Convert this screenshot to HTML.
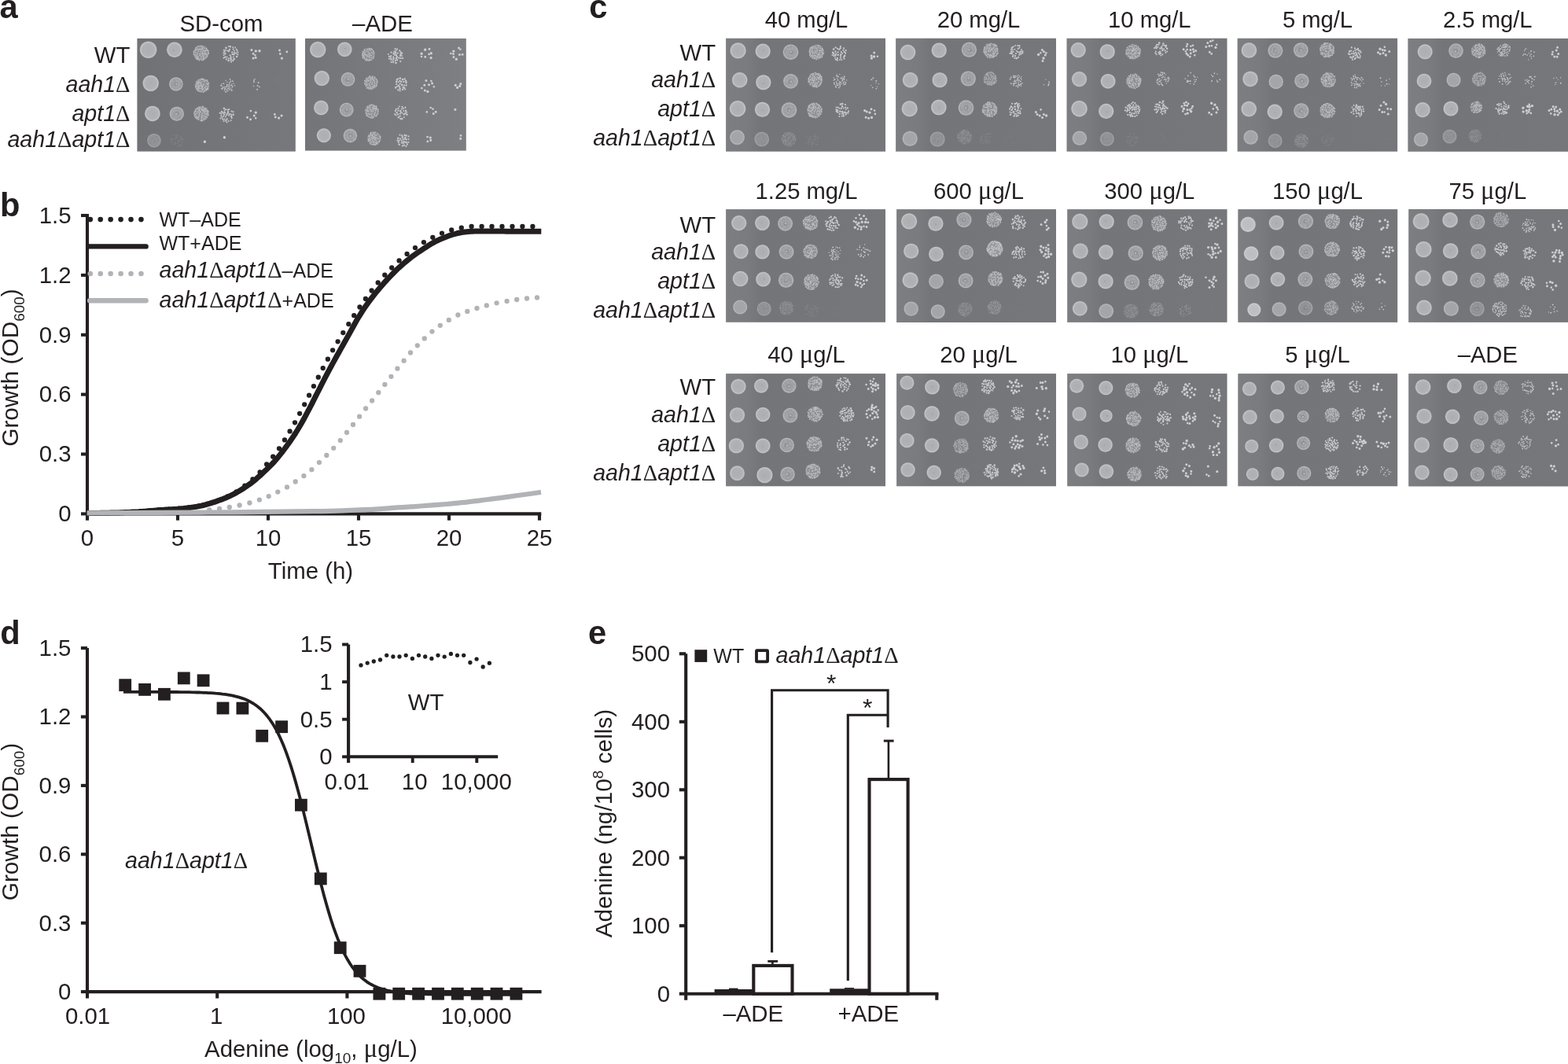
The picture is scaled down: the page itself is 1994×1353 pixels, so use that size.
<!DOCTYPE html>
<html><head><meta charset="utf-8"><title>Figure</title>
<style>
html,body{margin:0;padding:0;background:#fff}
svg{display:block}
text{font-family:"Liberation Sans",sans-serif;fill:#231f20}
.dl{font-family:"Liberation Serif",serif;font-style:normal}
.mu{font-family:"Liberation Serif",serif;font-style:normal;font-size:1.12em}
</style></head><body>
<svg width="1994" height="1353" viewBox="0 0 1994 1353">
<text x="-0.4" y="22.8" font-size="41.7" text-anchor="start" font-weight="bold">a</text>
<text x="281.5" y="39.5" font-size="29.4" text-anchor="middle" >SD-com</text>
<text x="486.5" y="39.5" font-size="29.4" text-anchor="middle" >–ADE</text>
<text x="165.5" y="79.5" font-size="29.4" text-anchor="end" >WT</text>
<text x="165.5" y="117.4" font-size="28.6" text-anchor="end" ><tspan font-style="italic">aah1</tspan><tspan class="dl">Δ</tspan></text>
<text x="165.5" y="153.5" font-size="28.6" text-anchor="end" ><tspan font-style="italic">apt1</tspan><tspan class="dl">Δ</tspan></text>
<text x="165.5" y="187.4" font-size="28.6" text-anchor="end" ><tspan font-style="italic">aah1</tspan><tspan class="dl">Δ</tspan><tspan font-style="italic">apt1</tspan><tspan class="dl">Δ</tspan></text>
<text x="749.2" y="22.8" font-size="41.7" text-anchor="start" font-weight="bold">c</text>
<text x="1025.5" y="34.5" font-size="29.2" text-anchor="middle" >40 mg/L</text>
<text x="1244.5" y="34.5" font-size="29.2" text-anchor="middle" >20 mg/L</text>
<text x="1461.8" y="34.5" font-size="29.2" text-anchor="middle" >10 mg/L</text>
<text x="1675.5" y="34.5" font-size="29.2" text-anchor="middle" >5 mg/L</text>
<text x="1891.8" y="34.5" font-size="29.2" text-anchor="middle" >2.5 mg/L</text>
<text x="910.2" y="76.9" font-size="29.4" text-anchor="end" >WT</text>
<text x="910.2" y="111.2" font-size="28.6" text-anchor="end" ><tspan font-style="italic">aah1</tspan><tspan class="dl">Δ</tspan></text>
<text x="910.2" y="148.3" font-size="28.6" text-anchor="end" ><tspan font-style="italic">apt1</tspan><tspan class="dl">Δ</tspan></text>
<text x="910.2" y="185.2" font-size="28.6" text-anchor="end" ><tspan font-style="italic">aah1</tspan><tspan class="dl">Δ</tspan><tspan font-style="italic">apt1</tspan><tspan class="dl">Δ</tspan></text>
<text x="1025.5" y="252.5" font-size="29.2" text-anchor="middle" >1.25 mg/L</text>
<text x="1244.5" y="252.5" font-size="29.2" text-anchor="middle" >600 <tspan class="mu">μ</tspan>g/L</text>
<text x="1461.8" y="252.5" font-size="29.2" text-anchor="middle" >300 <tspan class="mu">μ</tspan>g/L</text>
<text x="1675.5" y="252.5" font-size="29.2" text-anchor="middle" >150 <tspan class="mu">μ</tspan>g/L</text>
<text x="1891.8" y="252.5" font-size="29.2" text-anchor="middle" >75 <tspan class="mu">μ</tspan>g/L</text>
<text x="910.2" y="295.7" font-size="29.4" text-anchor="end" >WT</text>
<text x="910.2" y="330.1" font-size="28.6" text-anchor="end" ><tspan font-style="italic">aah1</tspan><tspan class="dl">Δ</tspan></text>
<text x="910.2" y="367.1" font-size="28.6" text-anchor="end" ><tspan font-style="italic">apt1</tspan><tspan class="dl">Δ</tspan></text>
<text x="910.2" y="404.0" font-size="28.6" text-anchor="end" ><tspan font-style="italic">aah1</tspan><tspan class="dl">Δ</tspan><tspan font-style="italic">apt1</tspan><tspan class="dl">Δ</tspan></text>
<text x="1025.5" y="460.7" font-size="29.2" text-anchor="middle" >40 <tspan class="mu">μ</tspan>g/L</text>
<text x="1244.5" y="460.7" font-size="29.2" text-anchor="middle" >20 <tspan class="mu">μ</tspan>g/L</text>
<text x="1461.8" y="460.7" font-size="29.2" text-anchor="middle" >10 <tspan class="mu">μ</tspan>g/L</text>
<text x="1675.5" y="460.7" font-size="29.2" text-anchor="middle" >5 <tspan class="mu">μ</tspan>g/L</text>
<text x="1891.8" y="460.7" font-size="29.2" text-anchor="middle" >–ADE</text>
<text x="910.2" y="502.4" font-size="29.4" text-anchor="end" >WT</text>
<text x="910.2" y="536.7" font-size="28.6" text-anchor="end" ><tspan font-style="italic">aah1</tspan><tspan class="dl">Δ</tspan></text>
<text x="910.2" y="573.7" font-size="28.6" text-anchor="end" ><tspan font-style="italic">apt1</tspan><tspan class="dl">Δ</tspan></text>
<text x="910.2" y="610.6" font-size="28.6" text-anchor="end" ><tspan font-style="italic">aah1</tspan><tspan class="dl">Δ</tspan><tspan font-style="italic">apt1</tspan><tspan class="dl">Δ</tspan></text>
<defs>
<radialGradient id="gL"><stop offset="0" stop-color="#adaeb1"/><stop offset=".72" stop-color="#b1b2b5"/><stop offset=".9" stop-color="#c3c4c6"/><stop offset="1" stop-color="#a2a3a6"/></radialGradient>
<radialGradient id="gLp"><stop offset="0" stop-color="#bcbdc0"/><stop offset=".72" stop-color="#bfc0c3"/><stop offset=".9" stop-color="#cccdcf"/><stop offset="1" stop-color="#a8a9ac"/></radialGradient>
<radialGradient id="gM"><stop offset="0" stop-color="#a2a3a6"/><stop offset=".75" stop-color="#a0a1a4"/><stop offset=".9" stop-color="#b7b8ba"/><stop offset="1" stop-color="#98999c"/></radialGradient>
<radialGradient id="gM2"><stop offset="0" stop-color="#939497"/><stop offset=".75" stop-color="#929396"/><stop offset=".9" stop-color="#a5a6a9"/><stop offset="1" stop-color="#8c8d90"/></radialGradient>
<radialGradient id="gD"><stop offset="0" stop-color="#a3a4a7"/><stop offset=".75" stop-color="#a5a6a9"/><stop offset=".9" stop-color="#b6b7ba"/><stop offset="1" stop-color="#999a9d"/></radialGradient>
<radialGradient id="gF"><stop offset="0" stop-color="#929396"/><stop offset=".75" stop-color="#919295"/><stop offset=".9" stop-color="#a0a1a4"/><stop offset="1" stop-color="#88898d"/></radialGradient>
<linearGradient id="pg" x1="0" y1="0" x2="1" y2="0"><stop offset="0" stop-color="#7d7e81"/><stop offset=".14" stop-color="#7a7b7e"/><stop offset=".22" stop-color="#747578"/><stop offset="1" stop-color="#76777a"/></linearGradient>
<linearGradient id="pa" x1="0" y1="0" x2="1" y2="0"><stop offset="0" stop-color="#717275"/><stop offset="1" stop-color="#77787b"/></linearGradient>
<linearGradient id="pb" x1="0" y1="0" x2="1" y2="0"><stop offset="0" stop-color="#747578"/><stop offset="1" stop-color="#7e7f82"/></linearGradient>
<filter id="bl" x="-5%" y="-5%" width="110%" height="110%"><feGaussianBlur stdDeviation="0.55"/></filter>
</defs>
<rect x="174.4" y="48.9" width="201.4" height="143.7" fill="url(#pa)"/>
<rect x="388.0" y="48.9" width="204.8" height="142.7" fill="url(#pb)"/>
<rect x="923.1" y="48.7" width="202.9" height="144.0" fill="url(#pg)"/>
<rect x="1139.1" y="48.7" width="203.9" height="144.0" fill="url(#pg)"/>
<rect x="1356.5" y="48.7" width="204.0" height="144.0" fill="url(#pg)"/>
<rect x="1573.6" y="48.7" width="203.5" height="144.0" fill="url(#pg)"/>
<rect x="1790.4" y="48.9" width="203.6" height="143.9" fill="url(#pg)"/>
<rect x="923.1" y="266.1" width="202.9" height="143.7" fill="url(#pg)"/>
<rect x="1140.1" y="266.1" width="202.9" height="143.9" fill="url(#pg)"/>
<rect x="1357.2" y="266.1" width="203.3" height="143.8" fill="url(#pg)"/>
<rect x="1574.3" y="266.1" width="202.9" height="143.8" fill="url(#pg)"/>
<rect x="1791.2" y="266.0" width="202.8" height="143.9" fill="url(#pg)"/>
<rect x="923.1" y="475.1" width="202.9" height="143.2" fill="url(#pg)"/>
<rect x="1140.1" y="475.1" width="202.9" height="143.2" fill="url(#pg)"/>
<rect x="1357.2" y="475.1" width="203.3" height="143.2" fill="url(#pg)"/>
<rect x="1574.3" y="475.1" width="202.9" height="143.2" fill="url(#pg)"/>
<rect x="1791.2" y="475.1" width="202.8" height="143.4" fill="url(#pg)"/>
<g filter="url(#bl)" fill="none" stroke-linecap="round">
<circle cx="188.6" cy="63.3" r="10.9" fill="url(#gL)" stroke="none"/>
<circle cx="221.9" cy="63.3" r="10.0" fill="url(#gL)" stroke="none"/>
<circle cx="255.8" cy="67.2" r="10.0" fill="#8f9093" stroke="none"/>
<circle cx="191.7" cy="105.8" r="10.4" fill="url(#gL)" stroke="none"/>
<circle cx="223.9" cy="106.9" r="9.0" fill="url(#gM)" stroke="none"/>
<circle cx="257.1" cy="108.5" r="9.3" fill="#8f9093" stroke="none"/>
<circle cx="193.9" cy="144.4" r="10.0" fill="url(#gL)" stroke="none"/>
<circle cx="224.8" cy="144.7" r="9.3" fill="url(#gM)" stroke="none"/>
<circle cx="256.0" cy="144.4" r="9.7" fill="#8f9093" stroke="none"/>
<circle cx="195.9" cy="178.7" r="9.0" fill="url(#gF)" stroke="none"/>
<circle cx="404.2" cy="63.1" r="10.4" fill="url(#gL)" stroke="none"/>
<circle cx="438.3" cy="62.8" r="9.5" fill="url(#gL)" stroke="none"/>
<circle cx="468.5" cy="69.3" r="8.5" fill="#8f9093" stroke="none"/>
<circle cx="409.3" cy="99.5" r="9.8" fill="url(#gL)" stroke="none"/>
<circle cx="442.5" cy="100.9" r="9.1" fill="url(#gM)" stroke="none"/>
<circle cx="472.0" cy="105.1" r="8.9" fill="#8f9093" stroke="none"/>
<circle cx="408.4" cy="137.0" r="9.5" fill="url(#gL)" stroke="none"/>
<circle cx="440.7" cy="139.6" r="9.1" fill="url(#gM)" stroke="none"/>
<circle cx="472.8" cy="141.5" r="8.9" fill="#8f9093" stroke="none"/>
<circle cx="411.9" cy="172.2" r="9.2" fill="url(#gL)" stroke="none"/>
<circle cx="445.4" cy="172.5" r="8.9" fill="url(#gM)" stroke="none"/>
<circle cx="475.8" cy="176.0" r="8.9" fill="#8f9093" stroke="none"/>
<circle cx="938.6" cy="64.4" r="10.3" fill="url(#gL)" stroke="none"/>
<circle cx="970.2" cy="65.1" r="9.8" fill="url(#gL)" stroke="none"/>
<circle cx="1005.5" cy="66.2" r="10.0" fill="url(#gM)" stroke="none"/>
<circle cx="1038.3" cy="66.2" r="9.8" fill="#8f9093" stroke="none"/>
<circle cx="940.7" cy="101.7" r="10.0" fill="url(#gL)" stroke="none"/>
<circle cx="970.8" cy="104.8" r="9.8" fill="url(#gL)" stroke="none"/>
<circle cx="1005.5" cy="103.3" r="9.6" fill="url(#gM)" stroke="none"/>
<circle cx="1036.7" cy="101.7" r="9.6" fill="#8f9093" stroke="none"/>
<circle cx="938.1" cy="138.2" r="10.5" fill="url(#gL)" stroke="none"/>
<circle cx="969.5" cy="139.3" r="9.8" fill="url(#gL)" stroke="none"/>
<circle cx="1003.4" cy="139.9" r="10.0" fill="url(#gM)" stroke="none"/>
<circle cx="1036.1" cy="140.4" r="9.8" fill="#8f9093" stroke="none"/>
<circle cx="937.5" cy="174.6" r="9.6" fill="url(#gD)" stroke="none"/>
<circle cx="968.7" cy="177.0" r="9.6" fill="url(#gF)" stroke="none"/>
<circle cx="1002.9" cy="177.0" r="9.4" fill="#7d7e82" stroke="none"/>
<circle cx="1154.5" cy="66.6" r="10.0" fill="url(#gL)" stroke="none"/>
<circle cx="1194.2" cy="64.0" r="9.8" fill="url(#gL)" stroke="none"/>
<circle cx="1232.4" cy="63.3" r="9.8" fill="url(#gM)" stroke="none"/>
<circle cx="1260.1" cy="64.4" r="9.8" fill="#8f9093" stroke="none"/>
<circle cx="1157.6" cy="101.7" r="10.0" fill="url(#gL)" stroke="none"/>
<circle cx="1195.1" cy="101.7" r="9.8" fill="url(#gL)" stroke="none"/>
<circle cx="1231.3" cy="100.0" r="9.8" fill="url(#gM)" stroke="none"/>
<circle cx="1259.2" cy="100.0" r="8.7" fill="#87888c" stroke="none"/>
<circle cx="1156.7" cy="138.2" r="10.3" fill="url(#gL)" stroke="none"/>
<circle cx="1193.8" cy="136.6" r="10.0" fill="url(#gL)" stroke="none"/>
<circle cx="1228.5" cy="137.1" r="10.0" fill="url(#gM)" stroke="none"/>
<circle cx="1258.6" cy="139.3" r="9.8" fill="#8f9093" stroke="none"/>
<circle cx="1157.2" cy="176.3" r="9.8" fill="url(#gD)" stroke="none"/>
<circle cx="1192.1" cy="177.0" r="9.8" fill="url(#gF)" stroke="none"/>
<circle cx="1226.5" cy="174.2" r="9.4" fill="#7d7e82" stroke="none"/>
<circle cx="1371.2" cy="63.6" r="9.8" fill="url(#gL)" stroke="none"/>
<circle cx="1408.2" cy="65.7" r="9.8" fill="url(#gL)" stroke="none"/>
<circle cx="1441.0" cy="65.7" r="9.8" fill="#8f9093" stroke="none"/>
<circle cx="1372.5" cy="100.6" r="9.8" fill="url(#gL)" stroke="none"/>
<circle cx="1409.1" cy="103.3" r="9.6" fill="url(#gL)" stroke="none"/>
<circle cx="1441.8" cy="103.3" r="9.6" fill="#8f9093" stroke="none"/>
<circle cx="1372.5" cy="138.2" r="10.5" fill="url(#gL)" stroke="none"/>
<circle cx="1406.7" cy="141.4" r="9.8" fill="url(#gL)" stroke="none"/>
<circle cx="1372.9" cy="175.7" r="9.4" fill="url(#gD)" stroke="none"/>
<circle cx="1407.8" cy="176.8" r="9.2" fill="url(#gF)" stroke="none"/>
<circle cx="1588.4" cy="64.0" r="10.0" fill="url(#gL)" stroke="none"/>
<circle cx="1621.8" cy="64.4" r="9.6" fill="url(#gM)" stroke="none"/>
<circle cx="1654.3" cy="63.6" r="9.6" fill="url(#gM)" stroke="none"/>
<circle cx="1687.7" cy="63.6" r="9.6" fill="#8f9093" stroke="none"/>
<circle cx="1590.0" cy="100.4" r="10.0" fill="url(#gL)" stroke="none"/>
<circle cx="1622.7" cy="103.9" r="9.4" fill="url(#gD)" stroke="none"/>
<circle cx="1655.4" cy="102.8" r="9.4" fill="url(#gM)" stroke="none"/>
<circle cx="1689.2" cy="101.7" r="9.6" fill="#8f9093" stroke="none"/>
<circle cx="1588.2" cy="138.6" r="10.0" fill="url(#gL)" stroke="none"/>
<circle cx="1621.2" cy="142.1" r="9.8" fill="url(#gL)" stroke="none"/>
<circle cx="1654.8" cy="140.8" r="9.8" fill="url(#gM)" stroke="none"/>
<circle cx="1688.1" cy="140.8" r="9.8" fill="#8f9093" stroke="none"/>
<circle cx="1590.6" cy="174.6" r="9.4" fill="url(#gD)" stroke="none"/>
<circle cx="1621.6" cy="179.0" r="9.2" fill="url(#gF)" stroke="none"/>
<circle cx="1655.0" cy="179.0" r="9.2" fill="#7d7e82" stroke="none"/>
<circle cx="1812.2" cy="65.8" r="9.7" fill="url(#gL)" stroke="none"/>
<circle cx="1851.5" cy="64.6" r="9.5" fill="url(#gM)" stroke="none"/>
<circle cx="1880.3" cy="64.5" r="9.2" fill="#8f9093" stroke="none"/>
<circle cx="1811.0" cy="102.9" r="9.5" fill="url(#gL)" stroke="none"/>
<circle cx="1848.6" cy="101.7" r="9.2" fill="url(#gD)" stroke="none"/>
<circle cx="1881.1" cy="100.5" r="9.1" fill="#87888c" stroke="none"/>
<circle cx="1809.1" cy="139.6" r="9.8" fill="url(#gL)" stroke="none"/>
<circle cx="1845.0" cy="138.1" r="9.7" fill="url(#gL)" stroke="none"/>
<circle cx="1877.3" cy="136.4" r="7.7" fill="#8f9093" stroke="none"/>
<circle cx="1807.0" cy="177.4" r="9.2" fill="url(#gD)" stroke="none"/>
<circle cx="1843.5" cy="173.6" r="9.2" fill="url(#gF)" stroke="none"/>
<circle cx="1876.0" cy="173.0" r="8.5" fill="#7d7e82" stroke="none"/>
<circle cx="939.7" cy="283.6" r="9.8" fill="url(#gL)" stroke="none"/>
<circle cx="969.5" cy="283.6" r="9.6" fill="url(#gL)" stroke="none"/>
<circle cx="998.6" cy="284.3" r="9.6" fill="url(#gM)" stroke="none"/>
<circle cx="1030.6" cy="283.2" r="9.8" fill="#8f9093" stroke="none"/>
<circle cx="942.3" cy="319.6" r="9.6" fill="url(#gL)" stroke="none"/>
<circle cx="969.5" cy="320.3" r="9.4" fill="url(#gL)" stroke="none"/>
<circle cx="1000.1" cy="320.3" r="9.6" fill="url(#gM)" stroke="none"/>
<circle cx="1030.6" cy="319.6" r="9.2" fill="#8f9093" stroke="none"/>
<circle cx="941.6" cy="354.5" r="10.0" fill="url(#gL)" stroke="none"/>
<circle cx="970.6" cy="355.2" r="9.6" fill="url(#gL)" stroke="none"/>
<circle cx="999.6" cy="356.3" r="9.8" fill="url(#gM)" stroke="none"/>
<circle cx="1031.7" cy="358.4" r="10.0" fill="#8f9093" stroke="none"/>
<circle cx="941.2" cy="390.5" r="9.2" fill="url(#gD)" stroke="none"/>
<circle cx="971.7" cy="392.7" r="9.2" fill="url(#gF)" stroke="none"/>
<circle cx="1000.1" cy="391.6" r="9.4" fill="#7d7e82" stroke="none"/>
<circle cx="1156.1" cy="281.4" r="10.3" fill="url(#gL)" stroke="none"/>
<circle cx="1189.9" cy="284.3" r="9.8" fill="url(#gL)" stroke="none"/>
<circle cx="1225.9" cy="279.5" r="9.8" fill="url(#gM)" stroke="none"/>
<circle cx="1264.0" cy="279.5" r="9.8" fill="#8f9093" stroke="none"/>
<circle cx="1158.7" cy="319.2" r="9.8" fill="url(#gL)" stroke="none"/>
<circle cx="1190.5" cy="323.1" r="9.6" fill="url(#gL)" stroke="none"/>
<circle cx="1228.5" cy="320.9" r="9.6" fill="url(#gM)" stroke="none"/>
<circle cx="1265.1" cy="316.3" r="10.3" fill="#999a9d" stroke="none"/>
<circle cx="1157.6" cy="356.3" r="10.3" fill="url(#gL)" stroke="none"/>
<circle cx="1190.5" cy="357.8" r="9.6" fill="url(#gD)" stroke="none"/>
<circle cx="1228.1" cy="356.9" r="9.6" fill="url(#gM)" stroke="none"/>
<circle cx="1265.8" cy="354.5" r="9.6" fill="#8f9093" stroke="none"/>
<circle cx="1158.7" cy="392.7" r="9.4" fill="url(#gD)" stroke="none"/>
<circle cx="1192.7" cy="396.2" r="9.2" fill="url(#gD)" stroke="none"/>
<circle cx="1227.4" cy="393.3" r="9.2" fill="#7d7e82" stroke="none"/>
<circle cx="1264.7" cy="391.2" r="9.2" fill="#7d7e82" stroke="none"/>
<circle cx="1373.3" cy="281.7" r="10.3" fill="url(#gL)" stroke="none"/>
<circle cx="1407.2" cy="281.7" r="9.8" fill="url(#gL)" stroke="none"/>
<circle cx="1443.4" cy="282.7" r="10.0" fill="url(#gM)" stroke="none"/>
<circle cx="1473.7" cy="284.3" r="10.0" fill="#8f9093" stroke="none"/>
<circle cx="1374.0" cy="319.2" r="10.0" fill="url(#gL)" stroke="none"/>
<circle cx="1406.3" cy="320.7" r="9.6" fill="url(#gL)" stroke="none"/>
<circle cx="1444.2" cy="321.8" r="9.8" fill="url(#gM)" stroke="none"/>
<circle cx="1475.0" cy="321.4" r="10.0" fill="#8f9093" stroke="none"/>
<circle cx="1372.3" cy="355.6" r="10.3" fill="url(#gL)" stroke="none"/>
<circle cx="1406.1" cy="357.8" r="9.8" fill="url(#gL)" stroke="none"/>
<circle cx="1439.4" cy="359.1" r="10.0" fill="url(#gM)" stroke="none"/>
<circle cx="1470.2" cy="358.4" r="10.0" fill="#8f9093" stroke="none"/>
<circle cx="1373.3" cy="392.3" r="9.6" fill="url(#gL)" stroke="none"/>
<circle cx="1406.7" cy="395.5" r="9.6" fill="url(#gD)" stroke="none"/>
<circle cx="1438.4" cy="395.5" r="9.6" fill="#7d7e82" stroke="none"/>
<circle cx="1470.6" cy="393.3" r="9.4" fill="#7d7e82" stroke="none"/>
<circle cx="1587.1" cy="285.4" r="9.8" fill="url(#gLp)" stroke="none"/>
<circle cx="1623.1" cy="283.2" r="9.6" fill="url(#gL)" stroke="none"/>
<circle cx="1660.4" cy="281.4" r="9.8" fill="url(#gM)" stroke="none"/>
<circle cx="1694.2" cy="281.4" r="9.8" fill="#8f9093" stroke="none"/>
<circle cx="1591.1" cy="322.4" r="9.4" fill="url(#gLp)" stroke="none"/>
<circle cx="1624.2" cy="321.4" r="9.4" fill="url(#gL)" stroke="none"/>
<circle cx="1660.9" cy="319.8" r="9.6" fill="url(#gM)" stroke="none"/>
<circle cx="1694.0" cy="317.4" r="9.8" fill="#8f9093" stroke="none"/>
<circle cx="1592.2" cy="357.8" r="9.8" fill="url(#gL)" stroke="none"/>
<circle cx="1624.9" cy="355.2" r="9.4" fill="url(#gL)" stroke="none"/>
<circle cx="1659.8" cy="355.2" r="9.6" fill="url(#gM)" stroke="none"/>
<circle cx="1694.7" cy="356.7" r="9.8" fill="#8f9093" stroke="none"/>
<circle cx="1594.8" cy="393.8" r="8.7" fill="url(#gLp)" stroke="none"/>
<circle cx="1626.6" cy="393.3" r="9.2" fill="url(#gD)" stroke="none"/>
<circle cx="1660.2" cy="391.6" r="9.4" fill="url(#gM2)" stroke="none"/>
<circle cx="1692.9" cy="391.6" r="9.2" fill="#87888c" stroke="none"/>
<circle cx="1807.2" cy="281.5" r="10.6" fill="url(#gL)" stroke="none"/>
<circle cx="1844.1" cy="279.8" r="10.0" fill="url(#gL)" stroke="none"/>
<circle cx="1878.7" cy="282.2" r="9.8" fill="url(#gM)" stroke="none"/>
<circle cx="1908.9" cy="279.5" r="9.8" fill="#87888c" stroke="none"/>
<circle cx="1810.4" cy="317.1" r="10.4" fill="url(#gL)" stroke="none"/>
<circle cx="1844.7" cy="319.1" r="10.0" fill="url(#gL)" stroke="none"/>
<circle cx="1879.9" cy="319.7" r="9.8" fill="url(#gM)" stroke="none"/>
<circle cx="1809.6" cy="353.7" r="10.4" fill="url(#gL)" stroke="none"/>
<circle cx="1843.8" cy="353.9" r="10.0" fill="url(#gL)" stroke="none"/>
<circle cx="1879.0" cy="356.3" r="9.8" fill="url(#gM)" stroke="none"/>
<circle cx="1909.1" cy="356.3" r="9.8" fill="#8f9093" stroke="none"/>
<circle cx="1811.0" cy="391.2" r="10.0" fill="url(#gL)" stroke="none"/>
<circle cx="1845.4" cy="392.4" r="9.7" fill="url(#gD)" stroke="none"/>
<circle cx="1878.4" cy="392.7" r="9.5" fill="url(#gM2)" stroke="none"/>
<circle cx="939.0" cy="491.5" r="9.8" fill="url(#gL)" stroke="none"/>
<circle cx="968.0" cy="490.7" r="9.2" fill="url(#gL)" stroke="none"/>
<circle cx="1003.4" cy="490.7" r="9.4" fill="url(#gM)" stroke="none"/>
<circle cx="1036.5" cy="487.8" r="9.6" fill="#8f9093" stroke="none"/>
<circle cx="937.5" cy="527.7" r="9.8" fill="url(#gL)" stroke="none"/>
<circle cx="970.2" cy="527.1" r="9.4" fill="url(#gL)" stroke="none"/>
<circle cx="1004.9" cy="528.2" r="9.6" fill="url(#gM)" stroke="none"/>
<circle cx="1036.7" cy="526.6" r="9.8" fill="#8f9093" stroke="none"/>
<circle cx="936.4" cy="566.8" r="9.8" fill="url(#gL)" stroke="none"/>
<circle cx="970.2" cy="566.8" r="9.6" fill="url(#gL)" stroke="none"/>
<circle cx="1000.7" cy="565.9" r="9.4" fill="url(#gM)" stroke="none"/>
<circle cx="1035.4" cy="564.8" r="9.8" fill="#8f9093" stroke="none"/>
<circle cx="937.5" cy="601.7" r="9.6" fill="url(#gL)" stroke="none"/>
<circle cx="972.4" cy="604.1" r="10.3" fill="url(#gL)" stroke="none"/>
<circle cx="1001.6" cy="603.0" r="9.4" fill="url(#gM)" stroke="none"/>
<circle cx="1033.9" cy="599.1" r="9.6" fill="#8f9093" stroke="none"/>
<circle cx="1153.4" cy="486.7" r="9.2" fill="url(#gL)" stroke="none"/>
<circle cx="1185.5" cy="492.2" r="9.6" fill="url(#gL)" stroke="none"/>
<circle cx="1221.5" cy="495.5" r="9.6" fill="#87888c" stroke="none"/>
<circle cx="1154.3" cy="524.5" r="9.6" fill="url(#gL)" stroke="none"/>
<circle cx="1185.1" cy="526.0" r="10.0" fill="url(#gL)" stroke="none"/>
<circle cx="1223.3" cy="531.9" r="9.6" fill="url(#gM)" stroke="none"/>
<circle cx="1260.8" cy="528.2" r="9.6" fill="#8f9093" stroke="none"/>
<circle cx="1153.4" cy="560.2" r="9.4" fill="url(#gL)" stroke="none"/>
<circle cx="1185.1" cy="566.4" r="9.4" fill="url(#gL)" stroke="none"/>
<circle cx="1222.2" cy="567.0" r="9.6" fill="#87888c" stroke="none"/>
<circle cx="1154.5" cy="597.3" r="9.4" fill="url(#gL)" stroke="none"/>
<circle cx="1187.7" cy="600.8" r="9.4" fill="url(#gL)" stroke="none"/>
<circle cx="1223.3" cy="604.1" r="9.6" fill="#87888c" stroke="none"/>
<circle cx="1369.2" cy="490.7" r="9.2" fill="url(#gL)" stroke="none"/>
<circle cx="1406.3" cy="493.3" r="9.2" fill="url(#gL)" stroke="none"/>
<circle cx="1440.1" cy="496.1" r="9.6" fill="#8f9093" stroke="none"/>
<circle cx="1372.5" cy="526.4" r="9.2" fill="url(#gL)" stroke="none"/>
<circle cx="1406.7" cy="528.8" r="8.1" fill="url(#gL)" stroke="none"/>
<circle cx="1441.6" cy="532.5" r="9.6" fill="#8f9093" stroke="none"/>
<circle cx="1374.7" cy="562.0" r="9.4" fill="url(#gL)" stroke="none"/>
<circle cx="1405.6" cy="565.7" r="9.4" fill="url(#gL)" stroke="none"/>
<circle cx="1441.2" cy="566.4" r="9.8" fill="#8f9093" stroke="none"/>
<circle cx="1375.7" cy="597.5" r="9.2" fill="url(#gL)" stroke="none"/>
<circle cx="1406.9" cy="599.5" r="9.4" fill="url(#gL)" stroke="none"/>
<circle cx="1442.7" cy="603.0" r="9.4" fill="#8f9093" stroke="none"/>
<circle cx="1588.9" cy="494.4" r="9.2" fill="url(#gL)" stroke="none"/>
<circle cx="1624.9" cy="492.8" r="9.2" fill="url(#gL)" stroke="none"/>
<circle cx="1655.4" cy="492.2" r="9.4" fill="url(#gM)" stroke="none"/>
<circle cx="1589.5" cy="530.4" r="9.4" fill="url(#gL)" stroke="none"/>
<circle cx="1623.8" cy="529.3" r="9.2" fill="url(#gL)" stroke="none"/>
<circle cx="1657.2" cy="529.7" r="7.6" fill="url(#gM)" stroke="none"/>
<circle cx="1694.0" cy="528.2" r="9.4" fill="#8f9093" stroke="none"/>
<circle cx="1591.7" cy="567.4" r="8.7" fill="url(#gL)" stroke="none"/>
<circle cx="1623.1" cy="566.4" r="9.4" fill="url(#gL)" stroke="none"/>
<circle cx="1657.6" cy="563.5" r="8.7" fill="url(#gM)" stroke="none"/>
<circle cx="1592.8" cy="603.0" r="8.1" fill="url(#gL)" stroke="none"/>
<circle cx="1624.9" cy="602.3" r="8.7" fill="url(#gL)" stroke="none"/>
<circle cx="1658.3" cy="601.7" r="9.2" fill="url(#gM)" stroke="none"/>
<circle cx="1809.6" cy="492.2" r="10.0" fill="url(#gL)" stroke="none"/>
<circle cx="1849.4" cy="490.8" r="9.5" fill="url(#gL)" stroke="none"/>
<circle cx="1882.6" cy="492.6" r="9.1" fill="url(#gM)" stroke="none"/>
<circle cx="1909.1" cy="493.0" r="9.2" fill="#87888c" stroke="none"/>
<circle cx="1811.0" cy="529.3" r="9.8" fill="url(#gL)" stroke="none"/>
<circle cx="1847.2" cy="529.8" r="9.5" fill="url(#gL)" stroke="none"/>
<circle cx="1883.5" cy="531.4" r="9.5" fill="url(#gM)" stroke="none"/>
<circle cx="1909.1" cy="530.4" r="9.5" fill="#87888c" stroke="none"/>
<circle cx="1808.1" cy="565.9" r="10.0" fill="url(#gL)" stroke="none"/>
<circle cx="1845.0" cy="565.7" r="9.8" fill="url(#gL)" stroke="none"/>
<circle cx="1878.7" cy="567.1" r="9.2" fill="url(#gM)" stroke="none"/>
<circle cx="1904.7" cy="567.4" r="9.1" fill="#87888c" stroke="none"/>
<circle cx="1808.4" cy="600.8" r="9.5" fill="url(#gL)" stroke="none"/>
<circle cx="1844.8" cy="603.5" r="9.2" fill="url(#gL)" stroke="none"/>
<circle cx="1878.7" cy="603.1" r="9.1" fill="url(#gM)" stroke="none"/>
<circle cx="1905.6" cy="600.8" r="9.2" fill="#87888c" stroke="none"/>
<path d="M221.1 64.0h0M438.9 61.9h0M970.4 64.8h0M970.9 105.6h0M970.2 140.0h0M1193.8 63.9h0M1194.6 102.0h0M1194.0 137.4h0M1408.1 65.0h0M1408.2 103.5h0M1407.6 142.3h0M1621.3 143.0h0M1845.7 138.2h0M968.8 283.3h0M970.4 320.0h0M971.5 354.9h0M1190.0 285.0h0M1190.3 322.2h0M1406.2 281.2h0M1406.4 321.1h0M1405.2 357.7h0M1622.8 283.8h0M1623.5 321.4h0M1625.0 355.7h0M1843.5 279.3h0M1844.3 318.4h0M1843.6 354.9h0M968.6 489.9h0M970.8 527.9h0M969.6 567.7h0M972.3 604.4h0M1185.6 492.1h0M1185.7 526.5h0M1185.4 566.0h0M1187.7 601.1h0M1406.8 492.8h0M1407.6 528.7h0M1404.7 566.3h0M1407.3 598.6h0M1625.3 493.7h0M1624.2 529.5h0M1622.6 565.9h0M1624.1 602.2h0M1849.7 490.0h0M1847.0 530.8h0M1844.4 564.7h0M1844.7 603.4h0" stroke="#9fa0a3" stroke-width="2.2"/>
<path d="M222.4 62.8h0M438.8 63.6h0M969.3 65.4h0M970.3 104.4h0M969.6 138.8h0M1193.9 63.5h0M1195.2 102.5h0M1192.8 136.9h0M1407.6 66.3h0M1408.5 103.2h0M1406.4 141.0h0M1620.8 142.7h0M1844.8 137.2h0M969.9 283.4h0M969.8 320.4h0M969.9 355.2h0M1190.4 283.7h0M1190.2 322.2h0M1407.3 281.8h0M1407.1 320.3h0M1405.7 357.0h0M1622.4 283.3h0M1624.9 321.8h0M1624.2 355.8h0M1844.8 279.0h0M1844.0 319.3h0M1843.5 354.8h0M967.8 489.7h0M970.8 527.7h0M969.2 567.4h0M972.9 603.6h0M1186.2 493.0h0M1184.5 526.0h0M1184.5 565.6h0M1187.7 600.2h0M1405.7 494.0h0M1406.0 529.1h0M1405.6 565.9h0M1406.2 598.7h0M1624.4 493.7h0M1624.1 529.3h0M1623.3 566.6h0M1624.7 601.8h0M1848.6 490.2h0M1847.4 530.7h0M1844.2 565.3h0M1845.4 603.5h0" stroke="#bdbec0" stroke-width="1.2"/>
<path d="M265.0 64.6h0M263.4 71.7h0M253.2 62.5h0M248.8 61.7h0M250.3 69.8h0M265.2 66.9h0M248.0 70.1h0M262.3 68.4h0M249.1 73.5h0M248.2 64.2h0M254.2 70.4h0M262.6 61.9h0M250.0 74.9h0M260.2 74.4h0M261.9 64.1h0M254.4 58.7h0M251.7 75.4h0M260.0 64.5h0M248.8 67.1h0M246.5 66.6h0M263.1 70.1h0M257.2 76.6h0M255.4 65.6h0M257.3 66.8h0M260.6 67.9h0M258.1 70.7h0M254.3 68.6h0M256.9 68.7h0M256.6 59.0h0M251.3 68.0h0M258.2 64.8h0M260.6 66.0h0M255.7 74.7h0M258.3 59.5h0M248.2 71.6h0M253.4 76.6h0M264.8 68.3h0M260.4 69.6h0M258.4 74.1h0M261.5 72.8h0M260.3 61.0h0M251.7 72.4h0M251.8 58.9h0M258.4 68.4h0M254.7 62.5h0M246.4 68.9h0M256.2 63.0h0M252.2 65.1h0M257.1 61.2h0M258.9 72.3h0M253.0 74.5h0M246.5 65.0h0M258.2 62.5h0M250.3 71.7h0M249.8 60.1h0M251.7 62.7h0M263.5 63.9h0M255.9 72.0h0M249.7 63.0h0M251.0 73.8h0M258.7 76.1h0M249.9 109.7h0M257.7 109.2h0M255.9 116.5h0M251.7 104.5h0M262.0 114.8h0M258.9 107.3h0M263.8 111.9h0M249.9 113.4h0M264.7 113.3h0M263.2 113.7h0M253.9 116.2h0M254.7 101.6h0M259.4 103.3h0M264.7 110.0h0M264.4 107.4h0M252.2 114.2h0M260.4 111.4h0M249.0 107.9h0M252.9 108.0h0M261.7 109.6h0M255.8 106.9h0M258.3 113.1h0M260.0 115.7h0M254.3 105.2h0M265.5 105.6h0M263.2 106.3h0M255.9 104.5h0M257.4 114.4h0M250.5 105.9h0M249.8 104.0h0M252.4 105.9h0M256.4 100.3h0M264.0 103.3h0M259.0 100.8h0M254.1 112.5h0M261.8 113.1h0M257.6 101.2h0M256.1 109.7h0M253.5 109.8h0M256.4 112.5h0M258.7 117.0h0M261.0 102.6h0M251.1 112.2h0M252.5 111.6h0M255.1 108.2h0M262.9 101.9h0M251.2 107.1h0M252.4 101.9h0M253.0 103.8h0M257.3 111.2h0M251.6 115.6h0M248.7 110.7h0M251.8 109.7h0M263.6 142.4h0M263.9 144.3h0M252.8 139.9h0M257.1 153.6h0M248.7 139.0h0M263.9 140.3h0M261.4 139.5h0M259.2 152.5h0M248.9 141.2h0M255.6 153.6h0M257.8 135.4h0M261.4 151.1h0M256.9 146.3h0M264.9 146.2h0M250.1 143.8h0M260.6 141.8h0M251.6 141.9h0M253.3 143.9h0M252.2 149.3h0M253.7 146.1h0M259.4 150.5h0M252.2 151.6h0M262.8 146.0h0M255.0 136.9h0M257.2 144.0h0M250.6 138.3h0M253.8 138.6h0M259.3 147.4h0M258.7 141.4h0M262.9 149.2h0M260.5 138.2h0M254.2 141.2h0M254.7 142.6h0M261.8 144.7h0M253.2 136.4h0M256.5 138.6h0M252.7 147.5h0M259.7 143.7h0M246.9 144.1h0M249.7 148.3h0M261.1 148.2h0M247.5 142.1h0M249.5 150.5h0M247.6 146.6h0M256.8 140.1h0M262.4 141.0h0M256.6 152.2h0M262.2 137.8h0M250.8 149.9h0M256.6 148.4h0M259.6 139.8h0M258.2 139.6h0M258.1 137.2h0M251.9 137.5h0M248.5 145.4h0M256.8 149.9h0M265.1 142.1h0M248.0 148.8h0M461.2 68.4h0M472.4 73.5h0M463.4 64.5h0M472.2 70.5h0M463.0 72.3h0M468.6 66.0h0M463.9 62.8h0M474.6 64.9h0M461.4 65.5h0M466.5 77.0h0M467.2 62.8h0M475.5 66.5h0M461.4 73.4h0M470.7 63.6h0M470.6 68.2h0M462.7 70.0h0M472.0 61.9h0M468.9 68.6h0M469.4 77.2h0M465.3 69.9h0M467.0 70.0h0M463.5 74.2h0M474.7 73.9h0M473.1 66.9h0M466.1 74.9h0M469.3 62.9h0M472.3 76.3h0M466.5 65.1h0M469.9 61.5h0M466.9 71.8h0M461.6 71.5h0M469.1 71.3h0M475.0 71.7h0M470.5 75.8h0M464.8 76.3h0M473.2 62.9h0M475.2 68.5h0M470.4 70.5h0M468.0 76.1h0M460.9 70.1h0M463.8 68.9h0M464.1 66.7h0M469.7 72.7h0M462.4 67.1h0M468.3 111.1h0M476.3 105.9h0M465.0 103.6h0M467.3 107.8h0M464.0 106.2h0M465.9 99.8h0M476.8 109.9h0M473.1 112.3h0M476.7 98.1h0M478.6 100.9h0M473.4 99.1h0M467.2 101.2h0M474.0 97.4h0M470.1 96.8h0M479.6 103.2h0M469.6 106.9h0M474.6 109.0h0M465.7 109.3h0M466.8 111.9h0M470.2 98.8h0M466.3 105.8h0M471.7 102.3h0M475.9 99.9h0M471.9 98.5h0M469.1 113.0h0M472.9 106.9h0M475.2 102.2h0M475.4 111.1h0M471.5 110.6h0M464.9 107.6h0M469.5 101.9h0M473.2 104.8h0M470.4 111.9h0M470.2 108.8h0M463.9 102.5h0M468.5 99.1h0M478.7 107.0h0M473.8 100.6h0M471.9 113.3h0M476.4 108.3h0M470.9 104.6h0M474.0 110.5h0M476.1 103.7h0M466.5 102.9h0M478.8 109.2h0M468.3 103.1h0M471.7 100.7h0M479.5 105.1h0M478.4 147.6h0M475.4 135.7h0M471.3 133.3h0M477.1 143.0h0M476.8 135.1h0M466.1 146.7h0M480.6 144.5h0M469.5 149.1h0M470.7 136.0h0M465.1 139.9h0M479.4 146.1h0M468.5 136.6h0M474.6 148.5h0M477.8 140.6h0M469.7 134.5h0M465.7 143.5h0M480.8 142.1h0M479.4 138.3h0M478.6 135.2h0M468.7 144.8h0M474.8 133.9h0M468.4 141.7h0M474.4 141.8h0M473.6 137.4h0M472.1 141.9h0M472.5 147.9h0M475.1 139.4h0M466.5 145.0h0M472.6 145.2h0M471.8 149.9h0M476.4 146.4h0M470.8 140.0h0M476.7 138.1h0M476.1 144.8h0M481.1 139.8h0M478.3 136.9h0M467.2 137.7h0M470.5 145.3h0M475.3 137.4h0M473.0 133.4h0M470.4 138.3h0M467.3 135.4h0M478.1 138.9h0M466.5 141.2h0M467.7 147.7h0M473.0 139.9h0M474.1 149.9h0M467.7 140.2h0M471.0 180.2h0M472.8 181.0h0M482.9 178.6h0M473.5 178.1h0M477.2 175.7h0M468.8 172.7h0M475.7 181.2h0M476.7 172.0h0M478.0 178.3h0M472.3 171.4h0M475.1 174.2h0M472.1 174.8h0M478.4 182.2h0M483.7 174.1h0M479.8 182.9h0M482.7 173.0h0M478.5 171.8h0M480.6 170.5h0M470.1 178.5h0M476.6 177.4h0M483.2 175.7h0M468.4 179.5h0M473.6 175.7h0M480.5 180.7h0M469.3 176.3h0M470.9 172.4h0M473.7 171.4h0M471.3 169.9h0M478.3 180.7h0M471.3 177.2h0M470.7 182.6h0M473.9 173.2h0M468.7 177.7h0M472.5 183.5h0M478.6 175.4h0M475.1 176.1h0M475.9 183.4h0M474.6 183.9h0M477.5 184.2h0M475.9 170.2h0M471.7 168.5h0M474.7 179.8h0M469.5 174.1h0M474.6 168.7h0M477.0 168.3h0M476.7 174.0h0M480.6 176.3h0M482.3 180.1h0M1045.4 72.3h0M1036.6 73.8h0M1041.1 57.9h0M1041.4 68.4h0M1039.6 57.9h0M1032.3 70.4h0M1045.8 67.5h0M1041.1 60.6h0M1036.5 64.1h0M1030.5 66.9h0M1042.0 69.8h0M1034.6 60.9h0M1035.9 67.8h0M1047.3 67.6h0M1033.8 59.3h0M1039.5 73.3h0M1038.8 65.1h0M1032.1 65.6h0M1046.6 64.1h0M1029.8 62.6h0M1033.8 67.8h0M1031.0 71.8h0M1045.6 61.5h0M1045.1 66.2h0M1029.4 65.4h0M1037.0 61.1h0M1030.7 60.9h0M1035.4 71.0h0M1045.6 63.0h0M1030.5 68.6h0M1042.3 64.2h0M1043.4 61.3h0M1042.2 72.1h0M1042.6 66.4h0M1036.5 58.9h0M1032.8 63.4h0M1032.5 61.5h0M1043.2 58.8h0M1043.6 72.5h0M1033.9 65.9h0M1036.8 66.2h0M1040.3 69.7h0M1038.7 61.1h0M1038.3 75.4h0M1044.1 70.0h0M1039.8 71.5h0M1033.7 71.2h0M1037.9 71.9h0M1039.2 63.2h0M1035.2 74.1h0M1041.6 73.6h0M1045.9 69.3h0M1032.2 60.0h0M1044.1 64.2h0M1033.3 73.4h0M1036.9 70.5h0M1038.5 67.5h0M1029.8 69.9h0M1030.1 64.1h0M1034.8 102.7h0M1043.3 97.0h0M1030.8 101.3h0M1029.3 98.5h0M1044.4 104.5h0M1040.3 94.8h0M1044.0 99.1h0M1028.8 101.8h0M1037.4 105.0h0M1030.3 107.0h0M1031.2 94.8h0M1044.8 97.5h0M1036.8 110.2h0M1038.8 109.1h0M1033.8 95.8h0M1036.2 106.8h0M1041.4 109.4h0M1034.3 93.7h0M1028.0 104.0h0M1033.8 108.2h0M1044.8 100.6h0M1037.3 95.0h0M1029.3 103.6h0M1042.8 107.9h0M1038.6 93.8h0M1041.2 100.5h0M1039.4 98.3h0M1036.2 101.6h0M1036.9 92.5h0M1035.6 108.9h0M1044.7 102.2h0M1039.3 105.8h0M1036.8 98.8h0M1033.3 98.6h0M1040.8 98.9h0M1033.6 105.5h0M1032.7 94.0h0M1043.3 95.3h0M1040.8 103.8h0M1041.7 96.0h0M1037.6 107.6h0M1035.3 99.6h0M1035.4 97.2h0M1034.5 109.9h0M1031.6 105.6h0M1033.8 101.0h0M1043.7 106.3h0M1028.3 100.3h0M1043.1 101.0h0M1042.2 98.4h0M1032.1 100.0h0M1038.4 100.9h0M1032.8 102.3h0M1034.7 104.2h0M1041.4 93.7h0M1038.7 110.8h0M1030.6 97.1h0M1029.1 146.7h0M1033.0 146.9h0M1038.8 142.3h0M1033.4 132.7h0M1037.1 149.8h0M1041.8 141.0h0M1045.0 138.7h0M1033.5 140.3h0M1027.6 140.4h0M1035.7 132.8h0M1031.8 140.9h0M1027.3 138.5h0M1039.4 133.0h0M1042.2 142.6h0M1043.7 145.1h0M1031.3 137.9h0M1037.5 136.8h0M1039.5 144.8h0M1040.1 140.9h0M1044.0 140.4h0M1033.1 136.6h0M1034.2 134.4h0M1035.1 137.7h0M1031.0 133.2h0M1037.3 139.3h0M1039.3 149.0h0M1035.2 148.3h0M1029.9 135.8h0M1041.1 137.0h0M1035.2 144.0h0M1037.3 148.0h0M1028.4 144.2h0M1029.9 145.1h0M1028.7 136.9h0M1044.5 142.2h0M1043.4 136.1h0M1041.6 134.9h0M1029.2 140.6h0M1040.5 146.0h0M1042.1 138.5h0M1036.0 141.4h0M1032.1 148.2h0M1032.4 143.7h0M1041.2 133.4h0M1034.6 136.0h0M1030.3 147.7h0M1042.0 144.7h0M1033.4 138.4h0M1033.7 149.1h0M1030.6 141.8h0M1030.8 146.3h0M1039.7 137.9h0M1041.5 147.5h0M1032.3 131.8h0M1029.3 133.9h0M1038.2 131.4h0M1028.2 135.1h0M1036.5 135.4h0M1034.8 131.3h0M1252.5 61.6h0M1269.0 67.6h0M1260.2 71.4h0M1268.4 64.9h0M1259.3 58.0h0M1262.0 72.9h0M1254.9 59.5h0M1256.9 63.9h0M1257.5 57.3h0M1252.7 66.8h0M1255.8 72.7h0M1260.2 63.4h0M1255.5 69.0h0M1257.0 61.0h0M1255.1 61.3h0M1259.2 60.4h0M1264.8 56.4h0M1257.1 65.5h0M1258.7 73.3h0M1253.1 68.4h0M1263.9 60.3h0M1266.8 61.5h0M1268.4 62.1h0M1267.2 63.5h0M1261.5 61.6h0M1262.6 71.3h0M1265.2 63.7h0M1260.3 55.5h0M1267.4 58.4h0M1263.5 69.4h0M1254.5 70.4h0M1256.1 58.5h0M1251.0 66.0h0M1266.9 70.9h0M1265.7 65.9h0M1258.8 56.6h0M1255.1 56.5h0M1267.9 68.8h0M1254.1 63.3h0M1263.7 61.8h0M1264.5 67.9h0M1263.8 72.4h0M1259.2 69.8h0M1259.2 65.1h0M1252.0 59.9h0M1258.0 71.1h0M1258.4 62.3h0M1254.3 66.2h0M1265.0 58.4h0M1262.9 68.1h0M1252.5 65.2h0M1264.5 71.0h0M1261.0 69.9h0M1262.9 56.5h0M1257.2 69.3h0M1266.3 57.3h0M1251.4 63.2h0M1263.1 65.7h0M1261.7 63.2h0M1253.2 136.4h0M1252.5 140.3h0M1258.1 143.7h0M1260.4 136.3h0M1266.9 143.8h0M1258.9 145.8h0M1264.8 139.7h0M1251.4 143.5h0M1254.2 132.4h0M1261.8 130.5h0M1258.0 146.9h0M1261.7 148.2h0M1263.4 131.7h0M1256.0 131.9h0M1267.4 141.6h0M1255.8 147.4h0M1261.5 139.5h0M1265.4 136.5h0M1255.7 140.3h0M1249.7 142.4h0M1262.9 140.0h0M1264.9 141.2h0M1250.5 139.3h0M1253.0 145.0h0M1265.3 144.7h0M1256.4 135.2h0M1263.8 137.9h0M1264.3 146.1h0M1251.0 135.9h0M1260.6 141.9h0M1257.9 129.9h0M1257.5 133.1h0M1255.5 142.7h0M1256.0 130.2h0M1266.1 135.1h0M1258.9 131.4h0M1257.2 139.7h0M1257.0 141.4h0M1259.1 132.9h0M1251.2 134.0h0M1267.4 138.1h0M1265.7 142.5h0M1256.5 145.7h0M1249.5 140.4h0M1251.1 141.6h0M1255.4 133.5h0M1259.8 139.5h0M1264.6 132.6h0M1266.7 140.0h0M1260.4 134.7h0M1256.4 137.5h0M1255.0 136.5h0M1258.3 135.5h0M1259.1 147.9h0M1267.1 136.5h0M1261.5 145.0h0M1260.8 143.7h0M1255.0 145.4h0M1264.1 134.8h0M1447.7 61.5h0M1441.5 64.3h0M1439.0 66.0h0M1438.9 73.6h0M1432.5 67.1h0M1446.9 70.5h0M1441.0 74.4h0M1440.1 64.9h0M1445.1 64.3h0M1440.3 59.2h0M1442.4 60.9h0M1436.3 59.2h0M1442.8 58.2h0M1444.8 58.2h0M1447.1 63.2h0M1440.8 61.4h0M1443.1 73.6h0M1449.5 62.3h0M1439.6 68.6h0M1443.1 71.2h0M1446.8 67.1h0M1433.3 60.5h0M1449.0 65.4h0M1443.2 63.8h0M1445.9 72.6h0M1438.1 71.8h0M1435.2 62.5h0M1448.7 71.3h0M1444.2 62.3h0M1447.4 59.7h0M1435.2 71.2h0M1445.4 61.2h0M1442.7 66.5h0M1440.1 56.5h0M1444.4 68.4h0M1437.3 74.3h0M1440.1 70.6h0M1442.7 68.3h0M1436.7 72.8h0M1433.9 63.5h0M1438.2 58.8h0M1437.9 62.8h0M1433.7 68.6h0M1435.9 68.1h0M1444.6 66.4h0M1444.4 71.9h0M1432.1 68.8h0M1449.8 67.2h0M1437.9 68.2h0M1448.3 67.7h0M1432.3 64.3h0M1449.1 69.1h0M1439.7 63.6h0M1450.3 64.0h0M1434.9 66.5h0M1441.6 62.9h0M1436.4 64.4h0M1440.2 72.7h0M1441.6 69.2h0M1442.2 96.2h0M1441.3 104.8h0M1437.7 95.0h0M1445.7 110.8h0M1442.0 110.4h0M1443.6 106.2h0M1446.1 100.1h0M1443.6 94.2h0M1448.0 102.1h0M1438.3 109.4h0M1445.4 97.0h0M1434.4 102.7h0M1439.1 103.2h0M1435.6 109.1h0M1436.6 110.6h0M1436.4 102.3h0M1444.7 101.2h0M1436.5 99.7h0M1435.1 105.0h0M1439.7 98.3h0M1437.4 97.2h0M1444.3 107.9h0M1439.4 111.4h0M1440.1 108.2h0M1450.8 101.4h0M1433.0 104.8h0M1438.3 101.8h0M1448.2 99.6h0M1434.5 107.0h0M1448.8 103.3h0M1450.1 99.5h0M1450.6 103.1h0M1440.2 101.5h0M1441.6 108.4h0M1447.2 105.8h0M1450.2 105.2h0M1449.0 108.2h0M1436.4 105.9h0M1438.0 106.3h0M1439.7 99.9h0M1440.6 106.6h0M1435.3 100.7h0M1448.0 109.7h0M1448.9 106.1h0M1435.8 96.8h0M1440.4 95.5h0M1445.2 95.2h0M1443.3 112.4h0M1445.3 103.4h0M1448.1 97.6h0M1436.4 104.2h0M1444.1 99.6h0M1434.2 99.4h0M1449.5 100.9h0M1442.0 98.1h0M1447.7 107.3h0M1433.0 101.5h0M1692.0 70.4h0M1682.0 69.1h0M1678.9 62.8h0M1688.4 71.5h0M1693.0 57.2h0M1687.3 61.2h0M1685.7 69.8h0M1680.2 67.1h0M1683.2 63.3h0M1683.4 56.4h0M1679.1 61.0h0M1695.5 59.0h0M1685.9 58.9h0M1686.2 54.8h0M1695.5 62.8h0M1691.9 60.7h0M1683.8 71.8h0M1684.5 68.0h0M1694.0 69.9h0M1690.0 61.7h0M1690.5 70.8h0M1683.6 60.1h0M1685.2 56.3h0M1687.6 58.3h0M1687.5 68.3h0M1685.3 72.4h0M1681.6 62.1h0M1689.3 69.7h0M1689.7 65.3h0M1687.1 65.6h0M1696.1 60.9h0M1686.4 71.4h0M1682.1 67.3h0M1694.2 64.8h0M1685.7 64.7h0M1690.2 72.4h0M1681.9 59.6h0M1688.3 55.0h0M1695.9 64.7h0M1680.9 57.7h0M1685.3 61.9h0M1691.4 58.7h0M1691.8 64.4h0M1693.5 63.4h0M1690.4 57.2h0M1680.1 68.7h0M1684.4 54.9h0M1690.1 59.6h0M1693.6 66.5h0M1684.0 58.5h0M1691.7 55.7h0M1694.9 68.0h0M1689.8 67.4h0M1680.3 60.0h0M1691.5 62.6h0M1696.1 67.1h0M1679.8 64.1h0M1688.6 110.0h0M1683.7 102.5h0M1682.1 101.1h0M1695.8 107.5h0M1680.4 99.4h0M1689.7 95.8h0M1692.9 104.1h0M1689.7 98.4h0M1686.4 109.7h0M1692.2 96.7h0M1687.4 94.6h0M1690.4 97.1h0M1691.1 110.1h0M1684.9 94.6h0M1688.0 98.3h0M1683.8 104.3h0M1695.2 96.4h0M1689.5 106.4h0M1685.4 107.8h0M1682.6 106.7h0M1683.9 109.2h0M1694.1 106.1h0M1694.9 108.8h0M1686.6 101.9h0M1687.1 106.4h0M1685.5 105.7h0M1685.5 98.0h0M1695.2 100.9h0M1696.3 105.9h0M1693.6 107.8h0M1693.2 109.6h0M1697.3 97.1h0M1697.5 104.2h0M1686.7 96.8h0M1689.5 100.7h0M1690.5 99.6h0M1682.6 98.1h0M1692.1 93.4h0M1689.1 94.1h0M1680.5 103.5h0M1692.8 102.3h0M1692.0 107.0h0M1690.4 102.4h0M1697.9 101.7h0M1685.8 103.3h0M1694.0 94.2h0M1680.4 101.1h0M1681.9 104.9h0M1682.8 95.5h0M1690.8 105.5h0M1685.2 99.6h0M1687.9 93.1h0M1686.3 93.1h0M1692.3 100.6h0M1687.2 103.3h0M1685.0 101.7h0M1692.9 98.1h0M1686.3 134.4h0M1694.0 135.4h0M1684.5 149.0h0M1682.8 142.5h0M1694.7 139.9h0M1689.1 142.0h0M1681.1 135.0h0M1682.2 146.5h0M1686.8 139.0h0M1685.0 133.2h0M1686.8 145.3h0M1690.3 148.6h0M1679.5 137.5h0M1685.5 136.5h0M1680.2 142.2h0M1697.5 141.7h0M1691.2 136.9h0M1690.3 139.5h0M1681.5 138.8h0M1688.6 147.4h0M1696.0 141.1h0M1695.9 136.6h0M1693.2 143.3h0M1689.5 132.4h0M1683.4 132.9h0M1696.6 144.4h0M1690.4 144.8h0M1679.5 140.0h0M1690.2 134.5h0M1686.6 131.9h0M1682.5 139.9h0M1692.5 140.1h0M1695.4 138.1h0M1690.5 142.9h0M1694.5 145.7h0M1686.4 140.8h0M1688.6 143.5h0M1691.6 141.7h0M1682.7 134.6h0M1688.9 136.3h0M1693.8 148.3h0M1687.4 142.1h0M1680.4 145.9h0M1683.1 136.9h0M1690.2 146.6h0M1683.9 147.2h0M1687.8 148.9h0M1681.5 144.6h0M1688.0 131.5h0M1691.5 133.2h0M1694.1 142.0h0M1693.1 134.1h0M1680.7 136.5h0M1693.3 138.3h0M1685.1 144.8h0M1684.7 139.4h0M1697.2 137.9h0M1691.8 146.4h0M1686.2 147.3h0M1880.6 61.3h0M1879.3 63.7h0M1877.4 71.7h0M1884.0 56.5h0M1883.6 71.7h0M1887.3 63.0h0M1877.1 57.3h0M1873.6 70.0h0M1881.1 69.4h0M1888.3 67.9h0M1875.6 69.9h0M1881.0 58.1h0M1881.0 71.9h0M1885.0 57.8h0M1881.9 62.1h0M1874.2 63.6h0M1883.3 66.2h0M1876.2 58.6h0M1882.3 59.2h0M1886.2 65.8h0M1886.2 70.5h0M1884.0 62.5h0M1887.2 59.7h0M1882.5 68.7h0M1880.5 65.8h0M1881.2 55.9h0M1873.2 65.9h0M1875.3 68.3h0M1877.0 66.4h0M1872.4 68.1h0M1887.4 61.1h0M1888.2 64.2h0M1881.4 63.5h0M1871.9 65.3h0M1878.6 60.5h0M1878.2 68.6h0M1880.1 73.2h0M1879.6 68.2h0M1885.3 63.6h0M1875.5 64.2h0M1881.9 67.2h0M1877.2 63.4h0M1879.6 57.4h0M1876.0 60.1h0M1885.1 59.4h0M1881.7 73.3h0M1872.0 62.0h0M1888.0 66.0h0M1886.1 67.8h0M1883.4 60.7h0M1877.0 61.8h0M1878.4 65.0h0M1881.2 133.4h0M1878.9 134.4h0M1871.3 132.7h0M1880.9 135.4h0M1874.6 140.2h0M1877.6 136.5h0M1872.7 131.7h0M1870.6 135.8h0M1875.6 142.3h0M1883.8 133.9h0M1884.4 136.5h0M1882.2 141.1h0M1878.4 143.1h0M1877.2 129.9h0M1871.6 140.7h0M1879.0 138.5h0M1877.0 133.4h0M1880.7 142.2h0M1883.3 137.5h0M1876.5 139.8h0M1880.8 140.0h0M1882.4 134.4h0M1880.2 130.4h0M1877.8 131.9h0M1876.8 135.0h0M1875.3 135.3h0M1879.0 132.8h0M1876.6 137.6h0M1881.6 138.7h0M1873.6 138.0h0M1875.4 133.8h0M1874.2 143.1h0M1883.4 140.2h0M1873.5 135.7h0M1878.0 140.2h0M1878.7 129.3h0M1028.8 280.3h0M1035.7 286.3h0M1037.1 290.1h0M1029.0 285.7h0M1038.7 288.2h0M1039.6 281.4h0M1032.3 291.5h0M1038.3 284.4h0M1027.7 290.7h0M1032.9 275.8h0M1030.1 277.6h0M1028.9 275.5h0M1032.8 285.0h0M1021.4 281.2h0M1037.0 287.5h0M1037.6 282.0h0M1031.1 290.1h0M1024.8 289.7h0M1027.0 281.7h0M1027.8 286.6h0M1037.4 276.5h0M1032.7 288.3h0M1037.9 278.5h0M1028.7 278.8h0M1030.9 274.1h0M1027.3 279.6h0M1032.9 280.4h0M1023.0 284.9h0M1024.7 285.7h0M1026.4 285.0h0M1024.7 276.9h0M1035.8 282.3h0M1024.4 287.8h0M1021.9 283.8h0M1038.6 280.2h0M1030.5 288.2h0M1034.5 278.7h0M1027.1 276.3h0M1031.0 280.1h0M1038.8 286.0h0M1035.8 275.2h0M1025.0 280.1h0M1034.7 284.8h0M1023.1 282.2h0M1030.3 292.3h0M1033.6 286.2h0M1034.0 291.2h0M1023.9 278.6h0M1028.5 289.3h0M1026.9 288.1h0M1035.5 289.4h0M1035.5 277.1h0M1033.6 283.5h0M1026.1 278.8h0M1024.6 283.9h0M1026.2 289.6h0M1029.9 281.6h0M1022.3 279.5h0M1029.5 290.8h0M1032.3 319.4h0M1023.9 316.4h0M1025.0 313.6h0M1033.7 327.8h0M1028.9 327.0h0M1029.4 324.5h0M1022.5 317.4h0M1037.6 314.3h0M1026.3 325.4h0M1027.5 318.8h0M1036.2 315.3h0M1038.1 323.0h0M1034.1 318.7h0M1023.2 322.1h0M1033.0 312.4h0M1025.0 324.2h0M1032.3 315.8h0M1026.6 321.2h0M1031.7 323.3h0M1027.0 312.0h0M1029.1 311.7h0M1032.6 324.4h0M1030.0 322.7h0M1035.4 312.3h0M1034.6 325.3h0M1031.2 321.6h0M1036.5 318.6h0M1031.7 317.9h0M1031.5 328.3h0M1022.1 319.8h0M1036.5 322.9h0M1028.7 314.9h0M1028.2 325.4h0M1030.6 315.3h0M1026.6 313.5h0M1039.0 320.8h0M1031.7 326.8h0M1029.6 317.4h0M1038.5 316.5h0M1025.7 315.2h0M1025.5 326.8h0M1030.8 311.5h0M1036.5 326.0h0M1037.6 325.0h0M1034.6 314.3h0M1030.4 320.1h0M1027.5 327.4h0M1028.3 321.9h0M1024.2 320.2h0M1023.4 324.7h0M1038.9 318.9h0M1033.2 320.7h0M1030.5 364.3h0M1026.3 358.8h0M1030.2 358.6h0M1028.7 367.5h0M1027.0 366.7h0M1032.7 365.9h0M1036.1 350.3h0M1033.5 349.2h0M1037.4 362.0h0M1040.0 353.8h0M1029.0 351.9h0M1028.0 360.1h0M1038.7 352.0h0M1038.4 357.3h0M1034.6 367.7h0M1034.8 360.5h0M1027.6 354.0h0M1033.0 351.2h0M1034.2 354.7h0M1023.3 355.0h0M1028.8 355.2h0M1025.5 354.3h0M1033.1 362.3h0M1024.2 353.1h0M1034.8 365.3h0M1024.6 357.8h0M1025.2 364.9h0M1038.8 363.7h0M1031.4 349.6h0M1026.4 352.0h0M1032.5 357.1h0M1039.7 361.5h0M1024.7 362.3h0M1030.1 357.1h0M1031.2 368.1h0M1041.2 358.7h0M1027.6 349.7h0M1031.2 360.1h0M1039.6 355.4h0M1034.7 352.3h0M1028.3 361.6h0M1036.1 359.2h0M1032.0 354.5h0M1034.6 356.8h0M1023.5 359.0h0M1036.8 355.9h0M1031.6 352.4h0M1034.7 362.2h0M1035.8 353.7h0M1038.4 353.5h0M1024.1 360.8h0M1038.3 360.7h0M1025.8 360.9h0M1028.4 365.1h0M1033.0 367.7h0M1029.2 353.6h0M1030.1 361.4h0M1027.9 363.5h0M1027.1 355.8h0M1026.8 362.3h0M1023.6 356.4h0M1031.8 358.4h0M1264.6 286.1h0M1271.6 276.0h0M1260.0 276.3h0M1257.2 275.7h0M1269.1 284.0h0M1267.2 275.4h0M1259.1 285.9h0M1272.2 280.6h0M1265.2 276.4h0M1269.5 285.5h0M1259.5 273.2h0M1269.1 279.2h0M1268.8 277.7h0M1259.1 287.4h0M1263.2 271.5h0M1271.4 274.6h0M1261.3 282.2h0M1267.9 287.0h0M1257.4 286.0h0M1270.6 279.9h0M1266.3 280.5h0M1272.3 282.6h0M1258.7 277.8h0M1263.6 278.5h0M1260.8 271.7h0M1255.8 274.7h0M1255.7 278.5h0M1273.2 277.3h0M1262.4 288.5h0M1265.2 287.5h0M1256.6 277.1h0M1269.2 272.9h0M1262.1 279.5h0M1255.8 284.0h0M1265.0 273.9h0M1269.5 281.9h0M1258.1 272.1h0M1260.9 284.9h0M1260.7 278.6h0M1267.9 283.0h0M1262.4 276.3h0M1262.2 273.4h0M1266.7 277.5h0M1273.1 279.2h0M1265.4 283.6h0M1260.6 274.5h0M1259.4 280.5h0M1267.1 272.0h0M1262.0 286.9h0M1256.5 282.3h0M1265.5 270.2h0M1271.7 278.9h0M1255.1 281.7h0M1263.3 280.9h0M1270.4 278.1h0M1267.5 279.3h0M1258.2 282.9h0M1257.0 279.7h0M1269.1 275.3h0M1270.6 360.6h0M1271.9 359.9h0M1270.1 349.5h0M1268.8 348.3h0M1257.8 354.5h0M1273.4 355.0h0M1273.2 351.9h0M1261.2 356.8h0M1266.4 361.2h0M1262.0 348.6h0M1263.1 345.9h0M1260.5 355.1h0M1269.6 353.3h0M1266.3 349.7h0M1270.0 355.3h0M1260.1 361.6h0M1264.9 349.2h0M1262.9 361.2h0M1258.0 358.3h0M1269.6 346.9h0M1272.6 357.0h0M1271.0 358.4h0M1274.1 357.3h0M1264.3 352.2h0M1260.1 359.7h0M1259.1 349.8h0M1273.2 349.0h0M1257.4 356.4h0M1271.6 349.3h0M1267.2 346.0h0M1265.9 352.6h0M1272.8 353.5h0M1260.4 352.2h0M1266.1 358.6h0M1262.8 356.7h0M1263.9 355.4h0M1268.1 359.2h0M1265.2 362.5h0M1263.7 362.8h0M1268.6 351.9h0M1262.6 352.8h0M1261.6 358.5h0M1257.9 351.5h0M1261.9 362.3h0M1264.6 347.2h0M1261.1 350.2h0M1269.4 357.2h0M1262.7 359.6h0M1260.1 348.5h0M1269.7 362.8h0M1272.8 358.7h0M1274.5 354.0h0M1265.7 345.6h0M1265.5 357.1h0M1271.3 353.6h0M1272.1 347.7h0M1266.2 354.8h0M1465.0 280.3h0M1466.4 283.2h0M1480.5 281.7h0M1468.7 281.6h0M1478.0 292.9h0M1469.3 292.1h0M1469.3 279.5h0M1480.9 287.6h0M1471.5 290.0h0M1478.8 284.2h0M1477.9 291.0h0M1483.4 284.5h0M1476.1 278.3h0M1472.3 276.2h0M1471.3 283.3h0M1480.0 291.2h0M1473.6 280.1h0M1481.7 289.8h0M1472.0 288.5h0M1482.4 286.4h0M1480.6 277.8h0M1482.5 281.3h0M1465.6 285.8h0M1475.6 287.3h0M1468.0 277.3h0M1474.6 282.7h0M1471.9 292.5h0M1476.1 275.9h0M1466.5 288.3h0M1479.8 289.3h0M1472.5 285.3h0M1467.4 291.6h0M1481.9 283.2h0M1478.4 281.7h0M1476.8 283.6h0M1472.1 281.0h0M1477.5 279.2h0M1473.8 288.3h0M1472.7 293.8h0M1472.9 278.3h0M1467.2 289.8h0M1470.8 285.3h0M1475.0 291.9h0M1475.2 285.5h0M1467.7 279.3h0M1472.5 291.1h0M1465.1 282.0h0M1475.3 293.4h0M1477.0 286.0h0M1481.5 279.8h0M1468.0 283.2h0M1468.9 289.1h0M1476.4 292.0h0M1469.5 286.6h0M1475.8 280.2h0M1471.3 278.2h0M1479.8 286.5h0M1475.2 274.7h0M1478.7 277.7h0M1478.3 287.2h0M1476.9 289.2h0M1469.9 276.4h0M1484.0 319.5h0M1481.1 314.6h0M1469.0 322.6h0M1475.4 328.6h0M1479.0 313.2h0M1484.2 324.0h0M1477.2 312.9h0M1472.0 313.0h0M1483.8 321.9h0M1480.0 325.6h0M1473.0 316.2h0M1472.1 322.0h0M1482.7 320.5h0M1478.2 329.9h0M1470.3 327.6h0M1476.6 325.1h0M1474.9 331.1h0M1482.3 315.6h0M1476.0 318.4h0M1468.9 327.9h0M1472.7 328.9h0M1482.4 325.0h0M1466.9 316.0h0M1474.7 321.1h0M1467.3 318.9h0M1466.1 320.4h0M1471.2 315.3h0M1472.8 323.6h0M1467.0 326.3h0M1473.2 325.7h0M1480.9 328.1h0M1473.3 327.3h0M1468.5 315.9h0M1471.3 318.7h0M1470.8 329.9h0M1478.3 325.1h0M1479.1 323.0h0M1481.9 318.1h0M1474.8 326.3h0M1469.7 319.6h0M1466.9 324.7h0M1474.1 329.8h0M1470.0 314.2h0M1474.0 312.5h0M1479.5 320.4h0M1469.1 325.9h0M1478.2 318.1h0M1478.8 326.7h0M1481.0 316.4h0M1469.7 317.2h0M1478.1 321.4h0M1477.7 316.3h0M1466.0 322.0h0M1475.2 314.2h0M1475.2 323.1h0M1481.5 326.4h0M1479.2 314.8h0M1476.5 321.4h0M1477.1 327.4h0M1473.7 314.6h0M1481.8 322.8h0M1474.5 317.8h0M1477.2 356.9h0M1462.7 357.8h0M1463.3 364.0h0M1472.0 356.4h0M1471.6 364.1h0M1474.7 358.0h0M1473.0 365.5h0M1468.7 353.5h0M1470.9 367.1h0M1467.2 365.0h0M1473.0 367.2h0M1464.7 354.2h0M1472.2 350.1h0M1478.3 360.4h0M1470.0 359.7h0M1465.7 361.6h0M1468.8 361.1h0M1465.4 351.3h0M1478.1 358.2h0M1468.3 366.5h0M1477.7 363.0h0M1472.5 361.1h0M1477.5 355.0h0M1474.5 352.3h0M1466.4 349.9h0M1476.0 360.2h0M1465.7 364.4h0M1467.4 356.1h0M1461.4 359.6h0M1473.1 359.6h0M1465.6 357.5h0M1476.7 364.3h0M1473.1 357.5h0M1469.4 350.5h0M1479.2 355.5h0M1462.6 355.5h0M1471.0 358.6h0M1471.0 353.2h0M1469.6 349.1h0M1463.9 362.4h0M1461.8 362.6h0M1470.4 362.6h0M1462.5 353.7h0M1467.4 359.4h0M1469.2 357.1h0M1477.3 353.5h0M1466.4 367.4h0M1479.5 359.3h0M1479.7 357.4h0M1470.5 365.2h0M1466.1 354.9h0M1465.2 359.0h0M1468.0 351.4h0M1463.7 351.4h0M1475.3 353.5h0M1474.7 355.2h0M1468.5 363.5h0M1476.4 351.4h0M1462.4 361.2h0M1461.1 355.5h0M1473.2 355.2h0M1474.3 349.9h0M1699.6 276.0h0M1689.2 285.3h0M1699.3 288.6h0M1703.0 278.1h0M1697.5 281.0h0M1689.4 277.4h0M1701.4 278.0h0M1694.3 278.5h0M1699.8 284.1h0M1694.1 273.8h0M1687.1 286.9h0M1696.2 274.0h0M1698.6 274.3h0M1687.1 276.0h0M1701.1 285.9h0M1685.3 281.1h0M1694.3 288.5h0M1702.8 282.5h0M1692.6 277.0h0M1695.8 290.0h0M1697.3 277.5h0M1689.6 281.4h0M1690.6 289.8h0M1697.6 288.2h0M1686.1 282.5h0M1693.1 281.9h0M1695.7 284.0h0M1701.6 275.6h0M1686.5 284.8h0M1689.8 288.5h0M1695.4 272.5h0M1689.3 273.4h0M1699.6 285.8h0M1687.4 278.0h0M1692.8 290.1h0M1697.8 290.0h0M1695.5 287.6h0M1687.9 288.4h0M1691.7 273.2h0M1700.3 274.6h0M1691.0 284.1h0M1691.2 286.9h0M1695.0 275.3h0M1698.6 282.2h0M1691.0 276.4h0M1700.6 281.7h0M1686.0 279.1h0M1693.4 275.7h0M1694.5 276.7h0M1690.8 280.0h0M1688.5 276.0h0M1696.7 285.1h0M1691.3 274.6h0M1700.1 277.3h0M1703.2 280.3h0M1696.1 280.5h0M1701.9 283.6h0M1688.6 282.9h0M1699.9 279.0h0M1692.1 319.9h0M1690.9 309.7h0M1688.2 310.9h0M1699.8 322.0h0M1688.0 321.4h0M1691.1 324.7h0M1702.2 319.4h0M1700.5 315.1h0M1688.9 324.9h0M1694.3 325.2h0M1689.9 323.0h0M1701.3 321.6h0M1694.8 321.0h0M1687.3 323.6h0M1697.1 310.5h0M1695.1 311.7h0M1700.0 310.9h0M1685.8 321.2h0M1698.3 324.7h0M1685.3 314.3h0M1700.7 312.5h0M1695.1 323.1h0M1686.3 312.2h0M1696.4 318.5h0M1698.8 312.8h0M1695.4 308.2h0M1703.5 318.1h0M1687.1 319.5h0M1696.9 325.7h0M1696.1 324.2h0M1692.1 308.4h0M1692.7 324.2h0M1692.4 315.9h0M1689.2 319.0h0M1698.6 319.3h0M1685.2 319.6h0M1684.9 317.6h0M1688.3 315.8h0M1694.7 314.3h0M1702.7 316.2h0M1696.6 314.9h0M1695.1 309.7h0M1693.5 311.9h0M1690.3 321.2h0M1701.6 317.8h0M1690.2 313.5h0M1700.6 316.8h0M1702.2 313.1h0M1691.3 318.6h0M1698.8 309.5h0M1693.5 309.3h0M1685.9 315.6h0M1697.5 317.5h0M1699.9 324.5h0M1693.5 316.9h0M1688.9 309.5h0M1690.9 316.8h0M1694.4 319.2h0M1692.4 313.9h0M1692.0 354.0h0M1702.5 352.6h0M1696.9 363.8h0M1685.5 354.4h0M1691.0 351.3h0M1689.4 364.0h0M1693.3 365.4h0M1698.7 355.7h0M1688.8 357.2h0M1694.7 364.4h0M1701.8 357.0h0M1701.5 362.6h0M1700.9 358.5h0M1698.8 357.4h0M1696.4 347.9h0M1696.2 349.7h0M1697.1 354.2h0M1694.0 357.3h0M1698.5 349.4h0M1693.3 355.1h0M1691.9 355.8h0M1700.8 351.3h0M1695.4 353.0h0M1690.1 355.0h0M1689.5 349.2h0M1687.7 350.5h0M1692.8 362.2h0M1686.8 356.0h0M1698.4 361.2h0M1696.8 360.2h0M1692.2 348.9h0M1689.5 353.0h0M1686.4 358.6h0M1695.2 355.8h0M1693.3 351.5h0M1695.3 361.9h0M1690.7 357.7h0M1696.1 357.3h0M1702.1 354.1h0M1699.9 363.8h0M1697.9 347.9h0M1690.9 363.6h0M1693.9 360.6h0M1685.4 356.8h0M1695.0 348.3h0M1696.9 355.7h0M1702.6 360.4h0M1687.1 361.7h0M1691.8 365.1h0M1699.0 359.5h0M1694.9 366.2h0M1700.0 349.0h0M1694.5 358.8h0M1700.4 360.3h0M1696.9 365.3h0M1698.2 364.4h0M1703.8 354.5h0M1691.0 359.8h0M1703.6 358.8h0M1909.5 362.6h0M1908.2 359.9h0M1901.3 357.8h0M1905.6 347.8h0M1905.1 352.1h0M1911.8 347.4h0M1910.3 353.3h0M1903.3 350.9h0M1917.3 353.2h0M1909.2 349.2h0M1903.8 348.8h0M1916.1 361.5h0M1912.6 360.4h0M1916.1 359.7h0M1906.6 350.1h0M1912.9 349.6h0M1906.7 353.4h0M1906.4 361.8h0M1914.0 358.0h0M1902.4 353.6h0M1909.4 347.6h0M1917.1 357.7h0M1908.6 353.7h0M1912.5 362.7h0M1904.8 350.3h0M1909.6 357.6h0M1914.7 362.5h0M1902.6 356.2h0M1905.9 357.0h0M1900.3 355.2h0M1911.1 357.8h0M1914.6 349.7h0M1904.4 356.5h0M1909.2 364.0h0M1915.5 351.0h0M1905.6 360.5h0M1903.9 361.8h0M1905.9 363.8h0M1902.6 360.5h0M1915.9 352.7h0M1918.3 356.2h0M1907.7 363.0h0M1908.6 355.8h0M1911.4 349.0h0M1901.5 351.2h0M1901.2 359.3h0M1911.3 350.5h0M1918.0 359.6h0M1912.4 352.9h0M1906.8 359.3h0M1914.1 352.6h0M1914.6 355.1h0M1909.5 351.0h0M1917.5 354.8h0M1903.8 358.3h0M1910.9 361.5h0M1917.1 351.3h0M1904.2 364.4h0M1912.1 364.4h0M1029.8 489.4h0M1030.8 481.8h0M1034.0 479.8h0M1030.5 484.3h0M1039.2 486.2h0M1041.3 486.9h0M1033.1 487.6h0M1042.2 493.3h0M1035.6 485.6h0M1032.3 494.4h0M1033.0 484.8h0M1038.0 484.7h0M1043.9 492.7h0M1036.3 492.4h0M1039.6 484.5h0M1034.4 488.6h0M1043.3 482.9h0M1039.1 479.6h0M1035.6 494.4h0M1028.8 485.8h0M1044.4 489.5h0M1030.5 487.7h0M1036.4 483.2h0M1037.7 486.7h0M1040.6 494.2h0M1037.1 494.8h0M1040.8 496.0h0M1029.2 493.2h0M1028.5 487.4h0M1028.5 491.7h0M1040.3 492.5h0M1032.7 481.2h0M1042.8 491.3h0M1038.0 496.2h0M1030.9 495.3h0M1028.2 490.3h0M1034.9 484.2h0M1042.9 487.1h0M1035.5 487.4h0M1035.5 496.1h0M1033.6 491.3h0M1033.3 495.5h0M1038.0 493.5h0M1045.0 485.1h0M1036.0 479.5h0M1038.8 491.4h0M1039.0 494.6h0M1042.1 481.8h0M1033.3 493.1h0M1042.6 488.6h0M1044.6 486.8h0M1040.5 482.2h0M1044.7 483.5h0M1028.6 483.5h0M1043.2 484.7h0M1040.7 488.5h0M1038.4 483.1h0M1029.8 532.8h0M1032.5 527.0h0M1038.0 529.1h0M1041.7 520.0h0M1036.5 527.7h0M1038.7 535.7h0M1034.6 524.8h0M1045.3 524.1h0M1033.2 533.0h0M1039.5 518.5h0M1037.1 521.6h0M1027.5 524.3h0M1034.9 526.8h0M1030.8 523.4h0M1041.2 534.0h0M1046.2 526.9h0M1034.7 521.4h0M1037.1 531.3h0M1038.2 524.2h0M1036.9 518.9h0M1034.9 519.0h0M1036.1 520.2h0M1029.8 529.0h0M1028.1 530.1h0M1032.6 524.8h0M1030.5 520.4h0M1036.1 535.4h0M1038.8 531.6h0M1038.8 525.6h0M1030.0 530.7h0M1042.5 533.2h0M1043.7 530.5h0M1027.7 528.2h0M1040.9 530.5h0M1037.6 534.1h0M1041.1 527.4h0M1032.1 522.4h0M1035.0 532.5h0M1039.7 522.8h0M1028.5 525.8h0M1041.6 525.8h0M1043.5 522.9h0M1044.2 521.3h0M1034.8 534.1h0M1029.1 521.4h0M1037.9 520.1h0M1044.9 529.3h0M1041.8 529.3h0M1034.7 529.3h0M1038.0 517.5h0M1039.7 529.0h0M1039.4 519.9h0M1036.0 517.7h0M1032.2 520.6h0M1041.7 522.9h0M1032.0 530.2h0M1042.5 531.2h0M1036.5 523.0h0M1039.6 527.3h0M1029.9 557.5h0M1034.8 564.6h0M1035.5 573.3h0M1039.8 563.7h0M1030.2 562.2h0M1037.2 572.0h0M1044.8 566.1h0M1038.4 556.5h0M1033.9 557.8h0M1034.5 569.2h0M1028.3 559.7h0M1033.0 559.1h0M1033.0 572.4h0M1034.4 566.1h0M1036.6 556.4h0M1044.5 562.6h0M1031.9 560.8h0M1034.4 555.7h0M1042.0 569.2h0M1042.9 566.9h0M1034.8 561.2h0M1031.2 573.0h0M1032.1 566.2h0M1039.5 558.8h0M1041.5 565.1h0M1029.7 560.4h0M1043.6 560.8h0M1026.7 565.5h0M1029.4 571.8h0M1036.1 569.2h0M1031.2 556.4h0M1027.6 569.2h0M1038.0 558.1h0M1038.7 573.2h0M1027.9 563.0h0M1029.1 567.9h0M1036.3 564.7h0M1044.4 567.7h0M1040.5 570.7h0M1029.8 566.5h0M1032.5 557.2h0M1042.1 558.2h0M1026.2 562.6h0M1043.8 564.1h0M1032.5 562.6h0M1029.2 565.1h0M1038.2 561.4h0M1038.3 564.9h0M1040.6 572.4h0M1026.7 564.0h0M1041.5 563.5h0M1030.1 569.2h0M1030.8 564.8h0M1034.7 559.2h0M1041.1 561.6h0M1040.3 557.2h0M1036.7 560.1h0M1037.2 565.9h0M1042.6 562.1h0M1042.2 594.8h0M1042.5 601.2h0M1036.9 596.3h0M1030.9 602.5h0M1029.0 597.5h0M1037.8 592.3h0M1026.1 595.2h0M1039.1 605.7h0M1028.5 592.3h0M1035.5 590.4h0M1032.2 603.9h0M1031.3 606.1h0M1042.1 597.6h0M1032.9 599.2h0M1039.9 601.1h0M1029.1 605.4h0M1036.5 602.2h0M1028.4 594.0h0M1034.2 598.3h0M1036.5 594.6h0M1030.1 593.6h0M1031.1 607.7h0M1038.6 597.2h0M1032.3 590.8h0M1031.5 594.4h0M1040.0 604.4h0M1028.6 602.1h0M1036.7 598.1h0M1025.4 597.4h0M1027.4 600.8h0M1033.2 607.8h0M1039.2 593.6h0M1041.7 599.8h0M1035.4 606.1h0M1027.2 603.3h0M1034.0 591.2h0M1033.9 604.6h0M1035.8 607.8h0M1034.1 593.9h0M1041.6 596.2h0M1025.6 602.6h0M1036.0 591.8h0M1036.5 604.3h0M1025.8 600.0h0M1034.8 601.9h0M1040.4 592.6h0M1030.6 591.9h0M1031.6 595.9h0M1032.4 593.1h0M1033.3 595.5h0M1032.5 602.3h0M1037.9 601.7h0M1026.9 593.0h0M1029.5 606.9h0M1029.4 600.0h0M1037.2 606.8h0M1039.8 599.2h0M1267.2 522.1h0M1268.2 524.8h0M1254.5 522.4h0M1258.3 526.2h0M1256.2 521.6h0M1258.1 524.4h0M1253.9 533.0h0M1267.1 530.5h0M1260.9 521.3h0M1259.3 522.1h0M1264.2 535.9h0M1262.0 519.7h0M1261.5 536.3h0M1257.7 534.6h0M1269.3 531.5h0M1265.3 520.3h0M1265.1 526.8h0M1262.5 533.0h0M1262.7 530.8h0M1251.7 529.3h0M1263.7 520.7h0M1265.0 529.9h0M1254.4 527.1h0M1251.8 527.7h0M1262.3 528.9h0M1265.2 534.7h0M1261.1 524.0h0M1262.7 525.4h0M1268.3 533.0h0M1263.4 523.8h0M1259.2 520.0h0M1263.1 537.0h0M1258.8 530.2h0M1254.0 524.3h0M1259.9 525.7h0M1255.6 535.7h0M1260.5 529.7h0M1258.7 536.3h0M1252.4 532.2h0M1255.5 532.2h0M1266.4 528.1h0M1264.1 532.7h0M1255.3 528.7h0M1257.4 527.9h0M1260.2 532.1h0M1257.3 519.7h0M1252.8 526.3h0M1258.6 531.9h0M1268.4 527.8h0M1256.3 523.2h0M1265.4 523.8h0M1255.5 525.0h0M1256.3 526.9h0M1259.7 534.3h0M1262.8 535.2h0M1255.4 534.2h0M1266.8 532.0h0M1449.0 496.5h0M1437.1 497.8h0M1445.3 503.1h0M1433.4 494.9h0M1433.3 498.8h0M1441.1 489.7h0M1435.0 499.4h0M1439.6 503.9h0M1439.0 500.8h0M1446.0 494.7h0M1442.8 504.7h0M1443.9 489.6h0M1439.2 494.2h0M1447.6 496.0h0M1442.5 498.8h0M1446.5 500.3h0M1442.1 487.9h0M1439.6 489.4h0M1437.3 488.1h0M1445.4 492.7h0M1435.0 495.1h0M1434.6 500.9h0M1431.7 494.1h0M1448.3 494.3h0M1438.3 504.8h0M1442.1 500.9h0M1446.4 489.7h0M1437.1 500.6h0M1440.3 498.3h0M1447.3 493.1h0M1433.0 500.7h0M1434.9 488.9h0M1431.5 496.2h0M1441.8 491.0h0M1440.0 488.0h0M1441.6 493.2h0M1439.6 491.0h0M1434.6 502.8h0M1446.2 501.8h0M1433.1 490.7h0M1438.9 496.5h0M1448.8 499.2h0M1436.5 495.1h0M1433.1 492.3h0M1445.5 496.7h0M1447.7 498.1h0M1434.6 496.7h0M1445.0 499.4h0M1435.7 492.0h0M1436.7 503.5h0M1436.6 490.2h0M1441.5 497.0h0M1445.9 498.2h0M1445.0 488.5h0M1443.4 503.0h0M1443.2 494.5h0M1444.6 495.5h0M1435.7 531.6h0M1447.7 527.1h0M1433.9 536.8h0M1443.0 538.8h0M1442.2 530.5h0M1444.5 539.3h0M1437.1 525.9h0M1432.8 533.1h0M1437.6 532.2h0M1448.4 530.0h0M1433.7 528.2h0M1437.8 539.5h0M1435.5 537.0h0M1441.1 534.0h0M1445.1 525.5h0M1450.8 532.1h0M1436.4 534.1h0M1438.4 538.2h0M1434.0 535.3h0M1448.8 528.4h0M1442.4 532.0h0M1443.8 535.6h0M1449.7 534.8h0M1437.0 530.4h0M1433.7 529.9h0M1450.5 530.4h0M1446.0 537.9h0M1436.1 539.0h0M1443.1 529.0h0M1448.1 536.7h0M1446.6 530.0h0M1445.4 531.9h0M1440.9 524.7h0M1445.5 534.6h0M1441.0 541.4h0M1442.8 541.0h0M1443.7 533.3h0M1440.3 528.8h0M1434.1 532.3h0M1435.1 527.8h0M1446.8 539.5h0M1440.8 536.3h0M1434.7 538.3h0M1441.3 526.8h0M1440.2 531.6h0M1439.3 524.0h0M1448.0 534.5h0M1443.4 523.4h0M1440.5 538.9h0M1437.4 524.5h0M1432.7 531.4h0M1438.5 528.2h0M1439.4 540.2h0M1442.6 525.2h0M1444.4 530.2h0M1447.0 535.6h0M1444.7 541.0h0M1441.5 575.3h0M1437.2 568.2h0M1444.9 570.9h0M1434.8 573.1h0M1435.3 564.4h0M1440.0 560.7h0M1446.0 563.8h0M1446.8 559.2h0M1438.5 563.9h0M1442.7 571.5h0M1435.7 562.8h0M1449.0 567.2h0M1443.6 569.1h0M1449.0 570.3h0M1444.8 565.1h0M1440.4 565.5h0M1438.3 566.0h0M1436.2 566.8h0M1445.8 566.2h0M1447.5 563.5h0M1447.9 565.7h0M1441.0 562.9h0M1432.9 570.8h0M1439.6 566.9h0M1437.7 557.9h0M1438.3 574.6h0M1440.8 557.0h0M1442.1 566.6h0M1440.1 570.1h0M1435.0 571.4h0M1448.2 562.0h0M1442.2 561.1h0M1436.4 573.5h0M1438.0 569.9h0M1437.2 572.0h0M1445.8 569.1h0M1433.2 562.8h0M1443.3 572.9h0M1432.4 567.7h0M1440.7 558.6h0M1446.9 567.6h0M1449.5 565.6h0M1436.0 558.5h0M1442.6 559.4h0M1444.6 574.0h0M1432.5 564.6h0M1434.6 560.6h0M1446.6 572.4h0M1444.9 557.6h0M1436.0 560.2h0M1439.0 572.7h0M1437.8 562.1h0M1439.7 562.2h0M1442.9 564.6h0M1433.4 565.7h0M1440.9 573.7h0M1434.7 569.7h0M1437.6 559.6h0M1444.4 563.6h0M1448.9 609.0h0M1447.5 599.6h0M1443.7 598.5h0M1448.3 604.5h0M1449.0 597.7h0M1449.7 600.8h0M1442.0 596.8h0M1438.2 597.3h0M1447.1 603.2h0M1436.9 603.5h0M1434.1 601.4h0M1440.7 607.2h0M1436.5 599.1h0M1444.0 609.4h0M1443.8 611.2h0M1449.0 607.4h0M1443.1 602.4h0M1438.5 600.8h0M1438.2 610.2h0M1445.7 608.8h0M1434.0 604.0h0M1441.8 600.6h0M1447.2 607.8h0M1445.2 594.3h0M1438.2 607.3h0M1441.6 610.1h0M1435.2 607.4h0M1450.2 606.1h0M1446.0 596.2h0M1440.5 601.4h0M1447.4 609.6h0M1440.2 608.9h0M1441.0 594.7h0M1441.8 603.5h0M1448.4 606.0h0M1450.7 604.0h0M1439.5 599.4h0M1436.3 606.1h0M1443.2 604.1h0M1435.3 600.2h0M1438.4 595.7h0M1449.4 602.8h0M1445.7 602.5h0M1441.7 598.7h0M1445.1 606.7h0M1445.5 604.5h0M1440.0 605.8h0M1439.4 604.0h0M1443.7 595.8h0M1439.6 610.4h0M1443.8 600.7h0M1448.3 601.3h0M1450.0 599.0h0M1435.5 603.7h0M1698.5 523.3h0M1694.0 532.5h0M1699.6 532.6h0M1696.5 523.2h0M1694.6 528.2h0M1691.9 536.0h0M1686.2 524.4h0M1697.1 535.6h0M1702.4 526.1h0M1700.0 528.0h0M1693.3 520.8h0M1687.0 531.1h0M1691.4 528.4h0M1696.2 519.5h0M1689.9 526.3h0M1694.3 519.4h0M1695.2 520.8h0M1689.7 523.3h0M1693.5 526.1h0M1695.2 535.9h0M1692.1 531.0h0M1688.8 524.4h0M1688.5 521.2h0M1699.2 521.7h0M1699.0 529.6h0M1688.4 529.7h0M1695.3 530.8h0M1688.9 532.6h0M1698.4 525.8h0M1691.2 522.1h0M1701.1 524.2h0M1686.6 527.1h0M1691.9 519.6h0M1691.5 526.3h0M1693.0 527.5h0M1694.3 523.8h0M1685.6 525.8h0M1691.3 533.7h0M1700.4 526.3h0M1701.6 528.3h0M1688.2 535.1h0M1701.4 532.0h0M1697.8 520.9h0M1695.5 525.9h0M1687.3 522.1h0M1694.9 522.4h0M1690.6 520.2h0M1702.9 529.3h0M1692.2 523.8h0M1700.3 534.2h0M1689.4 528.6h0M1696.1 529.5h0M1697.0 532.7h0M1698.5 527.5h0" stroke="#bebfc2" stroke-width="1.7"/>
<path d="M293.6 76.0h0M297.7 75.1h0M301.1 72.0h0M291.1 65.0h0M290.6 77.1h0M286.4 68.3h0M293.5 74.1h0M287.5 60.9h0M292.8 59.3h0M281.9 142.3h0M285.8 143.2h0M296.6 145.8h0M289.8 143.6h0M288.3 145.8h0M294.2 147.9h0M284.9 137.8h0M503.5 80.0h0M503.1 67.5h0M500.6 68.2h0M501.6 65.7h0M497.3 75.4h0M504.9 72.4h0M509.6 68.9h0M500.4 74.4h0M503.9 74.4h0M503.9 70.2h0M516.2 103.1h0M508.9 99.6h0M508.2 110.6h0M510.1 103.8h0M512.2 113.8h0M503.2 111.4h0M508.6 113.1h0M514.7 100.5h0M504.2 104.1h0M511.2 107.9h0M516.5 105.1h0M504.9 101.4h0M514.2 111.7h0M512.0 101.1h0M504.5 143.3h0M516.0 140.9h0M509.3 141.0h0M515.3 144.2h0M506.8 149.3h0M511.2 151.1h0M517.5 145.8h0M511.9 174.5h0M507.7 183.7h0M516.4 172.3h0M515.4 175.0h0M506.3 175.7h0M516.6 181.1h0M1059.1 66.7h0M1060.1 62.6h0M1069.2 69.6h0M1067.3 62.8h0M1062.4 70.4h0M1060.2 68.3h0M1074.1 70.9h0M1065.7 69.7h0M1068.9 132.5h0M1071.2 142.1h0M1068.4 141.7h0M1074.3 142.8h0M1071.1 135.2h0M1071.3 132.1h0M1297.7 65.7h0M1286.1 65.5h0M1296.3 58.3h0M1300.3 65.5h0M1286.7 67.9h0M1286.9 60.8h0M1292.9 74.1h0M1290.9 132.0h0M1289.7 147.4h0M1290.6 135.6h0M1289.0 142.4h0M1295.0 137.2h0M1286.8 139.9h0M1291.0 139.0h0M1294.8 143.5h0M1297.4 144.1h0M1285.0 145.7h0M1294.4 140.2h0M1286.0 135.6h0M1292.9 147.5h0M1294.3 135.3h0M1478.4 63.9h0M1470.5 61.1h0M1474.2 54.6h0M1484.1 61.8h0M1470.0 59.2h0M1479.4 55.5h0M1475.5 61.5h0M1482.9 58.0h0M1440.4 147.8h0M1442.7 136.5h0M1434.4 134.5h0M1436.3 133.3h0M1442.3 144.2h0M1434.0 139.9h0M1440.2 136.2h0M1447.2 135.0h0M1470.5 138.9h0M1481.9 140.8h0M1479.1 128.9h0M1484.5 137.7h0M1470.5 132.7h0M1476.5 138.7h0M1474.9 130.0h0M1474.3 133.9h0M1478.7 138.1h0M1720.9 71.9h0M1722.9 74.8h0M1716.1 65.4h0M1717.5 72.6h0M1721.8 68.1h0M1729.7 135.7h0M1725.0 133.9h0M1727.8 144.0h0M1724.4 136.0h0M1728.3 140.1h0M1724.5 140.9h0M1727.4 135.9h0M1726.4 137.9h0M1721.1 139.1h0M1915.9 143.4h0M1918.4 134.7h0M1911.6 142.4h0M1914.0 142.2h0M1918.3 136.9h0M1905.5 142.2h0M1913.6 138.9h0M1905.1 139.7h0M1055.9 280.9h0M1051.4 287.5h0M1056.6 275.9h0M1063.9 280.2h0M1058.1 282.5h0M1066.7 286.0h0M1052.7 291.5h0M1052.8 282.0h0M1062.6 287.3h0M1059.9 283.7h0M1051.5 283.9h0M1058.3 279.4h0M1061.4 276.4h0M1065.3 349.7h0M1057.4 359.6h0M1065.9 356.6h0M1065.6 361.4h0M1063.9 353.6h0M1066.9 358.6h0M1288.6 283.9h0M1293.2 285.2h0M1296.3 286.0h0M1302.4 280.2h0M1303.8 283.3h0M1302.5 287.7h0M1294.4 274.4h0M1298.4 281.9h0M1288.3 289.9h0M1287.9 279.1h0M1296.5 282.3h0M1296.4 319.3h0M1291.7 319.6h0M1292.7 316.8h0M1287.9 321.1h0M1297.7 355.7h0M1295.4 361.8h0M1299.3 351.5h0M1290.8 362.1h0M1290.5 354.2h0M1290.5 352.2h0M1292.1 360.3h0M1295.0 351.9h0M1514.8 281.0h0M1506.2 282.0h0M1504.8 277.6h0M1513.8 276.8h0M1501.2 281.7h0M1513.9 321.7h0M1507.6 317.0h0M1510.2 315.8h0M1501.0 319.6h0M1512.3 363.2h0M1512.9 354.9h0M1507.3 363.9h0M1508.8 355.9h0M1513.8 358.6h0M1512.1 360.4h0M1516.3 358.8h0M1719.9 279.1h0M1725.3 287.6h0M1724.3 290.6h0M1731.6 286.7h0M1717.7 286.1h0M1717.3 283.9h0M1726.4 277.3h0M1733.3 279.3h0M1721.6 325.0h0M1728.2 328.4h0M1733.8 318.8h0M1727.2 324.9h0M1734.1 322.5h0M1730.1 314.7h0M1729.4 321.3h0M1725.2 321.1h0M1728.7 357.2h0M1724.1 353.8h0M1734.0 353.3h0M1719.9 356.0h0M1722.7 359.1h0M1725.8 364.2h0M1732.9 350.0h0M1903.2 316.8h0M1905.0 321.1h0M1909.2 318.2h0M1906.0 310.2h0M1913.2 313.9h0M1916.3 314.4h0M1915.7 319.3h0M1903.2 312.5h0M1908.5 324.4h0M1946.3 326.0h0M1939.4 327.6h0M1944.8 315.4h0M1944.5 329.2h0M1942.0 316.3h0M1952.7 321.0h0M1947.4 318.7h0M1944.0 355.8h0M1939.2 362.6h0M1940.6 359.8h0M1949.3 365.1h0M1949.0 354.6h0M1935.6 357.6h0M1943.8 359.5h0M1934.4 360.0h0M1940.4 364.4h0M1939.0 354.9h0M1065.3 489.1h0M1068.1 483.6h0M1080.7 488.9h0M1071.5 497.6h0M1073.8 491.7h0M1069.0 489.8h0M1078.0 482.7h0M1074.4 487.7h0M1083.1 522.1h0M1083.1 533.4h0M1069.8 523.3h0M1084.7 529.4h0M1078.2 528.8h0M1075.7 529.8h0M1081.9 519.4h0M1073.1 535.1h0M1071.7 523.1h0M1080.5 562.6h0M1074.3 569.3h0M1078.4 565.2h0M1070.4 556.9h0M1065.2 566.5h0M1065.8 595.4h0M1070.8 601.4h0M1076.6 604.6h0M1069.5 606.1h0M1070.2 603.8h0M1263.4 489.8h0M1257.2 499.9h0M1251.6 498.0h0M1257.4 487.0h0M1251.2 484.9h0M1261.4 488.4h0M1252.3 492.1h0M1249.1 495.9h0M1264.5 492.3h0M1253.0 483.6h0M1296.5 531.6h0M1287.4 522.5h0M1301.0 530.0h0M1301.3 521.4h0M1289.7 521.9h0M1289.1 523.9h0M1261.5 559.5h0M1258.3 569.9h0M1260.8 572.4h0M1255.0 571.6h0M1263.2 560.8h0M1258.7 562.3h0M1264.5 565.3h0M1254.1 566.9h0M1264.8 557.5h0M1256.2 599.0h0M1264.7 591.6h0M1260.3 603.9h0M1266.0 605.1h0M1262.0 600.7h0M1262.6 606.9h0M1256.1 594.6h0M1268.5 604.2h0M1259.8 591.2h0M1257.7 593.2h0M1268.1 602.2h0M1479.1 498.1h0M1476.7 486.1h0M1471.7 490.5h0M1483.5 497.9h0M1480.8 499.4h0M1474.9 527.6h0M1477.3 528.9h0M1476.3 532.4h0M1479.0 536.1h0M1479.6 527.2h0M1484.8 530.0h0M1486.4 533.1h0M1473.6 535.5h0M1484.6 534.6h0M1488.6 531.3h0M1469.9 562.4h0M1474.8 561.1h0M1484.0 567.7h0M1485.9 564.5h0M1483.4 573.6h0M1476.5 571.9h0M1483.8 571.0h0M1481.4 559.0h0M1472.7 565.6h0M1475.1 603.9h0M1688.2 491.1h0M1688.8 496.8h0M1689.8 489.1h0M1693.4 486.8h0M1683.2 497.2h0M1688.4 487.2h0M1719.1 495.6h0M1724.9 493.0h0M1726.5 497.9h0M1716.7 487.9h0M1726.8 528.4h0M1721.3 524.2h0M1730.9 521.1h0M1724.2 531.4h0M1720.4 526.2h0M1691.0 557.7h0M1696.3 572.2h0M1695.0 564.6h0M1696.1 569.3h0M1698.6 564.4h0M1696.4 561.2h0M1692.1 596.9h0M1696.0 606.0h0M1697.9 597.5h0M1694.9 602.5h0M1698.0 599.6h0M1727.0 603.4h0M1733.0 603.7h0M1732.8 600.9h0" stroke="#c6c7ca" stroke-width="2.6"/>
<path d="M286.7 63.7h0M284.4 67.3h0M284.6 70.0h0M290.9 59.1h0M289.2 64.6h0M288.5 72.5h0M284.7 63.7h0M301.5 64.5h0M302.4 66.5h0M299.1 60.6h0M298.0 64.8h0M293.6 72.1h0M296.8 72.6h0M300.7 62.8h0M296.2 60.0h0M296.6 142.2h0M284.2 147.9h0M291.1 146.8h0M282.4 149.6h0M286.9 148.2h0M294.0 145.4h0M284.6 154.1h0M285.6 151.4h0M280.4 150.6h0M289.3 139.4h0M288.5 155.6h0M290.6 153.9h0M281.5 144.7h0M293.6 153.3h0M285.4 140.8h0M496.9 73.1h0M499.7 76.7h0M500.3 72.2h0M511.0 71.1h0M493.8 68.9h0M494.8 74.8h0M501.9 69.9h0M506.5 99.9h0M508.7 115.4h0M515.3 113.6h0M506.7 104.6h0M503.6 146.5h0M513.3 141.0h0M517.1 142.8h0M510.9 138.6h0M513.9 149.0h0M507.8 135.6h0M511.6 143.8h0M508.7 144.8h0M514.9 177.1h0M510.5 178.7h0M512.7 179.7h0M519.6 177.1h0M1062.0 73.5h0M1072.3 63.7h0M1071.1 68.1h0M1070.3 76.0h0M1069.0 71.5h0M1068.0 76.0h0M1063.2 68.2h0M1058.5 70.0h0M1070.6 144.6h0M1075.7 139.2h0M1067.4 148.1h0M1067.7 137.8h0M1072.7 137.5h0M1063.6 136.4h0M1070.7 147.8h0M1299.0 63.2h0M1286.0 62.7h0M1292.7 64.7h0M1294.0 58.1h0M1288.5 69.9h0M1290.3 62.8h0M1296.4 60.7h0M1291.0 58.1h0M1287.8 63.6h0M1292.4 141.5h0M1286.5 143.4h0M1298.5 138.3h0M1284.6 137.3h0M1283.9 139.1h0M1284.6 142.5h0M1296.5 134.6h0M1290.2 144.4h0M1480.1 62.2h0M1482.3 66.9h0M1470.8 69.3h0M1469.9 65.4h0M1476.3 70.5h0M1472.4 59.7h0M1484.1 65.5h0M1478.7 57.7h0M1447.5 138.2h0M1436.0 140.2h0M1444.7 143.6h0M1438.9 131.8h0M1439.7 140.3h0M1443.6 141.5h0M1440.8 138.7h0M1437.8 134.8h0M1437.7 148.1h0M1473.3 139.6h0M1476.3 142.9h0M1469.0 135.5h0M1471.0 135.7h0M1479.9 141.5h0M1478.9 136.2h0M1723.3 64.2h0M1721.0 65.4h0M1719.9 76.0h0M1724.4 73.5h0M1729.8 71.3h0M1721.0 141.5h0M1731.2 139.6h0M1723.2 138.6h0M1729.5 147.9h0M1724.9 148.1h0M1721.6 134.0h0M1719.5 136.6h0M1728.5 145.7h0M1912.1 145.1h0M1915.2 133.3h0M1914.0 144.2h0M1906.3 137.8h0M1912.8 134.7h0M1912.3 129.4h0M1911.0 139.8h0M1063.2 277.3h0M1057.7 293.0h0M1054.6 277.1h0M1055.8 283.9h0M1059.8 278.2h0M1065.1 284.1h0M1064.9 290.0h0M1050.0 281.2h0M1066.1 352.3h0M1060.5 361.9h0M1061.7 355.9h0M1055.7 361.3h0M1062.4 358.3h0M1059.1 349.9h0M1054.9 355.9h0M1064.9 365.3h0M1062.1 348.7h0M1055.4 359.2h0M1286.7 284.7h0M1295.2 288.2h0M1293.7 281.5h0M1291.6 290.4h0M1297.4 289.2h0M1290.5 280.3h0M1295.2 315.2h0M1287.1 323.0h0M1296.2 324.0h0M1297.1 325.9h0M1299.7 321.5h0M1299.2 314.9h0M1295.4 328.6h0M1299.7 323.8h0M1295.8 321.6h0M1302.1 352.9h0M1297.5 359.9h0M1301.7 363.2h0M1292.6 363.5h0M1294.7 363.8h0M1514.5 283.2h0M1505.6 291.7h0M1511.8 283.6h0M1501.5 283.6h0M1503.7 291.0h0M1509.1 287.2h0M1514.9 278.8h0M1507.0 312.4h0M1501.0 322.7h0M1516.1 324.9h0M1509.7 324.2h0M1515.3 320.2h0M1507.8 314.8h0M1509.3 320.4h0M1509.6 318.1h0M1510.0 312.4h0M1512.9 318.6h0M1502.9 327.1h0M1510.7 358.2h0M1506.4 360.8h0M1506.4 358.5h0M1506.4 366.2h0M1502.6 359.7h0M1510.7 352.2h0M1513.5 352.6h0M1503.8 357.8h0M1502.5 352.3h0M1731.2 278.4h0M1723.7 278.1h0M1721.6 275.5h0M1725.3 281.3h0M1730.3 289.0h0M1732.0 284.7h0M1720.7 318.8h0M1732.3 325.7h0M1730.5 326.6h0M1733.6 327.7h0M1726.8 322.9h0M1719.7 321.6h0M1722.8 355.7h0M1726.2 349.4h0M1732.7 355.5h0M1724.3 357.7h0M1732.8 358.4h0M1723.5 349.0h0M1731.5 364.2h0M1908.0 321.1h0M1906.9 318.0h0M1915.5 312.5h0M1905.9 314.8h0M1911.4 312.5h0M1912.0 323.6h0M1912.7 316.4h0M1939.8 316.5h0M1942.1 327.3h0M1939.9 318.5h0M1946.2 356.3h0M1936.1 362.3h0M1943.3 352.3h0M1941.5 354.7h0M1939.6 352.0h0M1943.8 367.9h0M1945.3 352.5h0M1945.6 363.7h0M1079.4 491.6h0M1076.3 489.4h0M1069.7 487.8h0M1076.0 492.8h0M1073.3 480.4h0M1064.8 486.7h0M1078.2 530.9h0M1080.2 531.8h0M1074.7 527.4h0M1081.1 534.7h0M1077.5 533.2h0M1069.9 532.0h0M1071.7 525.8h0M1068.3 524.6h0M1071.4 520.3h0M1081.0 522.6h0M1079.4 520.9h0M1075.8 520.4h0M1077.3 518.4h0M1077.8 535.3h0M1085.7 527.4h0M1082.9 528.1h0M1068.9 569.3h0M1070.2 559.4h0M1076.9 558.4h0M1067.1 571.4h0M1065.5 568.8h0M1078.8 559.0h0M1068.8 564.2h0M1075.0 601.1h0M1081.1 600.5h0M1065.9 602.1h0M1076.3 597.1h0M1074.8 595.7h0M1073.2 591.1h0M1262.4 496.6h0M1258.0 492.4h0M1249.3 491.0h0M1253.7 495.9h0M1259.8 486.6h0M1259.3 493.9h0M1259.6 490.1h0M1292.5 520.8h0M1297.1 528.5h0M1292.5 525.8h0M1286.6 529.1h0M1294.7 527.9h0M1291.7 528.9h0M1297.5 525.1h0M1297.5 522.6h0M1298.7 519.1h0M1290.1 531.5h0M1294.7 522.0h0M1292.4 533.3h0M1299.3 524.1h0M1265.9 563.6h0M1266.7 566.8h0M1258.8 567.9h0M1259.4 555.6h0M1254.5 560.0h0M1263.2 571.4h0M1266.6 561.4h0M1263.3 597.4h0M1257.9 591.0h0M1255.2 604.9h0M1262.3 593.1h0M1254.6 601.6h0M1261.5 595.5h0M1471.6 501.2h0M1477.7 502.1h0M1470.2 492.8h0M1469.8 497.9h0M1477.4 488.6h0M1476.5 497.9h0M1472.9 494.7h0M1470.9 494.7h0M1483.3 527.0h0M1479.5 540.0h0M1476.5 538.0h0M1482.6 524.6h0M1475.9 523.8h0M1482.6 566.3h0M1480.6 569.4h0M1469.4 567.8h0M1477.0 560.3h0M1486.2 567.5h0M1477.7 574.3h0M1479.0 562.3h0M1470.8 572.2h0M1478.1 558.4h0M1475.0 596.2h0M1481.4 597.3h0M1472.2 595.2h0M1473.3 605.8h0M1479.4 596.9h0M1471.8 598.9h0M1483.3 600.0h0M1476.9 596.7h0M1480.1 594.7h0M1482.8 603.2h0M1479.4 604.0h0M1469.7 604.7h0M1686.0 487.6h0M1692.4 497.9h0M1691.2 487.8h0M1682.5 490.0h0M1691.8 485.7h0M1696.7 495.5h0M1694.4 488.9h0M1690.0 492.9h0M1684.7 485.7h0M1692.0 492.6h0M1685.3 483.8h0M1687.8 495.1h0M1689.3 484.8h0M1691.2 495.7h0M1683.3 491.8h0M1723.3 491.0h0M1724.9 487.5h0M1725.3 490.1h0M1723.7 521.2h0M1726.4 532.4h0M1725.4 525.3h0M1729.5 533.1h0M1723.4 523.2h0M1685.5 568.4h0M1688.8 559.6h0M1685.9 560.7h0M1696.9 567.2h0M1688.8 567.5h0M1699.9 560.1h0M1697.5 562.9h0M1688.4 565.0h0M1691.3 594.6h0M1696.4 593.3h0M1701.0 603.1h0M1686.4 601.7h0M1695.3 595.5h0M1686.5 596.2h0M1697.0 602.6h0M1699.7 593.4h0M1701.2 595.7h0M1700.7 600.2h0M1687.1 598.1h0M1690.6 601.8h0M1688.1 602.7h0M1692.3 608.6h0M1737.0 601.6h0M1738.1 599.6h0M1729.5 600.6h0" stroke="#c6c7ca" stroke-width="2"/>
<path d="M302.3 69.3h0M294.0 78.6h0M296.6 62.6h0M292.5 70.3h0M295.3 66.4h0M291.9 62.9h0M300.2 67.7h0M297.4 69.5h0M285.6 65.7h0M286.4 72.5h0M287.9 75.4h0M295.5 68.9h0M298.0 67.4h0M290.7 74.3h0M296.3 77.0h0M284.6 73.6h0M294.7 150.1h0M285.0 145.8h0M283.5 151.7h0M286.9 139.3h0M287.2 153.5h0M279.7 143.8h0M292.0 145.1h0M291.2 139.1h0M294.6 141.6h0M288.7 151.5h0M281.4 147.4h0M290.1 141.7h0M283.8 143.5h0M497.3 71.1h0M507.4 73.7h0M509.6 66.3h0M509.0 71.0h0M502.8 77.2h0M503.6 64.6h0M502.6 62.1h0M505.7 67.6h0M512.1 73.9h0M495.0 72.0h0M500.2 79.2h0M505.3 76.4h0M508.2 64.5h0M497.7 78.9h0M511.3 67.7h0M505.0 62.6h0M497.6 66.7h0M509.6 74.2h0M509.3 78.1h0M508.8 106.6h0M514.0 108.6h0M506.4 114.5h0M508.2 102.8h0M513.3 104.0h0M504.2 107.1h0M505.2 109.8h0M507.0 108.6h0M516.6 108.5h0M512.5 110.8h0M509.8 143.1h0M509.3 151.1h0M513.6 145.5h0M511.5 135.8h0M515.5 136.7h0M506.0 145.5h0M502.1 145.3h0M508.7 147.7h0M503.8 138.8h0M506.3 137.9h0M502.9 140.9h0M506.5 140.7h0M512.9 137.8h0M516.8 177.4h0M511.9 185.4h0M519.3 180.8h0M506.7 181.0h0M512.9 181.9h0M516.3 185.9h0M514.0 184.7h0M514.6 180.5h0M511.1 172.5h0M507.5 178.8h0M509.1 176.7h0M514.4 172.0h0M519.5 173.4h0M508.5 171.6h0M518.0 183.5h0M510.8 181.5h0M505.5 178.6h0M512.7 177.2h0M1062.7 60.4h0M1065.6 66.4h0M1062.4 65.5h0M1073.6 65.9h0M1068.9 61.2h0M1060.4 71.1h0M1073.1 61.4h0M1069.8 66.2h0M1065.1 61.8h0M1064.9 76.5h0M1075.7 64.1h0M1063.0 75.7h0M1069.1 73.6h0M1075.2 67.5h0M1068.9 59.1h0M1065.0 74.0h0M1073.6 74.6h0M1072.9 72.6h0M1063.7 141.7h0M1075.2 136.7h0M1065.4 140.4h0M1063.6 139.4h0M1073.0 147.6h0M1072.3 145.8h0M1067.7 144.9h0M1079.0 141.3h0M1069.9 137.8h0M1075.6 145.7h0M1077.8 137.5h0M1075.0 133.1h0M1076.2 143.6h0M1065.6 136.7h0M1072.4 143.8h0M1078.4 143.7h0M1065.4 142.8h0M1288.5 65.9h0M1298.2 68.7h0M1296.2 69.8h0M1288.0 71.9h0M1294.7 61.8h0M1290.5 73.9h0M1288.5 59.6h0M1291.9 68.2h0M1300.2 67.5h0M1291.0 71.2h0M1294.3 66.1h0M1295.1 72.8h0M1284.6 67.9h0M1296.4 67.3h0M1292.1 145.1h0M1297.1 141.4h0M1288.0 137.4h0M1294.1 133.4h0M1295.6 132.1h0M1287.1 131.8h0M1294.9 146.8h0M1293.0 131.2h0M1473.4 56.8h0M1476.0 67.6h0M1478.3 69.3h0M1469.4 67.6h0M1468.0 61.1h0M1481.0 57.8h0M1481.7 64.4h0M1471.2 57.0h0M1475.1 65.7h0M1473.6 67.0h0M1482.5 59.8h0M1477.0 59.6h0M1474.5 68.8h0M1477.6 61.5h0M1436.9 143.0h0M1445.7 146.6h0M1448.6 136.7h0M1433.2 141.6h0M1446.3 141.7h0M1431.6 136.7h0M1445.0 138.7h0M1438.6 137.4h0M1444.7 133.6h0M1437.0 146.0h0M1430.9 140.4h0M1447.8 143.9h0M1434.3 146.0h0M1440.7 130.2h0M1436.3 136.2h0M1439.4 144.2h0M1441.2 133.7h0M1436.8 138.4h0M1448.8 141.5h0M1443.3 131.2h0M1442.9 139.2h0M1443.4 147.9h0M1449.3 139.3h0M1439.0 146.5h0M1433.7 137.6h0M1444.9 136.2h0M1468.5 139.6h0M1479.8 132.6h0M1473.2 136.7h0M1481.0 138.1h0M1470.6 143.1h0M1477.4 141.3h0M1471.8 141.5h0M1477.7 131.1h0M1481.7 143.4h0M1478.1 145.0h0M1478.9 134.2h0M1481.1 135.0h0M1475.5 136.8h0M1472.6 132.7h0M1482.8 136.5h0M1726.1 71.2h0M1725.3 68.9h0M1728.8 69.1h0M1723.5 70.5h0M1729.3 73.5h0M1716.7 69.1h0M1729.5 64.7h0M1718.8 60.4h0M1730.6 66.6h0M1727.6 67.1h0M1727.7 64.1h0M1718.1 64.7h0M1714.9 68.5h0M1724.3 67.0h0M1727.0 62.0h0M1725.2 63.1h0M1723.0 61.5h0M1719.4 73.7h0M1719.2 68.1h0M1727.0 73.0h0M1725.2 144.0h0M1718.4 142.8h0M1731.1 146.0h0M1732.8 135.7h0M1731.5 141.5h0M1729.4 138.2h0M1731.1 143.9h0M1721.4 144.7h0M1734.2 141.6h0M1733.7 138.6h0M1908.9 138.9h0M1904.0 133.1h0M1902.6 138.0h0M1909.5 135.6h0M1906.3 134.3h0M1915.2 135.9h0M1908.7 132.5h0M1913.2 131.3h0M1909.4 144.3h0M1916.3 138.9h0M1906.2 132.2h0M1907.3 140.2h0M1912.0 137.7h0M1906.6 144.7h0M1060.1 287.2h0M1060.2 292.7h0M1054.4 288.2h0M1062.4 283.3h0M1064.8 282.0h0M1062.6 289.7h0M1055.1 285.8h0M1055.3 292.2h0M1057.3 287.0h0M1050.5 285.6h0M1055.9 289.6h0M1058.7 290.2h0M1062.1 351.2h0M1066.8 364.7h0M1069.2 356.7h0M1068.3 361.2h0M1059.4 353.9h0M1068.2 352.5h0M1063.6 360.0h0M1071.2 353.4h0M1059.6 359.6h0M1058.5 362.9h0M1057.4 351.5h0M1056.4 354.4h0M1070.5 361.0h0M1062.6 364.9h0M1063.7 356.0h0M1059.6 356.6h0M1069.5 363.1h0M1290.8 277.1h0M1298.8 279.8h0M1300.7 286.3h0M1294.2 291.6h0M1300.1 275.7h0M1302.5 285.0h0M1295.5 280.7h0M1296.6 276.4h0M1295.9 290.4h0M1292.9 277.8h0M1289.5 282.1h0M1295.3 278.4h0M1300.7 290.0h0M1291.4 283.1h0M1291.6 275.0h0M1288.0 287.8h0M1299.4 284.1h0M1289.8 323.6h0M1302.0 316.5h0M1291.5 321.6h0M1294.5 319.9h0M1292.9 323.5h0M1300.5 326.7h0M1298.8 317.0h0M1296.8 317.1h0M1289.5 327.5h0M1302.8 320.2h0M1298.0 327.8h0M1303.4 323.3h0M1292.1 327.0h0M1289.1 319.5h0M1291.8 315.1h0M1293.6 314.0h0M1300.0 319.4h0M1288.7 357.8h0M1302.1 358.9h0M1293.2 354.5h0M1298.7 361.8h0M1297.1 349.9h0M1304.1 355.4h0M1294.7 357.1h0M1304.0 357.5h0M1295.2 365.7h0M1299.3 358.3h0M1296.9 357.6h0M1294.1 350.0h0M1288.6 354.1h0M1299.6 353.8h0M1296.7 363.7h0M1292.7 357.2h0M1297.0 352.7h0M1516.0 286.6h0M1506.1 287.1h0M1499.2 283.3h0M1503.3 280.5h0M1508.1 292.8h0M1502.0 277.7h0M1514.4 290.5h0M1511.7 275.4h0M1499.2 281.3h0M1509.1 282.1h0M1511.8 277.7h0M1512.5 289.4h0M1507.7 289.3h0M1507.1 276.2h0M1507.3 280.4h0M1516.9 281.2h0M1502.6 286.7h0M1508.4 278.5h0M1510.6 291.2h0M1502.0 289.7h0M1510.3 289.1h0M1512.8 285.7h0M1506.0 326.6h0M1511.7 327.4h0M1513.0 315.6h0M1506.7 322.4h0M1515.5 323.0h0M1511.1 322.2h0M1505.5 314.7h0M1504.3 322.5h0M1501.8 325.1h0M1504.4 324.6h0M1515.5 316.1h0M1515.6 318.1h0M1505.3 316.6h0M1504.2 319.0h0M1501.4 316.9h0M1509.2 328.5h0M1503.3 315.7h0M1512.4 312.9h0M1504.4 328.6h0M1502.4 362.1h0M1516.3 355.9h0M1503.3 355.6h0M1508.9 361.6h0M1499.0 358.9h0M1505.5 363.0h0M1506.4 355.5h0M1505.4 349.5h0M1509.2 365.1h0M1500.4 353.2h0M1501.2 355.9h0M1500.1 360.8h0M1515.6 361.3h0M1507.7 351.5h0M1504.4 351.5h0M1510.8 355.7h0M1514.3 362.8h0M1729.3 276.8h0M1718.0 281.6h0M1732.6 282.6h0M1721.0 289.7h0M1725.7 279.1h0M1729.5 280.3h0M1720.4 285.3h0M1721.4 287.3h0M1724.9 283.9h0M1725.8 275.2h0M1728.1 284.0h0M1726.1 291.4h0M1728.3 289.1h0M1728.1 291.8h0M1721.4 277.8h0M1718.7 288.0h0M1721.3 283.4h0M1728.1 286.4h0M1726.2 285.5h0M1732.7 316.3h0M1728.0 314.1h0M1723.7 328.4h0M1735.5 320.0h0M1724.2 319.4h0M1727.9 316.6h0M1725.7 330.4h0M1731.8 319.2h0M1723.4 322.7h0M1724.8 315.2h0M1731.1 323.2h0M1728.1 318.9h0M1724.6 326.1h0M1721.5 315.4h0M1726.0 328.4h0M1722.4 320.0h0M1734.6 325.0h0M1735.3 358.6h0M1722.1 362.1h0M1726.9 359.2h0M1731.4 362.1h0M1730.8 351.8h0M1730.6 357.8h0M1733.2 363.1h0M1726.6 352.1h0M1727.9 362.7h0M1728.1 353.5h0M1724.5 360.8h0M1729.8 360.9h0M1733.8 360.4h0M1729.8 348.4h0M1730.6 354.0h0M1721.1 358.1h0M1915.1 316.1h0M1913.3 319.5h0M1901.5 315.6h0M1907.9 312.7h0M1903.0 320.2h0M1911.4 318.2h0M1911.3 310.3h0M1908.4 309.1h0M1909.0 314.7h0M1913.2 310.4h0M1906.8 322.8h0M1911.3 321.6h0M1905.1 317.2h0M1901.2 317.6h0M1909.6 322.5h0M1948.6 328.1h0M1941.4 323.3h0M1938.8 322.8h0M1947.9 316.6h0M1943.8 321.2h0M1946.1 321.5h0M1944.6 326.8h0M1945.3 319.5h0M1937.7 318.8h0M1949.1 324.4h0M1939.6 320.4h0M1951.6 325.0h0M1941.5 321.1h0M1950.2 318.9h0M1944.6 317.6h0M1939.7 325.4h0M1948.0 352.6h0M1936.4 354.7h0M1951.4 362.4h0M1949.8 361.1h0M1949.7 356.5h0M1947.7 362.9h0M1938.3 357.4h0M1946.4 358.4h0M1942.8 365.3h0M1941.5 367.3h0M1947.8 360.5h0M1943.3 362.5h0M1069.5 492.4h0M1073.6 495.0h0M1075.4 484.3h0M1064.3 491.7h0M1078.5 484.9h0M1078.5 494.3h0M1080.0 486.7h0M1067.1 486.8h0M1063.5 489.9h0M1069.8 485.2h0M1069.0 481.5h0M1075.3 480.8h0M1072.1 489.4h0M1066.1 493.9h0M1076.7 485.7h0M1065.7 483.6h0M1067.2 496.0h0M1076.8 496.5h0M1072.3 485.9h0M1082.6 526.2h0M1074.4 533.1h0M1084.9 525.2h0M1074.0 521.9h0M1074.6 524.9h0M1068.3 528.8h0M1075.6 535.1h0M1078.6 523.0h0M1079.7 525.7h0M1069.8 526.4h0M1076.8 524.8h0M1073.6 519.2h0M1071.3 529.8h0M1080.6 528.6h0M1081.9 530.4h0M1071.9 533.1h0M1082.7 524.3h0M1073.0 531.2h0M1072.4 562.8h0M1073.4 559.3h0M1065.2 563.6h0M1072.7 556.7h0M1074.3 571.8h0M1077.3 570.9h0M1072.3 567.0h0M1066.8 560.1h0M1075.7 561.0h0M1073.9 565.4h0M1068.5 566.1h0M1069.0 572.2h0M1070.4 594.1h0M1070.2 598.7h0M1077.7 599.7h0M1071.7 606.1h0M1072.9 592.9h0M1067.7 597.9h0M1080.4 595.6h0M1079.0 602.1h0M1079.3 593.9h0M1256.0 488.3h0M1262.9 494.0h0M1260.5 496.2h0M1255.2 490.5h0M1258.1 484.0h0M1251.1 488.5h0M1257.3 489.9h0M1254.6 499.6h0M1251.2 493.8h0M1255.0 493.3h0M1260.8 484.5h0M1253.7 488.4h0M1263.1 487.2h0M1260.2 492.1h0M1253.7 485.4h0M1258.5 497.9h0M1257.3 496.4h0M1249.2 487.9h0M1251.6 496.1h0M1255.2 497.1h0M1255.6 483.9h0M1289.9 526.5h0M1294.3 532.7h0M1292.1 518.3h0M1292.1 531.3h0M1295.0 524.4h0M1295.3 519.3h0M1289.3 518.8h0M1299.0 530.2h0M1296.8 533.6h0M1294.2 530.4h0M1300.5 526.5h0M1261.7 566.9h0M1262.4 556.9h0M1262.0 569.5h0M1265.0 568.8h0M1262.3 563.0h0M1251.3 565.8h0M1252.6 562.6h0M1255.6 557.2h0M1255.9 564.0h0M1251.4 568.8h0M1264.0 567.2h0M1250.6 561.5h0M1258.2 559.0h0M1256.0 568.6h0M1252.7 557.5h0M1256.6 561.5h0M1258.5 571.9h0M1268.6 596.4h0M1259.5 594.6h0M1266.3 602.9h0M1253.6 596.2h0M1265.8 598.0h0M1264.3 594.3h0M1262.6 603.3h0M1269.2 600.5h0M1265.6 596.0h0M1268.3 598.5h0M1255.8 592.3h0M1252.7 603.7h0M1256.7 606.0h0M1258.9 599.7h0M1259.3 596.9h0M1256.9 601.0h0M1254.3 598.7h0M1260.2 606.6h0M1265.0 601.2h0M1251.7 600.8h0M1255.5 596.6h0M1267.2 600.5h0M1258.5 605.0h0M1260.9 608.5h0M1259.2 602.0h0M1474.3 496.2h0M1482.3 489.6h0M1474.7 493.2h0M1468.6 494.0h0M1478.9 500.6h0M1474.5 501.3h0M1472.7 498.3h0M1485.0 492.8h0M1484.4 495.5h0M1473.8 486.5h0M1479.8 495.0h0M1481.9 493.0h0M1473.5 488.5h0M1475.1 490.0h0M1468.5 496.0h0M1482.4 496.0h0M1478.6 491.0h0M1475.5 499.6h0M1472.2 530.6h0M1485.2 526.2h0M1479.8 532.1h0M1481.8 529.9h0M1487.1 535.1h0M1482.3 533.6h0M1473.6 532.4h0M1475.1 534.1h0M1484.4 538.5h0M1478.4 530.7h0M1484.3 532.5h0M1479.3 534.2h0M1480.9 523.8h0M1488.0 527.0h0M1473.9 525.9h0M1472.2 534.0h0M1476.7 562.3h0M1474.6 567.5h0M1484.1 563.2h0M1479.3 572.5h0M1470.3 564.8h0M1471.6 568.3h0M1481.1 564.3h0M1478.8 564.5h0M1474.5 570.5h0M1476.0 558.5h0M1477.5 566.3h0M1481.1 574.2h0M1482.0 561.1h0M1483.8 605.8h0M1474.7 593.3h0M1480.9 605.5h0M1475.2 606.8h0M1477.8 593.6h0M1484.7 598.4h0M1474.3 600.6h0M1471.1 607.8h0M1478.7 602.0h0M1471.8 602.1h0M1482.8 607.7h0M1468.9 601.3h0M1477.2 600.1h0M1478.6 606.8h0M1476.8 608.6h0M1474.6 598.2h0M1483.2 596.3h0M1696.1 493.1h0M1682.4 494.7h0M1680.9 491.2h0M1689.1 482.7h0M1695.9 487.1h0M1687.0 498.1h0M1694.0 491.2h0M1694.7 495.7h0M1685.2 496.4h0M1690.8 490.8h0M1684.5 493.7h0M1686.8 492.6h0M1696.3 489.4h0M1694.6 484.3h0M1681.9 486.7h0M1685.4 490.7h0M1729.2 494.9h0M1725.5 485.4h0M1720.4 485.1h0M1720.8 497.5h0M1729.6 490.7h0M1717.2 494.4h0M1716.7 492.2h0M1718.3 486.5h0M1723.5 498.2h0M1721.5 489.4h0M1718.7 492.3h0M1733.3 520.7h0M1733.4 529.9h0M1723.5 527.7h0M1729.7 530.9h0M1729.7 528.9h0M1727.5 522.4h0M1726.3 519.2h0M1727.2 534.8h0M1734.9 528.0h0M1725.6 522.3h0M1725.1 534.7h0M1733.3 532.0h0M1732.3 527.0h0M1735.2 522.9h0M1731.6 524.7h0M1721.1 529.6h0M1729.4 527.0h0M1694.3 567.0h0M1692.1 569.3h0M1690.5 572.1h0M1698.4 568.8h0M1694.2 556.6h0M1686.8 562.8h0M1694.1 571.6h0M1689.0 570.6h0M1685.5 565.3h0M1701.3 566.4h0M1697.1 559.3h0M1686.9 570.3h0M1693.1 560.1h0M1689.3 562.4h0M1701.1 563.2h0M1700.7 568.5h0M1693.1 565.3h0M1694.0 562.3h0M1686.8 566.7h0M1691.0 567.0h0M1691.9 573.6h0M1699.6 570.4h0M1691.4 564.1h0M1691.0 560.1h0M1699.2 605.3h0M1688.7 600.4h0M1691.7 599.9h0M1691.2 606.0h0M1702.1 598.8h0M1692.0 603.4h0M1695.7 599.3h0M1693.5 593.6h0M1693.4 607.1h0M1698.6 595.0h0M1693.2 601.1h0M1688.7 606.2h0M1690.4 607.9h0M1693.0 605.0h0M1689.7 596.2h0M1695.1 608.7h0M1697.9 608.0h0M1729.4 598.3h0M1734.4 602.0h0M1734.1 594.3h0M1734.9 596.8h0M1729.2 593.7h0M1736.2 593.0h0M1726.6 598.5h0M1739.3 597.1h0M1737.7 595.0h0M1725.6 600.3h0" stroke="#c6c7ca" stroke-width="2.3"/>
<path d="M324.5 70.3h0M318.9 141.1h0M325.2 150.2h0M536.0 72.0h0M545.6 68.9h0M573.3 68.0h0M585.5 62.8h0M536.4 112.1h0M548.4 103.1h0M551.8 110.3h0M550.5 138.6h0M542.8 142.4h0M547.7 137.0h0M1115.9 71.8h0M1112.9 144.9h0M1112.1 140.5h0M1330.4 67.4h0M1323.3 67.3h0M1323.6 139.4h0M1507.8 65.3h0M1514.4 58.8h0M1509.1 59.0h0M1519.3 70.2h0M1509.7 63.0h0M1517.0 57.7h0M1518.0 65.9h0M1547.2 56.7h0M1542.2 51.5h0M1540.7 68.4h0M1541.0 58.3h0M1505.7 131.2h0M1504.2 141.4h0M1511.2 131.9h0M1515.4 137.7h0M1507.5 145.1h0M1542.8 138.4h0M1548.8 139.2h0M1760.8 59.8h0M1760.6 142.5h0M1974.5 66.1h0M1946.8 143.9h0M1941.7 144.1h0M1944.7 132.9h0M1972.2 144.4h0M1977.1 141.4h0M1982.9 143.6h0M1092.9 273.2h0M1092.5 287.8h0M1098.5 287.7h0M1088.5 277.3h0M1085.9 281.4h0M1090.9 291.2h0M1091.3 354.7h0M1098.9 361.0h0M1098.3 357.0h0M1089.2 351.1h0M1095.2 365.0h0M1090.9 363.3h0M1099.1 352.0h0M1088.3 354.0h0M1096.5 362.6h0M1330.9 287.1h0M1330.3 314.9h0M1327.5 325.6h0M1319.6 357.1h0M1320.5 352.1h0M1323.7 346.0h0M1323.3 358.3h0M1543.3 280.7h0M1551.4 279.7h0M1542.4 287.8h0M1545.7 285.4h0M1545.4 310.0h0M1545.5 322.0h0M1536.6 323.2h0M1549.9 314.9h0M1539.1 324.6h0M1543.7 364.8h0M1533.4 352.7h0M1543.0 360.2h0M1766.9 321.3h0M1767.1 318.1h0M1762.5 314.1h0M1758.3 356.8h0M1985.9 289.7h0M1982.3 281.0h0M1974.3 321.0h0M1967.0 359.7h0M1972.8 365.6h0M1974.7 368.4h0M1101.6 489.1h0M1106.9 484.2h0M1111.0 481.8h0M1109.9 485.3h0M1108.0 492.6h0M1102.5 522.3h0M1111.5 522.9h0M1115.5 527.2h0M1116.7 521.6h0M1109.3 532.7h0M1106.6 528.4h0M1109.2 559.2h0M1107.6 568.0h0M1286.8 492.8h0M1295.9 497.1h0M1329.4 485.3h0M1321.0 531.0h0M1334.0 523.6h0M1288.0 556.7h0M1284.4 562.5h0M1331.9 566.1h0M1321.7 555.8h0M1326.4 565.6h0M1287.1 600.0h0M1293.9 598.5h0M1296.2 589.8h0M1291.5 597.3h0M1295.7 605.4h0M1512.5 488.1h0M1503.5 498.3h0M1515.4 499.2h0M1547.2 501.2h0M1542.7 503.6h0M1539.2 503.4h0M1510.2 538.1h0M1509.2 530.9h0M1510.5 524.9h0M1517.0 535.4h0M1545.3 537.2h0M1542.7 535.6h0M1551.4 536.0h0M1547.7 531.0h0M1514.3 568.5h0M1505.2 563.6h0M1538.2 570.2h0M1538.7 567.4h0M1507.9 604.9h0M1514.5 602.5h0M1506.5 595.6h0M1763.1 528.4h0M1760.7 532.5h0M1758.7 535.9h0M1761.0 519.9h0M1722.6 560.2h0M1729.0 562.0h0M1725.3 569.1h0M1764.3 568.5h0M1756.8 569.0h0M1762.8 564.2h0M1978.9 486.3h0M1974.2 494.0h0M1980.8 495.3h0M1969.6 533.2h0M1969.7 524.0h0M1978.2 523.5h0M1982.8 529.7h0M1980.0 527.2h0M1972.4 531.4h0" stroke="#cdced0" stroke-width="2.6"/>
<path d="M330.0 64.7h0M325.3 64.9h0M325.3 143.1h0M540.7 63.3h0M536.1 68.2h0M548.1 73.6h0M548.3 67.8h0M576.8 65.1h0M580.3 75.2h0M543.9 116.4h0M1111.5 72.0h0M1108.4 74.0h0M1099.7 140.6h0M1106.0 143.1h0M1108.5 149.4h0M1327.0 74.0h0M1320.6 69.4h0M1330.6 147.0h0M1545.9 60.4h0M1510.2 144.1h0M1514.7 141.8h0M1505.4 138.2h0M1547.5 136.6h0M1540.6 131.3h0M1544.9 133.2h0M1762.3 70.0h0M1755.0 62.3h0M1762.6 132.5h0M1948.5 134.6h0M1941.3 140.7h0M1942.6 135.3h0M1937.1 142.1h0M1945.2 135.8h0M1936.9 137.2h0M1977.1 145.8h0M1980.3 141.2h0M1096.2 282.4h0M1100.6 282.5h0M1094.9 278.1h0M1087.3 289.2h0M1090.0 358.6h0M1329.2 282.5h0M1336.6 323.3h0M1329.3 323.2h0M1324.7 320.5h0M1323.8 313.3h0M1333.6 326.4h0M1329.0 350.3h0M1323.6 351.9h0M1541.0 284.0h0M1539.9 286.6h0M1539.2 279.4h0M1548.5 282.2h0M1546.3 277.3h0M1546.3 289.6h0M1541.1 327.3h0M1542.7 323.2h0M1548.0 311.1h0M1545.3 315.4h0M1552.2 319.4h0M1536.6 314.6h0M1544.1 352.3h0M1764.8 286.3h0M1756.8 291.5h0M1754.7 281.2h0M1766.8 314.7h0M1771.3 318.8h0M1754.4 359.0h0M1760.8 358.8h0M1750.8 355.4h0M1977.5 292.4h0M1975.9 331.9h0M1986.3 321.4h0M1984.0 328.7h0M1976.4 324.6h0M1977.9 321.1h0M1971.4 358.6h0M1978.7 363.3h0M1113.1 490.4h0M1110.3 489.6h0M1116.4 489.7h0M1108.4 520.8h0M1108.7 517.8h0M1114.1 524.5h0M1112.5 530.7h0M1116.3 530.6h0M1109.9 566.4h0M1115.1 559.2h0M1288.9 499.8h0M1286.3 486.6h0M1281.8 491.6h0M1291.4 486.1h0M1324.9 491.9h0M1330.3 493.8h0M1327.8 522.4h0M1318.4 526.3h0M1291.0 560.1h0M1292.2 554.7h0M1295.8 569.3h0M1322.6 558.9h0M1290.5 601.0h0M1302.0 595.2h0M1297.4 596.3h0M1295.9 593.4h0M1289.5 595.0h0M1287.6 596.9h0M1506.6 501.2h0M1518.6 502.0h0M1507.8 488.9h0M1509.5 498.9h0M1505.9 495.7h0M1549.8 495.9h0M1551.1 503.3h0M1545.4 506.4h0M1541.5 495.4h0M1508.5 527.2h0M1504.9 532.8h0M1519.4 533.2h0M1508.2 533.7h0M1516.9 565.6h0M1504.4 571.0h0M1509.2 560.5h0M1550.5 575.3h0M1542.4 574.7h0M1544.0 568.7h0M1549.8 563.9h0M1504.8 598.8h0M1510.6 606.0h0M1751.0 495.6h0M1747.0 494.9h0M1752.5 488.3h0M1753.1 525.2h0M1726.9 554.7h0M1736.5 562.7h0M1734.5 560.5h0M1752.7 567.4h0M1759.3 564.2h0M1970.6 494.5h0M1979.7 532.8h0M1983.0 524.5h0" stroke="#cdced0" stroke-width="3.4"/>
<path d="M325.2 73.2h0M319.9 63.4h0M322.1 68.3h0M322.1 74.1h0M323.2 147.0h0M314.5 149.3h0M318.6 151.7h0M546.0 62.2h0M540.7 72.2h0M576.9 72.5h0M583.5 60.9h0M588.1 69.2h0M584.4 69.4h0M576.5 68.5h0M539.8 108.2h0M541.9 102.6h0M540.3 115.0h0M545.5 107.7h0M549.6 105.9h0M551.2 144.4h0M554.2 142.3h0M1108.1 71.1h0M1111.7 66.9h0M1101.1 149.2h0M1102.3 141.9h0M1104.6 150.3h0M1108.0 138.7h0M1325.3 63.5h0M1327.5 65.7h0M1326.0 77.4h0M1329.3 70.0h0M1325.5 149.6h0M1319.0 145.5h0M1317.4 142.6h0M1322.2 147.1h0M1327.4 145.5h0M1520.6 64.5h0M1513.2 72.1h0M1513.9 63.4h0M1509.9 56.3h0M1517.3 62.7h0M1508.8 67.9h0M1510.6 70.1h0M1505.1 62.8h0M1514.3 67.8h0M1537.9 58.5h0M1538.3 66.3h0M1539.4 52.4h0M1535.8 54.4h0M1533.8 59.4h0M1509.9 139.5h0M1516.6 135.3h0M1508.4 129.9h0M1503.0 135.3h0M1509.6 134.2h0M1506.6 133.8h0M1513.2 139.6h0M1546.9 143.1h0M1540.6 145.5h0M1537.6 143.3h0M1759.0 67.6h0M1758.2 63.5h0M1752.5 66.7h0M1766.8 65.6h0M1761.2 64.1h0M1755.1 68.4h0M1757.8 142.6h0M1768.7 138.8h0M1754.1 139.5h0M1764.8 138.2h0M1756.0 134.3h0M1765.3 144.9h0M1759.9 130.0h0M1980.1 72.2h0M1974.0 69.1h0M1980.6 60.2h0M1976.8 72.0h0M1979.2 64.1h0M1981.7 68.4h0M1944.0 142.3h0M1944.8 139.4h0M1983.7 139.0h0M1981.2 146.1h0M1976.7 138.6h0M1972.8 138.9h0M1975.1 135.5h0M1970.0 140.4h0M1978.7 135.9h0M1985.2 141.9h0M1090.2 285.6h0M1095.0 291.5h0M1098.5 274.4h0M1095.3 288.8h0M1092.1 283.6h0M1101.5 278.5h0M1102.0 288.5h0M1088.5 282.4h0M1103.8 282.8h0M1094.0 360.1h0M1095.7 350.0h0M1102.2 356.3h0M1088.2 361.9h0M1095.0 354.8h0M1333.4 289.9h0M1324.1 285.6h0M1331.1 279.7h0M1331.3 292.0h0M1330.7 327.4h0M1333.0 311.5h0M1333.2 323.1h0M1333.2 319.8h0M1330.3 318.3h0M1323.0 317.8h0M1333.3 316.5h0M1326.9 315.1h0M1329.9 356.4h0M1326.1 354.3h0M1326.6 346.0h0M1326.0 360.5h0M1332.0 348.3h0M1332.8 353.2h0M1329.5 359.2h0M1540.2 291.8h0M1537.5 288.0h0M1548.7 287.2h0M1537.6 284.1h0M1553.9 284.6h0M1541.8 317.1h0M1541.0 314.5h0M1542.7 320.1h0M1546.3 327.3h0M1549.1 321.5h0M1540.8 358.4h0M1546.4 356.7h0M1538.0 356.8h0M1538.0 365.5h0M1543.0 354.9h0M1541.9 362.8h0M1761.4 279.8h0M1759.0 289.4h0M1764.8 282.0h0M1763.8 289.4h0M1766.0 325.9h0M1762.5 325.7h0M1758.8 321.3h0M1764.1 320.4h0M1770.0 314.8h0M1760.1 316.8h0M1753.7 354.6h0M1755.2 349.1h0M1974.9 285.7h0M1975.1 288.5h0M1984.6 284.4h0M1982.1 288.2h0M1974.5 326.6h0M1984.4 325.4h0M1979.3 318.3h0M1987.2 324.1h0M1982.7 321.2h0M1978.2 327.0h0M1983.5 332.4h0M1982.9 318.4h0M1967.5 363.7h0M1974.2 359.4h0M1104.3 494.4h0M1113.6 495.7h0M1107.4 487.9h0M1116.8 493.5h0M1110.2 494.6h0M1109.5 497.7h0M1113.6 487.4h0M1103.0 530.7h0M1104.9 520.5h0M1111.5 518.7h0M1109.2 514.9h0M1101.9 526.6h0M1109.7 525.5h0M1114.0 517.2h0M1104.2 565.8h0M1105.1 562.1h0M1113.0 564.1h0M1110.8 556.1h0M1102.0 557.2h0M1286.5 496.4h0M1290.5 496.5h0M1295.0 487.8h0M1292.6 491.3h0M1295.6 491.4h0M1292.8 483.3h0M1299.3 490.6h0M1292.8 498.3h0M1288.7 490.3h0M1284.2 484.7h0M1323.2 486.6h0M1325.7 494.6h0M1326.0 486.6h0M1318.3 493.6h0M1328.7 519.7h0M1328.6 528.7h0M1322.9 533.1h0M1319.8 521.9h0M1332.0 531.4h0M1292.1 567.7h0M1297.9 561.0h0M1297.1 566.2h0M1286.8 568.8h0M1300.0 567.5h0M1294.2 560.5h0M1294.2 565.1h0M1288.9 564.7h0M1290.8 570.3h0M1300.5 559.7h0M1287.1 559.8h0M1331.7 554.9h0M1324.7 557.1h0M1328.9 557.1h0M1329.4 562.1h0M1319.5 564.4h0M1324.4 552.4h0M1300.9 592.4h0M1293.2 591.6h0M1298.1 603.0h0M1290.2 592.0h0M1513.7 505.3h0M1520.0 495.0h0M1510.4 490.8h0M1508.4 494.5h0M1505.9 492.6h0M1513.2 495.4h0M1515.7 493.2h0M1510.0 502.9h0M1550.3 499.2h0M1550.1 506.2h0M1541.0 498.6h0M1550.1 509.1h0M1513.0 538.4h0M1517.2 530.9h0M1512.4 529.3h0M1504.2 530.1h0M1513.1 532.3h0M1520.1 529.5h0M1518.8 525.7h0M1548.9 542.1h0M1544.5 528.3h0M1550.8 531.4h0M1549.4 538.9h0M1518.1 568.2h0M1512.2 566.5h0M1506.6 569.3h0M1508.3 564.1h0M1543.1 578.5h0M1549.8 571.2h0M1547.3 567.0h0M1547.6 578.5h0M1514.8 599.3h0M1512.4 592.4h0M1508.4 601.7h0M1508.8 590.8h0M1751.2 492.1h0M1756.9 495.7h0M1747.2 490.6h0M1755.9 525.0h0M1760.1 529.8h0M1767.8 530.1h0M1759.2 523.2h0M1754.6 529.4h0M1729.8 558.8h0M1725.1 562.1h0M1733.6 563.8h0M1731.7 566.8h0M1720.5 563.5h0M1731.7 561.6h0M1726.7 565.1h0M1730.3 555.3h0M1729.0 570.6h0M1750.9 562.0h0M1761.5 567.0h0M1766.0 563.1h0M1756.5 563.2h0M1979.7 491.0h0M1974.9 490.0h0M1974.0 486.9h0M1984.9 494.4h0M1975.2 500.5h0M1975.4 528.3h0M1968.4 526.7h0M1975.1 522.3h0M1976.1 532.7h0M1972.7 523.8h0" stroke="#cdced0" stroke-width="3"/>
<path d="M355.5 64.0h0M364.8 65.9h0M356.3 68.5h0M350.3 149.0h0M349.3 145.4h0M543.8 179.9h0M543.6 174.1h0M586.0 172.4h0M1111.7 600.0h0M1326.9 594.8h0M1328.5 598.5h0M1534.4 603.6h0M1537.2 605.2h0M1981.6 565.3h0M1973.2 563.3h0M1979.1 559.7h0M1974.3 596.4h0" stroke="#cdced0" stroke-width="2.8"/>
<path d="M358.4 74.1h0M354.6 150.1h0M358.1 147.0h0M584.7 109.4h0M579.3 108.3h0M581.6 111.4h0M585.8 106.6h0M578.9 139.3h0M547.3 175.0h0M547.7 178.3h0M585.7 176.3h0M1111.6 595.5h0M1108.3 597.3h0M1108.7 594.0h0M1324.7 598.8h0M1328.8 601.5h0M1547.8 599.7h0M1536.3 593.0h0M1978.5 566.9h0M1972.6 592.4h0M1976.3 592.9h0M1978.1 598.8h0" stroke="#cdced0" stroke-width="3.2"/>
<path d="M218.7 108.5h0M225.9 111.6h0M224.4 104.8h0M229.3 110.4h0M230.8 108.8h0M220.6 102.2h0M229.1 107.4h0M225.2 110.2h0M218.1 106.2h0M231.1 106.8h0M222.8 103.0h0M223.4 108.8h0M218.5 110.8h0M230.3 105.2h0M227.9 150.0h0M221.4 145.1h0M226.7 139.7h0M224.8 145.1h0M223.1 143.7h0M225.2 148.2h0M231.2 144.6h0M222.8 146.8h0M229.9 149.7h0M220.7 143.3h0M225.4 151.2h0M228.5 148.3h0M221.0 147.1h0M219.2 149.6h0M441.6 101.9h0M436.4 103.2h0M439.4 100.8h0M440.6 107.1h0M440.6 99.3h0M449.1 101.7h0M436.6 99.6h0M445.6 106.2h0M445.7 99.5h0M446.4 103.4h0M444.3 103.0h0M438.7 102.3h0M440.0 105.1h0M448.2 105.2h0M437.7 139.0h0M440.6 144.2h0M438.7 140.9h0M441.6 139.0h0M444.2 142.1h0M444.0 136.4h0M443.4 143.6h0M447.7 138.7h0M443.9 133.8h0M438.7 132.8h0M439.9 135.5h0M436.3 135.9h0M433.9 137.9h0M443.9 140.2h0M443.8 167.5h0M447.7 169.2h0M444.4 178.7h0M447.1 172.2h0M448.1 178.8h0M440.2 169.7h0M446.6 174.5h0M439.5 173.6h0M442.0 177.1h0M452.2 174.7h0M444.6 176.6h0M446.7 177.4h0M443.8 170.2h0M449.3 171.4h0M1004.7 60.6h0M998.6 63.2h0M1005.3 66.0h0M997.6 65.5h0M1006.6 58.7h0M1008.9 66.5h0M1001.7 70.5h0M1010.0 59.9h0M1012.7 66.0h0M1005.2 71.1h0M998.4 67.2h0M1007.8 68.6h0M1001.6 60.1h0M1002.8 71.9h0M1009.3 105.9h0M1012.5 103.7h0M1009.1 100.7h0M1004.7 106.3h0M1000.6 100.2h0M1002.8 106.4h0M1009.7 98.0h0M1008.7 103.9h0M1009.1 107.5h0M1002.8 104.3h0M999.5 107.0h0M998.2 105.4h0M1003.1 97.3h0M1005.1 103.4h0M998.1 138.9h0M1009.9 142.6h0M997.9 143.3h0M1007.9 134.5h0M999.2 135.7h0M1009.6 135.7h0M1001.6 141.1h0M1007.3 143.0h0M1008.3 138.0h0M1003.2 134.7h0M1005.5 141.4h0M1010.2 138.1h0M1002.7 145.2h0M1004.3 142.6h0M1234.5 69.2h0M1236.9 65.2h0M1231.1 56.6h0M1239.5 63.8h0M1236.5 67.4h0M1233.0 60.8h0M1234.1 56.6h0M1225.0 62.5h0M1233.1 68.4h0M1239.1 66.0h0M1234.4 59.0h0M1235.2 64.4h0M1229.0 68.1h0M1229.1 60.7h0M1230.6 107.0h0M1230.4 97.5h0M1235.5 104.1h0M1233.9 106.6h0M1226.5 101.3h0M1236.0 94.3h0M1231.4 92.2h0M1231.0 102.9h0M1233.3 94.5h0M1236.2 99.1h0M1226.7 105.2h0M1232.8 92.9h0M1234.5 102.6h0M1226.8 95.9h0M1221.6 139.3h0M1227.5 140.8h0M1221.9 137.1h0M1223.0 140.3h0M1230.1 141.0h0M1228.9 143.3h0M1228.0 136.2h0M1226.5 134.8h0M1234.2 131.5h0M1228.3 131.6h0M1235.7 134.9h0M1224.7 139.7h0M1236.2 137.0h0M1230.0 134.0h0M1616.3 61.8h0M1619.4 63.4h0M1620.7 61.3h0M1628.1 66.4h0M1616.1 63.5h0M1622.3 67.3h0M1628.7 64.3h0M1615.9 67.9h0M1627.1 69.0h0M1622.7 70.3h0M1617.9 58.8h0M1618.0 69.8h0M1624.6 68.2h0M1628.7 62.3h0M1651.8 60.6h0M1660.3 63.7h0M1656.8 63.0h0M1656.6 66.7h0M1659.1 67.0h0M1658.2 57.5h0M1647.7 61.1h0M1653.5 64.3h0M1651.3 63.8h0M1646.9 63.3h0M1653.7 59.5h0M1660.0 60.3h0M1657.7 64.5h0M1658.8 62.8h0M1661.7 105.5h0M1650.0 99.0h0M1660.9 103.2h0M1652.4 101.7h0M1658.7 106.0h0M1651.1 103.0h0M1653.9 96.4h0M1658.7 104.2h0M1656.1 109.6h0M1655.5 106.5h0M1654.9 100.2h0M1662.1 100.4h0M1650.3 107.9h0M1659.7 100.8h0M1647.5 138.0h0M1654.2 139.8h0M1650.8 146.9h0M1651.1 135.5h0M1660.5 142.4h0M1648.1 140.6h0M1656.2 143.8h0M1657.3 148.0h0M1658.3 140.7h0M1655.6 137.9h0M1659.7 135.6h0M1651.2 141.4h0M1652.9 142.7h0M1662.4 140.8h0M1857.1 61.3h0M1854.3 70.0h0M1847.9 58.1h0M1847.4 70.8h0M1846.9 69.1h0M1851.7 60.1h0M1849.1 61.7h0M1849.9 64.5h0M1853.7 63.6h0M1853.0 58.8h0M1848.2 63.7h0M1847.7 67.2h0M1855.6 65.9h0M1852.9 71.7h0M993.4 282.3h0M996.0 278.5h0M1001.3 277.6h0M1002.6 285.8h0M991.8 283.8h0M995.2 287.6h0M998.3 279.3h0M995.0 280.7h0M1000.3 289.7h0M992.4 286.9h0M999.5 282.5h0M997.5 290.4h0M1000.8 281.0h0M1002.7 289.0h0M992.7 322.0h0M997.6 318.2h0M1000.9 326.7h0M995.6 323.0h0M998.6 325.2h0M1001.9 315.4h0M1006.4 319.6h0M1004.8 320.0h0M996.1 314.9h0M1003.4 323.3h0M996.8 321.2h0M994.9 319.2h0M1003.5 321.0h0M1005.0 314.6h0M1003.8 356.0h0M1006.5 359.9h0M1005.4 356.4h0M996.1 350.4h0M998.4 349.9h0M1004.1 354.4h0M993.5 359.7h0M997.8 352.2h0M1000.6 350.3h0M997.9 359.1h0M998.3 361.6h0M1004.1 350.9h0M994.3 355.7h0M1000.3 361.7h0M1221.1 278.0h0M1231.8 277.3h0M1219.7 275.1h0M1228.8 282.7h0M1225.7 281.1h0M1227.2 284.0h0M1221.3 279.7h0M1227.6 286.6h0M1229.0 278.7h0M1221.7 273.7h0M1224.8 274.9h0M1232.8 279.3h0M1221.7 285.6h0M1224.7 271.8h0M1231.6 326.4h0M1221.1 319.6h0M1228.7 318.1h0M1232.9 317.3h0M1226.7 320.4h0M1223.5 321.3h0M1227.0 317.9h0M1230.8 317.4h0M1227.9 315.1h0M1230.1 313.5h0M1231.2 319.2h0M1234.2 316.0h0M1223.4 318.5h0M1225.1 324.6h0M1234.3 358.4h0M1221.8 359.6h0M1226.2 363.6h0M1233.5 356.2h0M1230.3 357.6h0M1224.3 356.4h0M1233.8 352.2h0M1225.6 354.8h0M1222.3 357.7h0M1223.5 351.6h0M1229.0 360.5h0M1228.5 355.1h0M1226.2 352.6h0M1234.5 360.2h0M1442.6 287.4h0M1440.0 287.8h0M1443.7 290.7h0M1445.2 283.1h0M1445.5 288.1h0M1436.8 280.5h0M1446.8 284.2h0M1448.0 289.0h0M1442.8 284.4h0M1451.1 281.9h0M1442.0 282.4h0M1448.5 284.8h0M1447.4 285.9h0M1450.8 280.0h0M1439.7 326.7h0M1439.0 318.4h0M1446.1 325.2h0M1441.4 316.7h0M1446.7 320.6h0M1442.0 326.9h0M1442.4 319.5h0M1451.2 323.5h0M1446.0 327.0h0M1447.9 326.5h0M1441.0 325.3h0M1444.3 327.6h0M1451.1 320.0h0M1447.7 324.5h0M1442.5 362.4h0M1440.8 364.3h0M1442.8 364.5h0M1446.3 357.7h0M1433.1 361.8h0M1444.6 360.5h0M1433.8 358.7h0M1442.5 356.3h0M1441.6 365.7h0M1441.6 360.5h0M1438.1 365.8h0M1443.5 353.1h0M1434.7 360.1h0M1439.6 352.3h0M1658.5 283.1h0M1661.3 281.0h0M1659.4 275.2h0M1655.6 276.8h0M1666.6 278.8h0M1666.6 281.5h0M1664.1 286.3h0M1662.4 283.4h0M1663.6 276.5h0M1653.2 284.3h0M1666.9 283.8h0M1663.4 274.2h0M1662.2 286.1h0M1658.1 288.7h0M1654.4 321.7h0M1658.9 319.0h0M1662.2 324.1h0M1662.7 321.9h0M1658.7 323.0h0M1657.0 323.9h0M1656.9 319.8h0M1665.6 315.8h0M1654.5 315.8h0M1655.4 317.2h0M1662.6 319.1h0M1654.6 319.4h0M1660.2 316.2h0M1666.9 317.5h0M1659.0 350.0h0M1657.5 360.4h0M1659.5 359.2h0M1663.7 352.8h0M1661.3 350.9h0M1663.1 348.4h0M1662.5 360.8h0M1666.0 357.5h0M1658.5 362.6h0M1653.4 352.4h0M1656.1 349.4h0M1655.3 357.1h0M1660.7 353.2h0M1653.5 354.2h0M1882.5 277.0h0M1877.0 278.6h0M1877.0 288.2h0M1875.1 286.0h0M1878.1 274.5h0M1878.5 283.7h0M1873.2 282.9h0M1875.5 276.1h0M1879.4 280.4h0M1882.9 279.6h0M1878.4 286.5h0M1886.2 283.8h0M1884.5 284.9h0M1875.0 283.2h0M1884.8 315.0h0M1873.7 318.8h0M1882.2 314.0h0M1883.9 313.2h0M1877.0 318.5h0M1881.1 327.3h0M1873.0 322.2h0M1882.0 321.9h0M1879.8 320.9h0M1878.6 316.3h0M1875.0 316.5h0M1876.6 313.9h0M1886.3 321.4h0M1875.3 320.2h0M1881.4 363.3h0M1881.9 349.4h0M1873.5 360.8h0M1879.3 360.7h0M1874.3 355.0h0M1876.5 352.4h0M1875.4 360.9h0M1885.1 360.0h0M1886.0 357.6h0M1877.5 358.4h0M1879.9 349.4h0M1872.1 357.0h0M1886.5 354.5h0M1883.1 355.2h0M1001.6 496.0h0M1003.5 493.6h0M1005.4 484.7h0M996.2 490.1h0M1009.9 488.6h0M1002.5 483.9h0M1007.3 490.3h0M996.9 493.7h0M999.1 492.6h0M1009.1 486.6h0M1006.1 488.8h0M1005.3 497.2h0M999.0 488.4h0M1001.4 489.4h0M1010.7 523.6h0M1008.8 526.3h0M1003.3 533.6h0M1003.7 521.0h0M1001.8 532.8h0M1005.7 520.6h0M1004.7 526.4h0M1008.2 534.4h0M1007.2 531.3h0M1010.2 531.2h0M1004.8 531.0h0M998.4 525.3h0M1002.3 524.2h0M1007.0 521.9h0M1002.7 562.1h0M1000.4 565.7h0M1005.5 571.2h0M1004.2 567.5h0M997.1 572.0h0M997.2 564.8h0M996.8 559.7h0M998.0 568.0h0M1005.8 567.8h0M1005.3 560.2h0M994.0 567.1h0M1007.9 563.9h0M996.9 569.8h0M1000.9 562.0h0M995.2 601.9h0M999.0 606.6h0M1005.9 606.0h0M1000.7 609.1h0M1002.1 602.0h0M996.7 608.2h0M1003.3 609.9h0M999.4 597.5h0M1007.8 602.3h0M995.2 605.2h0M1006.6 601.2h0M1000.4 599.4h0M998.1 600.9h0M1007.7 604.4h0M1221.6 525.2h0M1217.5 533.0h0M1223.9 527.2h0M1220.8 535.1h0M1220.3 528.6h0M1218.6 534.9h0M1217.1 527.3h0M1225.9 529.1h0M1225.8 527.4h0M1221.8 538.4h0M1219.0 527.5h0M1226.9 533.9h0M1224.1 532.5h0M1228.9 534.1h0M1650.1 491.2h0M1660.6 490.4h0M1648.7 493.5h0M1650.9 495.7h0M1658.3 495.5h0M1650.9 488.4h0M1657.6 485.0h0M1652.6 490.2h0M1655.1 484.7h0M1654.6 489.3h0M1657.6 498.1h0M1662.0 493.1h0M1656.1 494.5h0M1652.8 492.3h0M1658.0 533.3h0M1661.0 531.4h0M1653.1 528.6h0M1660.8 529.2h0M1651.4 531.0h0M1653.4 532.7h0M1659.4 524.6h0M1655.7 534.3h0M1656.3 531.4h0M1655.9 524.8h0M1659.1 528.8h0M1651.9 527.1h0M1658.0 535.6h0M1657.7 527.6h0M1657.7 561.7h0M1659.4 557.4h0M1658.0 559.4h0M1657.6 569.3h0M1653.9 564.4h0M1652.9 559.3h0M1657.6 567.6h0M1651.5 565.2h0M1651.2 562.9h0M1661.6 567.5h0M1654.4 568.8h0M1653.9 561.5h0M1661.1 563.3h0M1659.2 569.6h0M1661.7 596.8h0M1659.4 608.3h0M1656.0 595.6h0M1652.2 602.3h0M1656.7 598.5h0M1653.9 603.6h0M1663.9 600.2h0M1659.6 596.8h0M1662.8 605.1h0M1659.6 598.5h0M1652.7 599.6h0M1658.7 601.5h0M1652.7 597.7h0M1661.7 600.2h0M1880.3 497.3h0M1884.4 493.9h0M1885.5 495.1h0M1880.5 486.8h0M1878.4 487.8h0M1882.7 485.5h0M1888.1 493.0h0M1882.3 494.2h0M1886.0 490.5h0M1887.4 487.9h0M1881.1 491.5h0M1877.8 491.6h0M1886.8 498.0h0M1884.7 489.0h0M1889.9 533.9h0M1884.8 538.8h0M1887.3 529.9h0M1890.3 531.4h0M1881.9 535.1h0M1886.3 537.9h0M1887.6 536.7h0M1885.4 528.8h0M1882.1 528.9h0M1883.8 533.2h0M1880.8 526.5h0M1883.0 537.0h0M1877.2 529.4h0M1880.3 536.6h0M1883.1 568.5h0M1873.9 563.0h0M1879.4 572.3h0M1879.2 569.8h0M1877.1 567.7h0M1878.3 563.1h0M1875.0 565.4h0M1878.3 566.5h0M1881.6 560.3h0M1874.0 567.0h0M1883.7 562.4h0M1877.3 560.3h0M1873.5 570.6h0M1875.1 572.7h0M1875.6 605.9h0M1877.8 599.4h0M1873.8 599.5h0M1876.8 596.6h0M1878.8 596.0h0M1882.2 607.6h0M1872.6 604.1h0M1875.5 602.3h0M1884.6 604.4h0M1879.2 608.2h0M1875.5 599.1h0M1882.2 603.4h0M1884.9 599.8h0M1876.8 607.0h0" stroke="#8f9093" stroke-width="1.3"/>
<path d="M225.6 113.6h0M228.4 106.3h0M219.5 102.3h0M227.4 109.1h0M224.0 104.4h0M225.3 107.9h0M226.2 111.8h0M222.3 105.0h0M224.7 110.5h0M225.2 103.1h0M227.0 145.1h0M230.0 144.4h0M218.7 142.7h0M220.5 141.2h0M226.1 147.5h0M228.7 142.7h0M224.0 146.9h0M227.3 138.6h0M222.3 139.1h0M220.2 144.9h0M441.1 99.4h0M442.9 102.3h0M438.2 98.9h0M443.3 97.5h0M440.5 105.4h0M436.1 103.1h0M439.5 101.3h0M445.6 98.3h0M442.6 105.3h0M438.1 104.3h0M437.3 139.1h0M442.8 140.4h0M440.4 136.0h0M438.6 142.3h0M443.4 145.7h0M445.1 143.8h0M447.6 141.1h0M447.4 138.2h0M444.8 138.8h0M435.3 140.0h0M443.6 174.9h0M450.7 168.0h0M446.0 175.1h0M450.4 175.9h0M446.4 170.0h0M446.3 171.6h0M445.8 166.4h0M451.8 171.8h0M448.0 166.1h0M449.6 170.1h0M1001.4 62.0h0M1005.0 63.8h0M1012.2 62.3h0M1001.0 67.3h0M1000.9 70.1h0M1007.6 61.8h0M1008.6 60.5h0M1004.4 69.9h0M1004.2 61.9h0M1006.8 69.2h0M1001.1 102.7h0M1008.9 107.7h0M1000.1 100.6h0M998.4 103.2h0M1011.1 107.9h0M1012.2 104.2h0M1005.6 108.8h0M1002.3 98.4h0M1005.3 102.1h0M1007.0 96.9h0M1005.1 141.7h0M1008.8 136.8h0M1004.5 137.2h0M1001.3 136.9h0M1006.3 136.3h0M1000.8 139.9h0M997.4 144.3h0M998.2 138.6h0M1007.4 145.1h0M1002.5 143.8h0M1232.7 61.2h0M1231.0 67.6h0M1227.4 65.2h0M1228.2 59.0h0M1231.3 64.5h0M1234.1 66.8h0M1236.6 67.2h0M1227.4 69.1h0M1228.9 62.0h0M1235.8 58.0h0M1225.7 94.8h0M1235.0 99.6h0M1226.0 96.7h0M1230.8 106.3h0M1232.7 94.7h0M1229.2 100.5h0M1233.3 101.9h0M1233.9 107.2h0M1238.2 100.6h0M1224.0 98.1h0M1234.3 133.9h0M1228.7 142.9h0M1233.2 135.4h0M1231.7 139.0h0M1226.5 140.1h0M1226.5 131.1h0M1224.3 141.4h0M1222.7 136.6h0M1224.7 134.4h0M1234.6 136.5h0M1617.5 65.4h0M1619.3 68.8h0M1623.9 61.8h0M1625.7 62.3h0M1621.6 68.0h0M1626.2 66.7h0M1627.7 64.2h0M1625.9 59.7h0M1618.2 63.4h0M1628.4 61.7h0M1654.9 66.2h0M1652.3 70.6h0M1657.7 57.7h0M1656.1 59.8h0M1655.6 70.0h0M1651.6 68.7h0M1649.7 63.6h0M1651.5 56.7h0M1660.8 67.0h0M1648.4 65.4h0M1662.0 99.3h0M1651.8 100.5h0M1650.4 103.3h0M1657.0 99.2h0M1660.8 105.4h0M1655.3 101.2h0M1660.9 107.5h0M1659.1 105.8h0M1649.4 105.7h0M1656.8 96.5h0M1660.7 138.7h0M1659.8 144.3h0M1654.1 139.0h0M1654.1 134.7h0M1656.2 134.8h0M1659.0 145.9h0M1652.3 133.6h0M1652.6 148.1h0M1658.0 142.7h0M1658.4 134.7h0M1855.5 60.9h0M1846.8 65.9h0M1852.1 60.6h0M1855.2 66.8h0M1851.6 71.7h0M1855.4 62.7h0M1857.0 69.7h0M1851.5 65.2h0M1850.4 60.9h0M1849.2 70.3h0M1001.4 286.4h0M998.3 289.4h0M1003.2 288.5h0M997.6 286.9h0M995.9 289.7h0M994.0 282.4h0M994.3 278.3h0M1000.1 281.7h0M1005.2 287.0h0M996.1 291.6h0M1000.7 327.2h0M998.6 322.6h0M1003.5 319.7h0M1006.8 319.9h0M997.1 317.8h0M997.2 320.1h0M1002.9 314.7h0M1005.0 321.1h0M999.1 315.2h0M995.4 317.7h0M997.2 363.4h0M999.4 361.2h0M995.9 360.5h0M1001.2 359.8h0M1003.1 362.1h0M1000.1 355.1h0M994.6 351.5h0M994.7 362.0h0M1000.3 358.2h0M997.2 356.6h0M1232.2 279.7h0M1227.8 283.3h0M1220.7 283.0h0M1229.6 273.2h0M1225.3 284.6h0M1223.7 274.8h0M1219.4 281.8h0M1227.4 279.5h0M1229.4 278.5h0M1229.0 286.3h0M1229.5 318.6h0M1229.3 315.6h0M1231.7 317.1h0M1221.6 323.0h0M1232.9 326.9h0M1224.8 322.0h0M1223.2 325.9h0M1233.5 324.2h0M1231.7 325.1h0M1227.0 314.2h0M1229.9 352.6h0M1233.2 357.7h0M1225.8 355.2h0M1229.5 361.4h0M1225.9 352.9h0M1225.4 359.8h0M1230.3 364.2h0M1231.0 350.6h0M1227.8 352.3h0M1222.9 358.2h0M1443.5 280.1h0M1439.7 286.6h0M1440.0 279.0h0M1442.4 278.3h0M1444.5 283.0h0M1442.7 286.1h0M1447.4 287.4h0M1447.8 280.3h0M1440.2 281.6h0M1449.3 284.4h0M1445.9 325.0h0M1444.5 322.9h0M1445.0 318.1h0M1450.7 319.4h0M1447.3 315.4h0M1444.5 315.1h0M1449.4 318.4h0M1447.5 328.0h0M1446.0 329.0h0M1441.0 315.3h0M1433.1 361.3h0M1435.0 365.1h0M1441.6 354.9h0M1440.1 358.3h0M1436.0 356.2h0M1440.5 360.5h0M1441.4 363.2h0M1438.1 365.1h0M1440.7 365.9h0M1433.0 356.5h0M1658.1 274.1h0M1662.7 281.8h0M1665.6 276.9h0M1659.6 286.8h0M1657.9 286.4h0M1663.5 279.7h0M1655.4 286.0h0M1659.9 284.1h0M1666.1 286.1h0M1659.7 288.9h0M1655.2 320.7h0M1658.9 325.2h0M1659.0 316.6h0M1663.9 319.6h0M1666.8 323.5h0M1658.3 312.9h0M1660.6 321.0h0M1661.1 312.2h0M1663.3 324.6h0M1664.9 321.5h0M1660.1 353.1h0M1666.3 356.8h0M1667.2 353.8h0M1655.0 350.5h0M1662.6 359.3h0M1659.6 356.5h0M1653.5 353.0h0M1655.3 354.6h0M1653.1 355.5h0M1664.5 357.6h0M1875.0 286.2h0M1883.6 288.0h0M1882.0 286.3h0M1873.9 287.5h0M1873.1 283.2h0M1884.6 280.4h0M1872.9 285.4h0M1878.8 286.0h0M1885.6 282.9h0M1882.2 281.7h0M1879.1 319.6h0M1876.5 324.8h0M1881.3 317.9h0M1886.1 317.1h0M1873.3 321.5h0M1881.6 322.7h0M1877.2 322.3h0M1873.8 324.4h0M1883.0 314.2h0M1879.6 321.1h0M1875.7 358.8h0M1882.2 354.6h0M1885.3 359.7h0M1877.6 350.3h0M1878.2 360.6h0M1884.2 361.6h0M1881.6 360.0h0M1881.8 362.3h0M1880.8 352.9h0M1874.1 351.1h0M1007.3 485.5h0M1003.2 494.8h0M1008.1 495.3h0M1009.3 494.2h0M1009.6 490.4h0M998.4 489.0h0M1001.5 497.8h0M1001.4 485.5h0M997.7 493.7h0M1009.4 486.5h0M999.1 530.9h0M1005.4 529.4h0M999.7 527.0h0M1000.8 533.7h0M1012.0 528.1h0M1003.7 529.9h0M1010.0 523.3h0M1002.8 527.5h0M1007.2 533.8h0M1003.6 520.8h0M994.3 564.5h0M998.4 566.5h0M996.4 566.2h0M1004.3 564.1h0M997.3 559.8h0M1007.0 565.5h0M1000.2 562.3h0M1004.4 569.7h0M1002.8 566.4h0M997.8 572.1h0M995.9 603.9h0M996.8 607.9h0M1006.0 600.7h0M1002.3 599.7h0M1005.4 598.8h0M1007.1 603.3h0M998.7 596.1h0M1002.5 606.8h0M999.5 604.5h0M996.7 597.9h0M1227.3 537.5h0M1217.3 533.6h0M1227.2 530.1h0M1218.9 534.8h0M1221.6 531.5h0M1220.0 526.8h0M1225.0 527.1h0M1223.9 537.8h0M1225.8 536.0h0M1228.8 531.5h0M1650.1 497.4h0M1653.9 497.1h0M1654.0 498.9h0M1650.1 493.9h0M1651.8 495.4h0M1654.2 486.8h0M1657.3 495.4h0M1662.4 490.9h0M1650.0 492.3h0M1651.7 498.0h0M1653.0 525.9h0M1663.1 528.6h0M1661.5 530.2h0M1661.4 526.3h0M1655.9 529.0h0M1656.3 533.7h0M1659.5 527.9h0M1656.6 526.4h0M1663.2 530.2h0M1654.9 526.8h0M1657.0 566.0h0M1659.6 570.2h0M1658.3 567.9h0M1661.9 561.4h0M1660.0 566.2h0M1663.0 563.4h0M1659.3 560.6h0M1655.7 559.7h0M1661.7 567.8h0M1663.1 559.9h0M1663.5 604.9h0M1654.2 603.3h0M1660.3 599.8h0M1661.4 601.8h0M1663.9 603.2h0M1658.0 603.0h0M1661.0 597.6h0M1654.4 597.6h0M1659.0 594.7h0M1659.3 607.6h0M1889.5 494.2h0M1887.9 492.7h0M1884.2 491.2h0M1877.5 489.9h0M1884.6 485.6h0M1881.5 490.1h0M1880.7 492.2h0M1889.7 492.6h0M1886.5 496.7h0M1886.8 487.0h0M1881.6 530.6h0M1881.3 526.8h0M1883.2 529.5h0M1880.3 524.7h0M1888.2 528.9h0M1885.7 530.4h0M1882.2 534.1h0M1888.2 535.4h0M1876.6 528.6h0M1878.3 526.6h0M1879.6 566.3h0M1880.4 564.8h0M1883.5 565.6h0M1877.5 563.5h0M1874.0 564.4h0M1875.2 569.3h0M1876.5 565.2h0M1871.8 564.6h0M1881.8 568.1h0M1879.6 573.1h0M1879.8 609.2h0M1880.1 600.9h0M1874.9 600.2h0M1880.0 598.6h0M1882.2 603.7h0M1876.6 601.2h0M1885.2 605.9h0M1883.5 602.7h0M1882.9 599.3h0M1884.2 607.3h0" stroke="#b4b5b8" stroke-width="1.2"/>
<path d="M223.5 106.8h0M225.2 144.3h0M441.9 101.3h0M440.9 140.0h0M445.8 172.7h0M1006.0 66.5h0M1005.4 103.4h0M1003.4 139.5h0M1233.0 63.6h0M1231.8 100.4h0M1228.7 136.9h0M1621.6 64.1h0M1653.8 63.4h0M1655.9 102.4h0M1654.6 140.8h0M1851.6 64.3h0M998.9 284.7h0M1000.5 319.8h0M999.3 356.5h0M1225.7 279.4h0M1229.0 320.9h0M1227.5 356.6h0M1443.7 282.4h0M1444.6 321.7h0M1439.6 359.4h0M1659.9 281.6h0M1661.0 320.1h0M1660.1 354.8h0M1878.5 282.2h0M1880.4 319.1h0M1878.5 356.1h0M1003.0 491.1h0M1005.2 528.7h0M1000.2 565.8h0M1002.1 603.3h0M1222.7 531.8h0M1655.2 492.7h0M1656.7 529.5h0M1657.4 563.2h0M1657.9 601.9h0M1882.5 492.5h0M1884.0 531.9h0M1879.0 567.5h0M1878.6 603.2h0" stroke="#909194" stroke-width="5.2"/>
<path d="M224.3 107.1h0M224.3 145.0h0M442.7 100.7h0M441.1 139.3h0M445.9 173.0h0M1005.6 66.0h0M1006.0 103.8h0M1003.9 140.4h0M1232.3 63.1h0M1231.6 99.5h0M1228.1 137.1h0M1622.2 64.2h0M1654.5 64.0h0M1655.9 103.1h0M1655.2 141.3h0M1851.0 65.2h0M999.1 284.0h0M999.8 319.9h0M999.5 356.0h0M1225.9 279.1h0M1228.8 320.3h0M1227.5 357.0h0M1443.3 282.7h0M1444.1 322.0h0M1439.9 359.0h0M1660.7 281.6h0M1660.8 320.1h0M1659.9 354.8h0M1878.3 282.7h0M1879.9 320.2h0M1879.2 356.7h0M1003.2 491.2h0M1005.3 528.3h0M1000.9 566.5h0M1001.2 603.0h0M1223.2 531.9h0M1655.1 491.7h0M1656.9 530.1h0M1657.9 563.9h0M1658.4 602.3h0M1882.8 492.7h0M1883.8 530.8h0M1879.0 567.3h0M1879.2 603.3h0" stroke="#b6b7ba" stroke-width="2.4"/>
<path d="M289.3 115.8h0M291.9 105.4h0M292.2 111.8h0M288.1 114.1h0M292.5 100.9h0M293.3 103.5h0M285.2 110.6h0M291.4 107.7h0M295.8 109.7h0M291.9 114.2h0M1065.8 108.5h0M1073.7 101.1h0M1063.6 104.1h0M1061.1 107.1h0M1075.1 107.1h0M1066.8 111.5h0M1073.4 107.5h0M1069.2 99.4h0M1073.9 97.2h0M1072.0 101.1h0M1075.5 105.0h0M1064.2 108.1h0M1064.0 96.7h0M1067.0 106.2h0M1067.7 103.9h0M1060.7 105.4h0M1070.9 100.1h0M1068.3 109.7h0M1297.4 107.4h0M1295.3 98.7h0M1288.9 96.3h0M1294.5 110.5h0M1295.4 104.3h0M1298.8 106.6h0M1291.5 103.5h0M1293.3 97.1h0M1292.2 109.3h0M1289.7 103.5h0M1478.5 108.6h0M1479.2 97.3h0M1474.0 103.9h0M1477.7 98.7h0M1481.1 98.3h0M1474.6 100.1h0M1476.5 105.5h0M1472.9 94.5h0M1476.7 92.0h0M1485.2 103.4h0M1474.7 95.9h0M1730.0 101.3h0M1733.2 100.8h0M1718.5 104.8h0M1721.5 99.5h0M1725.9 101.0h0M1722.6 111.3h0M1718.8 108.3h0M1726.8 98.7h0M1727.5 109.4h0M1919.8 59.2h0M1915.3 56.4h0M1917.0 66.1h0M1904.1 62.3h0M1915.1 63.8h0M1909.9 60.5h0M1911.1 65.6h0M1908.5 67.7h0M1911.1 63.3h0M1913.7 56.2h0M1908.3 58.1h0M1911.3 58.6h0M1906.6 69.7h0M1906.1 65.0h0M1909.4 66.4h0M1910.2 68.0h0M1913.5 67.5h0M1919.9 62.9h0M1912.5 96.9h0M1918.7 94.3h0M1917.9 106.4h0M1910.6 106.9h0M1920.6 103.7h0M1911.1 93.3h0M1913.7 103.1h0M1917.7 101.4h0M1910.7 101.6h0M1916.2 103.8h0M1919.8 99.6h0M1065.0 329.7h0M1067.6 315.1h0M1064.6 325.7h0M1058.4 327.5h0M1059.4 325.6h0M1061.8 320.4h0M1057.4 319.4h0M1064.9 314.9h0M1060.3 319.7h0M1727.5 384.0h0M1732.9 391.9h0M1721.8 395.4h0M1728.9 394.1h0M1730.6 390.5h0M1726.6 395.7h0M1721.7 387.1h0M1720.2 393.0h0M1725.3 394.2h0M1728.4 390.8h0M1730.1 386.8h0M1941.9 283.6h0M1944.4 291.2h0M1946.1 284.2h0M1944.2 279.6h0M1945.1 294.6h0M1950.6 293.1h0M1952.5 289.9h0M1950.7 288.0h0M1948.9 285.1h0M1943.7 286.1h0M1907.8 390.5h0M1900.8 386.6h0M1903.2 399.8h0M1915.3 395.2h0M1904.6 400.7h0M1908.4 384.1h0M1915.1 388.3h0M1913.5 393.0h0M1913.8 396.2h0M1906.3 385.0h0M1901.3 397.4h0M1912.2 400.1h0M1910.9 391.0h0M1907.9 393.2h0M1908.6 387.1h0M1907.1 400.3h0M1908.3 395.2h0M1911.4 385.9h0M1905.7 386.5h0M1914.0 398.8h0M1908.7 396.9h0M1946.0 393.3h0M1933.3 393.8h0M1935.9 402.3h0M1935.5 391.5h0M1934.1 401.7h0M1946.0 399.7h0M1946.7 398.1h0M1949.3 493.9h0M1936.7 490.8h0M1939.5 488.7h0M1938.5 495.9h0M1942.2 486.5h0M1941.6 496.9h0M1939.9 496.7h0M1936.3 492.9h0M1949.9 491.5h0M1947.2 486.2h0M1935.6 488.7h0M1939.1 490.5h0M1941.6 491.2h0M1940.8 534.4h0M1946.3 532.4h0M1951.2 531.6h0M1950.5 528.7h0M1938.8 531.9h0M1949.0 525.9h0M1950.1 533.6h0M1938.6 522.2h0M1940.6 537.2h0M1938.8 558.3h0M1942.0 566.6h0M1938.0 564.1h0M1937.5 561.7h0M1945.6 566.6h0M1936.2 559.1h0M1934.5 559.4h0M1934.8 557.4h0M1941.4 570.4h0M1939.7 567.1h0M1931.2 563.5h0M1932.1 561.8h0M1934.1 566.1h0M1939.8 607.1h0M1934.9 594.4h0M1946.9 602.1h0M1939.1 603.6h0M1938.6 595.4h0M1936.7 607.0h0M1941.4 603.4h0M1935.5 599.6h0M1943.1 593.4h0M1937.2 596.4h0M1940.8 604.9h0M1941.4 599.4h0M1939.8 597.8h0M1938.2 605.9h0" stroke="#c0c1c4" stroke-width="1.8"/>
<path d="M294.1 113.2h0M297.2 106.0h0M287.3 102.4h0M287.2 110.4h0M295.0 106.9h0M289.0 104.5h0M290.1 110.8h0M298.5 108.7h0M295.1 111.3h0M282.6 109.7h0M287.0 111.9h0M285.3 115.0h0M281.9 106.8h0M1073.9 104.1h0M1064.2 95.2h0M1064.5 99.4h0M1070.4 106.7h0M1076.6 101.9h0M1071.2 98.1h0M1062.7 109.1h0M1060.3 99.0h0M1067.8 94.6h0M1060.3 102.0h0M1298.6 109.3h0M1296.2 97.0h0M1292.6 105.6h0M1295.0 95.4h0M1299.0 100.8h0M1298.9 97.7h0M1294.0 108.8h0M1298.0 99.5h0M1290.6 101.9h0M1300.2 105.8h0M1472.4 106.7h0M1473.5 96.9h0M1476.9 101.7h0M1486.3 101.9h0M1480.3 101.6h0M1484.5 99.9h0M1482.2 94.9h0M1482.4 103.4h0M1475.5 94.3h0M1483.4 106.1h0M1481.5 100.5h0M1719.3 102.3h0M1725.0 105.0h0M1728.7 99.7h0M1722.9 103.3h0M1731.7 102.9h0M1729.8 106.2h0M1719.6 106.6h0M1721.7 106.1h0M1718.2 99.6h0M1724.5 103.5h0M1722.3 100.8h0M1723.1 95.1h0M1725.7 109.1h0M1733.9 106.0h0M1723.4 106.8h0M1904.5 65.9h0M1911.4 60.2h0M1920.3 60.8h0M1912.8 71.0h0M1906.7 61.9h0M1918.1 67.9h0M1915.4 67.1h0M1917.7 57.2h0M1905.2 63.5h0M1916.1 68.8h0M1907.4 66.3h0M1914.2 61.0h0M1918.4 60.1h0M1914.4 70.9h0M1906.9 59.7h0M1916.5 59.4h0M1910.9 103.2h0M1920.3 95.1h0M1916.0 107.8h0M1918.0 103.2h0M1906.8 96.7h0M1921.3 98.4h0M1914.8 96.3h0M1905.9 100.3h0M1913.8 92.3h0M1914.7 105.3h0M1909.1 99.6h0M1911.8 95.6h0M1916.2 98.4h0M1914.2 94.2h0M1065.5 323.2h0M1063.5 322.0h0M1067.9 322.4h0M1060.5 317.4h0M1066.4 325.8h0M1062.1 317.0h0M1057.5 317.4h0M1064.1 318.9h0M1066.0 320.2h0M1066.5 327.6h0M1063.0 314.0h0M1057.8 325.1h0M1054.3 321.2h0M1061.1 328.1h0M1060.0 323.1h0M1068.8 318.3h0M1064.4 327.3h0M1720.0 389.8h0M1731.9 389.6h0M1724.1 392.2h0M1720.6 385.8h0M1733.8 393.3h0M1734.4 391.4h0M1721.9 393.4h0M1724.3 383.6h0M1731.4 385.4h0M1725.1 386.5h0M1724.7 396.8h0M1721.7 388.6h0M1950.0 283.3h0M1945.1 282.3h0M1942.7 281.5h0M1936.3 286.2h0M1947.3 279.4h0M1952.1 283.7h0M1949.8 280.1h0M1943.2 289.0h0M1947.3 292.5h0M1910.2 392.8h0M1899.1 396.6h0M1915.2 390.3h0M1901.1 393.1h0M1913.3 387.5h0M1910.6 384.4h0M1898.7 390.6h0M1910.1 387.3h0M1902.6 396.3h0M1898.6 394.8h0M1906.2 396.8h0M1900.5 391.6h0M1904.4 398.5h0M1902.3 385.2h0M1915.6 392.2h0M1939.2 397.2h0M1931.8 394.8h0M1940.3 388.7h0M1938.1 393.5h0M1933.7 396.7h0M1940.9 402.8h0M1940.8 394.0h0M1934.1 398.8h0M1937.5 399.9h0M1940.4 401.1h0M1945.8 497.5h0M1946.9 495.9h0M1936.6 496.0h0M1944.1 486.8h0M1948.4 492.5h0M1943.9 500.7h0M1939.6 485.6h0M1945.4 490.7h0M1948.8 490.3h0M1945.5 486.2h0M1943.3 484.3h0M1941.8 500.3h0M1946.5 524.9h0M1941.0 523.7h0M1944.2 535.6h0M1941.3 521.3h0M1936.5 529.3h0M1946.2 521.9h0M1939.1 524.9h0M1949.5 527.3h0M1948.8 532.8h0M1934.6 530.0h0M1948.7 523.5h0M1939.1 528.5h0M1935.8 533.4h0M1943.0 520.6h0M1939.5 570.8h0M1936.5 564.9h0M1942.1 569.0h0M1942.9 563.1h0M1944.2 568.5h0M1939.9 560.0h0M1941.8 561.7h0M1937.6 566.9h0M1933.6 564.3h0M1942.2 554.8h0M1934.4 601.8h0M1945.0 600.0h0M1936.1 601.7h0M1933.7 597.9h0M1941.0 595.3h0M1945.7 594.9h0M1940.2 600.7h0M1944.1 596.8h0" stroke="#c0c1c4" stroke-width="1.5"/>
<path d="M288.9 107.8h0M294.7 115.1h0M284.4 106.2h0M290.1 112.8h0M295.7 103.3h0M281.0 108.7h0M288.5 109.5h0M285.9 113.0h0M294.1 108.6h0M287.1 116.7h0M291.4 109.5h0M283.5 111.7h0M282.1 112.9h0M1068.3 107.6h0M1065.8 97.4h0M1071.2 102.8h0M1072.6 105.3h0M1073.3 99.3h0M1068.9 104.9h0M1063.1 110.7h0M1064.4 106.3h0M1061.6 100.9h0M1065.5 101.8h0M1298.0 103.6h0M1295.1 107.0h0M1285.7 106.2h0M1293.5 102.3h0M1285.8 98.2h0M1291.0 96.8h0M1290.7 106.1h0M1289.1 98.2h0M1289.0 108.5h0M1288.8 106.2h0M1293.9 100.2h0M1295.8 102.0h0M1284.6 100.6h0M1290.6 98.5h0M1296.4 108.8h0M1478.4 92.6h0M1471.5 102.2h0M1478.3 94.8h0M1477.5 107.5h0M1471.6 105.0h0M1486.6 99.9h0M1475.4 102.9h0M1472.6 100.8h0M1482.8 101.5h0M1476.4 95.9h0M1485.6 98.6h0M1480.6 92.9h0M1474.3 107.4h0M1728.6 107.8h0M1721.2 96.8h0M1723.5 97.6h0M1725.0 111.4h0M1729.7 109.4h0M1726.7 107.0h0M1719.7 100.7h0M1722.6 108.5h0M1731.5 98.7h0M1725.2 106.9h0M1724.7 99.0h0M1911.7 68.7h0M1910.6 70.5h0M1912.9 60.3h0M1915.0 59.7h0M1919.5 64.8h0M1917.1 62.6h0M1908.3 61.9h0M1916.8 70.6h0M1908.6 71.0h0M1916.0 57.8h0M1913.2 65.6h0M1911.7 56.9h0M1905.4 61.1h0M1909.0 69.5h0M1907.0 63.6h0M1913.8 58.4h0M1913.1 63.3h0M1917.1 99.7h0M1909.2 97.1h0M1910.9 99.9h0M1913.1 99.9h0M1908.9 94.5h0M1914.3 101.2h0M1919.2 104.7h0M1907.0 104.0h0M1058.8 320.9h0M1058.5 323.0h0M1058.8 330.2h0M1062.8 324.1h0M1062.6 327.6h0M1059.1 314.4h0M1061.8 329.7h0M1057.1 329.0h0M1055.6 325.0h0M1059.2 318.3h0M1727.1 391.6h0M1731.1 395.3h0M1719.3 391.9h0M1726.4 389.7h0M1724.1 390.2h0M1947.8 288.2h0M1938.3 292.4h0M1945.3 289.5h0M1941.9 286.4h0M1949.3 289.3h0M1945.9 291.5h0M1941.4 278.9h0M1937.4 284.2h0M1951.5 291.4h0M1939.8 282.4h0M1939.5 286.6h0M1941.2 293.4h0M1940.7 295.0h0M1941.1 290.8h0M1936.4 289.9h0M1940.3 285.1h0M1947.3 290.7h0M1943.7 293.2h0M1912.5 389.8h0M1904.3 391.1h0M1899.4 388.9h0M1901.8 389.9h0M1903.6 389.2h0M1910.3 389.5h0M1910.3 396.8h0M1902.3 394.8h0M1904.5 392.6h0M1910.5 401.1h0M1903.5 386.4h0M1905.8 390.4h0M1901.0 388.3h0M1906.4 398.7h0M1909.0 399.1h0M1906.0 395.2h0M1911.8 395.6h0M1905.9 402.2h0M1898.3 393.0h0M1911.7 392.5h0M1942.7 402.0h0M1940.6 398.0h0M1937.4 388.8h0M1947.3 395.9h0M1943.1 393.2h0M1943.6 391.0h0M1939.3 391.4h0M1936.3 397.5h0M1935.3 395.8h0M1945.0 398.3h0M1939.0 402.2h0M1944.6 402.3h0M1946.2 394.8h0M1949.7 495.3h0M1937.2 488.3h0M1943.4 498.0h0M1948.2 488.5h0M1947.0 491.6h0M1946.9 498.7h0M1948.3 496.9h0M1943.3 490.4h0M1936.5 524.3h0M1947.7 535.4h0M1939.7 526.5h0M1939.6 535.5h0M1942.1 533.4h0M1940.0 530.1h0M1945.9 528.6h0M1941.4 532.0h0M1946.5 537.2h0M1942.6 522.7h0M1947.4 526.4h0M1944.8 537.7h0M1935.9 567.5h0M1946.9 559.5h0M1936.2 570.5h0M1940.4 557.4h0M1945.9 562.0h0M1937.0 555.0h0M1945.6 564.6h0M1944.5 559.0h0M1941.7 556.2h0M1935.6 562.4h0M1938.4 568.4h0M1942.4 558.3h0M1946.9 596.4h0M1937.0 603.5h0M1943.1 599.0h0M1935.8 592.7h0M1943.2 601.1h0M1935.3 605.9h0M1940.7 593.6h0M1944.4 605.7h0M1932.1 599.3h0" stroke="#c0c1c4" stroke-width="2"/>
<path d="M329.9 110.4h0M1109.7 111.3h0M1114.4 112.7h0M1334.0 104.2h0M1518.1 96.1h0M1518.2 107.2h0M1510.8 96.4h0M1507.3 100.0h0M1519.3 104.3h0M1521.2 101.1h0M1514.2 92.6h0M1544.4 93.2h0M1756.9 104.0h0M1763.0 102.1h0M1939.7 68.9h0M1942.1 70.0h0M1951.0 66.2h0M1947.0 68.8h0M1937.6 68.8h0M1950.3 71.3h0M1945.8 71.0h0M1947.1 110.7h0M1950.8 101.3h0M1949.8 109.1h0M1940.1 106.1h0M1939.6 102.0h0M1978.6 105.1h0M1095.7 317.9h0M1094.0 326.2h0M1104.2 318.1h0M1099.8 324.9h0M1090.1 317.1h0M1095.1 322.9h0M1100.4 317.1h0M1754.3 393.1h0M1759.2 393.6h0M1977.3 390.5h0M1980.2 395.5h0M1976.6 396.3h0M1976.2 393.1h0M1765.1 597.0h0M1761.4 600.8h0M1766.6 599.9h0M1766.5 602.9h0" stroke="#c2c3c6" stroke-width="1.7"/>
<path d="M328.6 105.0h0M323.0 102.1h0M327.6 108.9h0M323.0 104.3h0M327.1 113.7h0M1110.4 99.2h0M1108.4 101.2h0M1114.2 102.9h0M1333.8 106.7h0M1333.1 108.6h0M1519.4 98.0h0M1511.6 103.4h0M1513.7 102.9h0M1509.6 104.3h0M1510.0 102.5h0M1542.3 97.0h0M1548.3 104.0h0M1541.1 103.1h0M1551.3 101.2h0M1755.5 99.2h0M1763.7 106.7h0M1947.0 64.9h0M1942.1 103.5h0M1945.2 97.7h0M1948.4 100.0h0M1948.1 103.7h0M1951.8 97.5h0M1946.9 97.8h0M1944.1 102.5h0M1984.8 105.7h0M1097.9 326.7h0M1095.1 325.0h0M1102.5 317.4h0M1098.5 319.9h0M1091.7 323.7h0M1099.9 321.1h0M1104.1 323.7h0M1106.3 319.2h0M1093.3 314.6h0M1098.4 315.2h0M1757.2 390.6h0M1972.2 397.7h0M1974.7 387.5h0M1759.9 603.4h0M1758.3 596.6h0M1757.0 593.9h0" stroke="#c2c3c6" stroke-width="2"/>
<path d="M324.3 100.4h0M322.5 109.5h0M1115.6 110.1h0M1117.5 106.7h0M1107.5 108.6h0M1114.0 105.6h0M1329.9 101.1h0M1327.7 107.8h0M1518.6 101.4h0M1522.7 98.1h0M1513.6 106.4h0M1520.5 103.2h0M1540.6 95.4h0M1548.0 94.2h0M1547.5 102.2h0M1756.5 108.9h0M1766.4 107.1h0M1766.9 100.4h0M1761.4 109.0h0M1936.7 70.4h0M1943.7 76.0h0M1939.5 62.8h0M1947.4 72.6h0M1947.4 74.4h0M1938.6 64.5h0M1944.5 67.8h0M1940.8 61.7h0M1941.9 101.3h0M1943.5 105.0h0M1947.6 107.0h0M1944.7 106.1h0M1981.2 101.1h0M1977.7 107.5h0M1979.3 98.8h0M1975.9 99.5h0M1984.5 98.7h0M1092.5 317.6h0M1099.7 311.0h0M1093.4 312.1h0M1756.8 385.6h0M1761.2 388.7h0M1969.3 396.9h0M1971.7 390.4h0M1760.2 594.7h0M1755.6 600.2h0M1768.7 600.3h0M1763.8 598.2h0M1756.0 598.3h0M1762.6 605.3h0" stroke="#c2c3c6" stroke-width="1.4"/>
<path d="M354.9 101.7h0M357.7 107.1h0M358.0 98.3h0M357.3 101.8h0M353.4 98.6h0M355.0 107.6h0M355.1 99.0h0M351.2 101.6h0M352.7 102.7h0M351.2 105.5h0M351.8 98.7h0M1071.6 177.3h0M1070.1 176.0h0M1067.9 175.9h0M1069.9 181.4h0M1061.0 175.6h0M1068.7 172.2h0M1072.5 175.5h0M1069.3 178.9h0M1062.8 172.3h0M1072.0 179.0h0M1062.1 176.9h0M1064.7 177.8h0M1065.8 179.1h0M1069.7 174.3h0M1282.0 172.7h0M1287.4 177.5h0M1290.7 181.8h0M1293.2 180.0h0M1290.0 178.8h0M1284.6 174.1h0M1294.1 175.9h0M1285.1 172.7h0M1287.9 180.8h0M1288.2 182.2h0M1281.1 177.4h0M1286.1 174.8h0M1284.7 182.4h0M1286.7 172.7h0M1474.9 170.6h0M1482.4 176.4h0M1477.1 179.2h0M1479.0 178.3h0M1474.7 172.5h0M1479.8 174.6h0M1478.4 176.1h0M1480.4 172.7h0M1476.7 170.6h0M1478.5 171.8h0M1763.7 177.6h0M1764.0 176.0h0M1761.5 176.7h0M1765.6 177.3h0M1910.0 174.6h0M1917.2 169.4h0M1917.2 172.8h0M1916.1 174.7h0M1909.8 169.5h0M1911.6 173.1h0M1911.5 170.4h0M1916.4 170.7h0M1061.3 391.2h0M1060.1 391.8h0M1063.9 390.8h0M1064.4 400.1h0M1059.3 399.5h0M1060.6 397.6h0M1064.7 397.8h0M1062.3 389.5h0M1064.5 394.3h0M1067.3 394.6h0M1293.4 388.9h0M1296.7 390.8h0M1300.2 390.3h0M1301.0 397.3h0M1299.8 392.7h0M1290.0 393.4h0M1293.6 392.8h0M1294.4 394.9h0M1295.1 397.7h0M1298.6 393.6h0M1540.8 394.9h0M1542.5 392.3h0M1539.9 388.2h0M1536.0 391.7h0M1538.9 394.5h0M1538.1 390.3h0M1543.9 391.2h0" stroke="#7d7e82" stroke-width="1.2"/>
<path d="M192.1 177.8h0M194.0 176.0h0M191.3 182.2h0M188.9 180.5h0M196.0 180.7h0M199.0 174.0h0M201.7 177.7h0M196.9 179.2h0M966.4 173.2h0M969.7 172.0h0M969.4 181.0h0M971.8 182.5h0M969.6 184.6h0M971.1 174.4h0M970.9 176.5h0M963.8 174.0h0M1188.6 173.2h0M1192.7 181.0h0M1192.7 179.3h0M1188.0 179.0h0M1192.2 173.7h0M1198.3 172.8h0M1195.0 178.9h0M1189.2 177.7h0M1412.8 172.0h0M1402.6 174.6h0M1411.4 176.2h0M1402.5 178.1h0M1403.4 176.4h0M1404.3 181.1h0M1406.9 177.7h0M1408.6 181.8h0M1621.2 177.3h0M1621.8 186.2h0M1626.8 181.4h0M1626.2 183.7h0M1615.9 179.0h0M1622.8 182.1h0M1622.8 173.9h0M1620.3 179.3h0M1839.0 168.1h0M1838.0 173.1h0M1840.8 177.0h0M1847.4 173.3h0M1843.3 175.1h0M1840.1 174.2h0M1845.0 169.0h0M1848.3 171.9h0M971.4 393.5h0M976.1 388.3h0M964.6 391.2h0M976.2 391.4h0M972.0 392.0h0M965.7 396.4h0M974.5 392.8h0M970.5 389.8h0" stroke="#808184" stroke-width="1.3"/>
<path d="M227.9 178.9h0M224.0 175.9h0M226.0 185.8h0M224.8 172.1h0M219.8 177.5h0M230.0 176.8h0M222.8 183.1h0M226.1 182.4h0M217.5 176.4h0M222.9 181.7h0M226.6 178.6h0M229.7 173.9h0M227.2 172.0h0M222.8 175.8h0M220.6 172.7h0M233.3 177.5h0M218.7 176.8h0M228.0 186.1h0M230.8 175.2h0M227.0 184.0h0M218.3 181.2h0M227.1 180.5h0M223.5 171.3h0M217.9 178.8h0M220.7 183.4h0M225.6 174.6h0M230.0 178.3h0M231.3 180.7h0M224.0 173.2h0M230.4 183.8h0M231.6 176.3h0M229.0 185.3h0M222.4 180.1h0M1026.0 181.7h0M1029.5 176.1h0M1027.9 183.0h0M1033.3 183.6h0M1038.6 183.3h0M1036.3 174.3h0M1031.5 175.9h0M1027.7 177.7h0M1037.4 184.1h0M1036.2 176.4h0M1025.5 174.7h0M1035.3 172.1h0M1039.7 173.7h0M1039.4 175.0h0M1028.2 180.9h0M1030.1 173.7h0M1039.9 180.3h0M1035.5 178.3h0M1031.5 182.9h0M1032.0 178.3h0M1028.1 179.5h0M1034.8 173.3h0M1032.9 185.6h0M1040.7 175.8h0M1038.9 176.6h0M1029.2 177.3h0M1036.3 181.4h0M1037.0 173.2h0M1033.0 181.4h0M1034.2 179.4h0M1034.3 181.9h0M1031.2 180.0h0M1036.1 170.3h0M1037.2 177.9h0M1256.3 170.4h0M1257.1 176.0h0M1250.2 182.4h0M1255.6 180.4h0M1249.1 176.4h0M1259.0 174.4h0M1247.7 181.4h0M1259.0 180.8h0M1258.0 179.3h0M1258.6 169.6h0M1253.1 179.7h0M1249.7 172.2h0M1247.7 175.0h0M1255.9 173.2h0M1252.5 174.5h0M1257.6 181.9h0M1252.7 177.4h0M1249.3 173.4h0M1254.5 170.5h0M1247.5 179.7h0M1257.2 169.6h0M1252.5 171.4h0M1253.9 176.9h0M1255.1 183.1h0M1248.1 173.8h0M1251.5 179.6h0M1253.7 181.4h0M1255.8 177.6h0M1254.1 173.8h0M1247.4 178.3h0M1255.6 179.2h0M1246.3 175.8h0M1249.6 177.8h0M1259.7 170.2h0M1446.3 176.7h0M1442.3 174.8h0M1446.4 179.9h0M1439.4 185.7h0M1445.2 175.1h0M1440.4 174.0h0M1444.5 173.9h0M1433.3 181.5h0M1435.5 173.3h0M1435.0 175.0h0M1442.3 170.8h0M1441.6 177.7h0M1437.6 170.3h0M1447.1 174.6h0M1438.0 184.1h0M1432.3 179.8h0M1436.0 179.7h0M1444.8 180.7h0M1434.2 173.0h0M1444.2 176.7h0M1441.2 170.0h0M1439.0 179.1h0M1438.5 174.5h0M1433.8 174.5h0M1439.3 177.1h0M1437.1 172.8h0M1442.4 180.3h0M1444.4 183.3h0M1437.4 177.7h0M1436.5 181.3h0M1436.3 182.6h0M1434.0 179.0h0M1441.9 185.2h0M1443.3 181.7h0M1681.9 175.1h0M1683.8 173.3h0M1686.2 185.1h0M1695.4 178.2h0M1687.0 177.5h0M1685.2 180.5h0M1691.2 180.3h0M1688.9 175.0h0M1683.6 179.3h0M1691.8 183.5h0M1688.6 183.5h0M1681.7 176.3h0M1690.4 175.8h0M1688.1 172.7h0M1691.4 171.7h0M1689.8 184.7h0M1680.4 177.5h0M1695.7 175.4h0M1681.2 178.4h0M1693.8 177.8h0M1691.4 177.9h0M1694.0 175.1h0M1686.1 181.9h0M1685.7 178.8h0M1684.4 182.2h0M1688.4 180.1h0M1681.7 181.4h0M1687.2 179.7h0M1693.7 181.5h0M1693.4 176.3h0M1031.8 393.9h0M1026.6 390.9h0M1024.4 389.3h0M1028.3 401.8h0M1026.9 387.9h0M1026.9 399.5h0M1039.0 391.2h0M1038.4 395.9h0M1032.2 400.7h0M1024.0 390.9h0M1034.2 398.3h0M1024.7 399.2h0M1034.4 389.3h0M1035.6 388.8h0M1030.1 400.3h0M1029.4 391.4h0M1039.7 396.8h0M1035.7 401.3h0M1034.2 395.5h0M1033.0 397.8h0M1028.5 396.0h0M1035.9 392.7h0M1031.2 397.1h0M1030.3 395.4h0M1026.6 389.1h0M1025.0 393.8h0M1033.6 402.4h0M1040.4 392.5h0M1032.9 392.4h0M1031.6 403.6h0M1033.7 393.6h0M1040.3 394.5h0M1038.0 400.2h0M1032.0 399.1h0M1032.2 386.8h0M1025.3 391.0h0M1028.4 388.1h0M1027.2 386.3h0M1026.2 393.2h0M1037.5 390.8h0M1029.0 397.7h0M1037.8 392.8h0M1037.3 389.5h0" stroke="#88898c" stroke-width="1.2"/>
<path d="M260.4 180.3h0M285.4 174.7h0" stroke="#d0d1d3" stroke-width="3.4"/>
<path d="M1006.1 171.0h0M999.6 172.0h0M1004.2 185.8h0M996.8 173.2h0M1002.6 173.0h0M1006.4 184.1h0M1004.1 169.4h0M999.7 170.6h0M1005.8 178.7h0M995.7 178.9h0M1009.7 176.0h0M1002.3 175.5h0M1008.1 176.7h0M996.5 180.4h0M1002.4 176.7h0M1004.3 174.4h0M1003.7 180.1h0M994.3 175.1h0M996.8 178.8h0M996.3 171.9h0M1000.2 184.9h0M1008.3 173.3h0M999.3 180.7h0M1009.0 177.9h0M1001.4 171.7h0M1010.3 174.0h0M1006.1 180.8h0M998.0 183.2h0M1003.6 183.4h0M1000.1 179.3h0M997.9 169.6h0M1002.3 170.3h0M1000.6 168.8h0M998.9 176.0h0M1007.0 172.3h0M1005.2 173.1h0M1003.8 175.7h0M1003.1 182.0h0M1008.5 174.8h0M1000.3 178.0h0M1001.9 178.6h0M1011.2 177.6h0M998.2 173.2h0M1010.4 172.7h0M997.8 177.8h0M995.5 175.5h0M1000.3 183.1h0M995.5 172.6h0M1009.7 182.7h0M1011.8 176.4h0M998.2 179.4h0M994.3 177.6h0M1004.8 168.5h0M1007.5 170.4h0M1002.4 183.5h0M999.1 182.1h0M1010.9 175.2h0M1004.8 182.4h0M1004.9 170.9h0M1011.4 179.1h0M998.8 177.3h0M1009.5 171.0h0M998.4 174.4h0M1002.6 169.1h0M996.2 181.8h0M1228.6 179.0h0M1226.0 170.1h0M1227.0 168.7h0M1230.8 176.8h0M1224.3 175.5h0M1233.8 172.5h0M1221.4 169.4h0M1229.7 169.8h0M1218.9 173.0h0M1223.7 173.7h0M1226.0 165.4h0M1232.1 181.0h0M1222.9 167.3h0M1224.2 179.6h0M1234.3 174.2h0M1222.6 171.1h0M1233.2 175.2h0M1231.8 168.7h0M1222.1 177.2h0M1224.8 168.6h0M1232.5 177.3h0M1227.5 173.1h0M1224.7 171.0h0M1222.5 179.4h0M1224.0 176.9h0M1231.1 167.7h0M1231.0 179.4h0M1218.5 171.3h0M1232.4 178.8h0M1227.1 165.7h0M1227.0 181.8h0M1226.3 177.4h0M1229.3 176.6h0M1217.8 174.9h0M1225.1 177.3h0M1221.1 178.6h0M1233.8 179.2h0M1234.3 171.4h0M1228.1 175.8h0M1230.9 169.5h0M1221.8 175.3h0M1226.1 166.9h0M1223.1 174.9h0M1229.3 167.1h0M1234.5 176.8h0M1219.2 175.4h0M1223.9 171.9h0M1231.3 170.7h0M1230.6 175.1h0M1220.6 174.5h0M1229.4 172.4h0M1223.4 168.4h0M1230.7 178.0h0M1227.6 171.3h0M1224.4 167.3h0M1226.5 175.1h0M1227.1 174.1h0M1219.9 171.3h0M1226.2 182.9h0M1224.7 166.0h0M1231.0 172.2h0M1224.8 181.8h0M1225.4 175.8h0M1235.1 172.3h0M1224.5 169.7h0M1656.0 184.4h0M1651.7 186.0h0M1661.1 181.3h0M1659.2 183.9h0M1651.4 179.5h0M1653.4 184.6h0M1650.4 180.3h0M1657.9 186.2h0M1660.4 173.8h0M1650.2 174.6h0M1657.2 171.8h0M1655.2 182.4h0M1657.4 183.1h0M1647.6 183.2h0M1656.6 187.3h0M1662.6 175.1h0M1656.4 177.2h0M1658.1 172.5h0M1651.8 181.7h0M1650.8 183.7h0M1646.4 179.9h0M1658.6 174.6h0M1651.4 175.8h0M1657.0 175.8h0M1659.0 179.0h0M1656.3 174.5h0M1656.6 182.0h0M1647.8 177.6h0M1659.6 172.2h0M1659.0 185.0h0M1658.2 177.7h0M1660.3 185.5h0M1648.9 184.0h0M1661.0 175.1h0M1659.9 181.3h0M1662.1 176.2h0M1653.8 183.1h0M1652.8 182.6h0M1650.5 172.2h0M1658.4 182.6h0M1652.1 177.5h0M1647.9 179.0h0M1650.0 177.7h0M1648.9 180.2h0M1652.4 176.4h0M1660.2 179.3h0M1654.1 175.2h0M1657.5 185.1h0M1653.2 174.4h0M1658.9 173.4h0M1649.2 173.0h0M1651.3 174.3h0M1658.4 176.4h0M1662.9 177.0h0M1657.4 174.3h0M1662.8 182.0h0M1654.1 171.1h0M1649.8 182.7h0M1655.3 179.6h0M1648.8 177.1h0M1654.1 173.6h0M1653.7 178.9h0M1880.2 171.1h0M1878.5 165.5h0M1872.2 171.7h0M1877.2 166.0h0M1880.1 167.6h0M1882.6 175.4h0M1879.7 176.8h0M1871.3 173.2h0M1875.2 169.3h0M1871.5 178.7h0M1878.2 178.4h0M1877.4 176.8h0M1869.7 171.3h0M1874.9 166.2h0M1874.7 179.2h0M1881.5 172.5h0M1876.6 179.0h0M1870.4 175.6h0M1876.3 167.6h0M1881.7 169.0h0M1874.6 171.5h0M1876.3 165.0h0M1870.4 177.3h0M1871.9 177.0h0M1871.6 174.5h0M1874.8 167.8h0M1878.0 168.5h0M1877.9 171.3h0M1870.2 174.2h0M1871.1 168.4h0M1872.0 167.3h0M1876.6 172.6h0M1874.0 169.5h0M1875.9 173.8h0M1879.1 171.8h0M1873.5 177.4h0M1877.5 180.3h0M1875.1 180.6h0M1872.5 175.2h0M1875.6 175.1h0M1868.5 174.5h0M1879.8 180.1h0M1872.1 166.2h0M1880.9 174.6h0M1872.7 168.3h0M1877.3 169.8h0M1878.4 173.5h0M1876.5 177.6h0M1872.7 173.7h0M1877.5 174.4h0M1874.4 173.9h0M1869.4 169.3h0M1879.9 166.4h0M1883.3 171.3h0M1005.1 387.3h0M1005.9 394.9h0M996.8 394.7h0M1007.2 394.6h0M999.4 388.7h0M997.7 399.2h0M1006.6 385.6h0M995.3 385.0h0M1004.9 389.6h0M995.3 391.8h0M999.8 384.7h0M999.0 391.8h0M1004.8 391.6h0M998.6 393.4h0M996.1 398.2h0M1002.7 386.9h0M1004.6 397.8h0M1000.4 386.3h0M999.4 387.1h0M996.8 386.3h0M993.6 397.4h0M1004.1 394.6h0M992.7 388.6h0M1003.3 385.0h0M995.3 388.2h0M1007.9 388.4h0M996.7 392.6h0M992.8 393.8h0M1003.7 387.7h0M992.7 392.2h0M995.1 386.1h0M1002.4 392.1h0M1001.0 396.9h0M1007.8 393.2h0M998.7 398.7h0M997.6 384.9h0M1002.7 400.0h0M1003.4 397.5h0M1006.2 390.1h0M998.0 387.1h0M998.3 383.5h0M1003.8 388.9h0M995.3 399.0h0M998.9 389.9h0M995.9 395.8h0M996.9 391.1h0M1005.0 384.3h0M994.7 396.4h0M1003.5 391.1h0M1001.3 394.1h0M1007.6 396.4h0M999.6 396.9h0M1006.6 388.2h0M1001.5 387.9h0M1000.8 391.9h0M1006.4 391.5h0M993.8 394.5h0M1001.7 385.9h0M997.7 397.9h0M992.6 390.6h0M991.2 391.8h0M996.6 388.5h0M995.4 390.7h0M1006.3 393.0h0M999.5 394.1h0M1230.6 398.8h0M1221.8 389.6h0M1223.2 389.5h0M1232.0 391.1h0M1235.5 395.0h0M1220.3 395.2h0M1225.0 397.4h0M1226.3 394.8h0M1230.0 390.9h0M1224.5 387.9h0M1228.5 386.4h0M1224.8 389.2h0M1232.7 389.8h0M1229.1 392.0h0M1223.9 398.0h0M1228.5 395.2h0M1221.0 396.8h0M1223.1 395.4h0M1221.3 398.5h0M1224.3 385.4h0M1230.1 393.9h0M1226.0 389.3h0M1220.0 393.9h0M1229.0 389.2h0M1233.9 395.1h0M1220.6 391.7h0M1224.5 400.7h0M1227.4 395.8h0M1223.9 393.0h0M1223.8 399.6h0M1220.8 388.0h0M1233.5 392.6h0M1225.1 391.0h0M1235.8 391.7h0M1222.1 393.6h0M1231.2 393.2h0M1224.7 386.5h0M1222.8 400.4h0M1219.4 396.3h0M1227.4 399.9h0M1232.2 397.7h0M1227.4 390.6h0M1230.9 397.6h0M1226.4 397.9h0M1219.0 394.3h0M1230.5 385.6h0M1229.0 387.8h0M1235.1 390.4h0M1226.7 386.4h0M1234.2 388.8h0M1228.0 398.7h0M1233.3 387.4h0M1223.4 386.9h0M1225.5 401.6h0M1222.4 397.4h0M1235.1 393.5h0M1228.2 393.4h0M1225.9 399.1h0M1227.3 402.0h0M1226.0 400.5h0M1221.1 394.3h0M1224.5 395.1h0M1445.5 391.8h0M1443.9 397.9h0M1436.7 388.2h0M1436.0 394.9h0M1443.9 392.4h0M1436.7 400.7h0M1440.1 398.7h0M1444.8 396.2h0M1444.9 398.9h0M1430.4 399.4h0M1434.3 388.3h0M1438.4 389.0h0M1440.0 387.1h0M1435.3 401.4h0M1439.6 403.0h0M1433.6 402.0h0M1437.9 387.3h0M1432.9 389.1h0M1433.2 391.6h0M1441.1 400.3h0M1437.0 403.4h0M1435.0 391.3h0M1442.8 394.0h0M1439.5 395.9h0M1440.3 396.8h0M1439.2 397.3h0M1443.4 390.3h0M1432.8 400.5h0M1436.5 398.3h0M1433.8 397.4h0M1441.8 398.8h0M1437.2 391.2h0M1435.4 395.8h0M1435.2 388.8h0M1438.5 400.7h0M1442.5 399.7h0M1442.0 392.7h0M1435.0 393.9h0M1438.1 392.8h0M1433.7 390.1h0M1440.3 390.9h0M1431.9 398.4h0M1437.6 394.1h0M1433.9 403.2h0M1441.0 403.3h0M1432.4 395.3h0M1429.6 396.2h0M1442.5 401.6h0M1442.8 402.7h0M1446.4 396.4h0M1442.7 388.7h0M1438.1 404.1h0M1438.0 395.8h0M1440.8 401.4h0M1444.0 393.9h0M1441.3 391.5h0M1446.7 398.9h0M1434.8 398.7h0M1439.3 394.0h0M1432.5 401.9h0M1439.4 392.4h0M1445.6 397.3h0M1431.8 396.8h0M1433.1 393.6h0M1438.2 402.3h0M1442.4 391.0h0M1439.6 399.8h0M1430.6 390.9h0M1444.1 391.1h0" stroke="#999a9d" stroke-width="1.2"/>
<path d="M1256.2 93.0h0M1265.7 97.8h0M1263.1 105.4h0M1252.4 98.0h0M1257.0 100.9h0M1252.4 104.9h0M1260.8 96.4h0M1258.8 105.4h0M1263.1 99.7h0M1258.0 92.0h0M1257.8 98.8h0M1261.9 92.0h0M1256.0 107.2h0M1267.0 102.4h0M1251.7 103.3h0M1259.3 106.9h0M1256.2 105.7h0M1259.9 91.9h0M1262.9 97.2h0M1252.1 100.4h0M1264.8 105.2h0M1254.2 95.4h0M1263.9 106.6h0M1256.4 103.7h0M1254.5 98.8h0M1262.1 101.5h0M1265.3 96.1h0M1259.5 100.8h0M1261.1 108.2h0M1257.6 107.6h0M1261.5 103.4h0M1256.8 96.3h0M1254.0 104.6h0M1263.3 93.7h0M1259.9 94.5h0M1254.8 93.5h0M1266.2 99.4h0M1266.2 104.6h0M1261.0 98.4h0M1255.7 94.7h0M1264.4 103.5h0M1261.5 106.5h0M1265.3 100.8h0M1260.5 104.8h0M1254.1 100.7h0M1264.4 99.0h0M1258.8 103.6h0M1884.7 93.3h0M1878.2 95.3h0M1876.7 101.8h0M1877.5 93.9h0M1887.7 103.7h0M1875.3 95.1h0M1887.1 105.2h0M1884.9 99.1h0M1875.3 97.4h0M1885.6 105.5h0M1878.3 99.7h0M1882.4 97.3h0M1887.4 96.3h0M1875.5 99.7h0M1873.5 102.2h0M1876.1 106.0h0M1874.1 96.5h0M1880.6 96.9h0M1874.9 105.1h0M1872.7 100.3h0M1886.5 101.3h0M1884.7 106.8h0M1886.9 107.0h0M1881.2 108.4h0M1880.1 105.0h0M1881.6 93.2h0M1882.8 100.4h0M1875.2 103.1h0M1880.2 103.3h0M1885.3 103.4h0M1880.4 106.7h0M1883.6 108.5h0M1873.6 99.1h0M1873.3 104.0h0M1888.8 97.7h0M1888.2 102.1h0M1882.9 105.8h0M1878.7 105.4h0M1882.7 92.0h0M1888.4 99.7h0M1883.6 96.5h0M1882.4 102.4h0M1886.7 99.7h0M1879.7 109.0h0M1879.1 93.0h0M1884.8 101.7h0M1878.2 97.9h0M1878.4 102.5h0M1878.4 107.9h0M1886.0 95.1h0M1876.8 96.0h0M1689.0 390.2h0M1692.0 385.4h0M1691.3 384.0h0M1690.4 393.0h0M1685.6 387.1h0M1700.8 389.9h0M1690.8 398.8h0M1690.7 386.7h0M1696.6 384.2h0M1684.4 393.8h0M1685.8 395.7h0M1693.3 394.9h0M1692.0 399.8h0M1698.4 385.4h0M1688.8 399.3h0M1697.8 394.5h0M1695.7 395.7h0M1698.6 398.0h0M1685.2 389.3h0M1689.3 385.2h0M1692.3 397.3h0M1693.6 399.9h0M1685.9 392.0h0M1688.1 397.4h0M1699.6 392.4h0M1695.1 390.2h0M1696.0 392.9h0M1692.3 389.2h0M1695.1 383.1h0M1694.5 384.7h0M1689.0 393.3h0M1696.2 387.4h0M1698.6 396.3h0M1693.3 382.9h0M1687.5 393.6h0M1687.5 385.6h0M1699.9 394.2h0M1694.6 392.1h0M1690.7 394.5h0M1695.1 388.7h0M1701.7 392.6h0M1692.4 392.0h0M1697.0 397.6h0M1698.1 389.2h0M1687.8 389.1h0M1692.4 393.8h0M1693.7 396.5h0M1696.4 391.2h0M1696.5 385.8h0M1698.1 391.0h0M1691.0 388.6h0M1695.2 399.0h0M1918.4 279.1h0M1913.4 279.2h0M1902.2 278.8h0M1904.8 274.8h0M1900.8 284.1h0M1911.0 287.8h0M1904.7 277.3h0M1903.8 282.0h0M1902.4 272.5h0M1909.5 287.8h0M1906.0 270.8h0M1917.8 282.1h0M1913.6 283.0h0M1914.2 285.0h0M1900.0 277.4h0M1912.6 286.9h0M1915.9 273.6h0M1910.8 275.5h0M1899.9 281.4h0M1904.9 287.3h0M1912.0 271.8h0M1902.8 275.7h0M1915.9 280.8h0M1901.4 276.1h0M1916.8 274.9h0M1902.1 283.4h0M1915.2 282.8h0M1909.2 277.4h0M1903.4 280.1h0M1908.7 273.9h0M1915.0 278.8h0M1906.6 280.5h0M1905.0 279.1h0M1903.7 271.6h0M1903.1 285.9h0M1905.5 285.2h0M1905.6 272.3h0M1911.4 277.6h0M1909.4 285.1h0M1913.8 277.7h0M1908.0 270.1h0M1915.7 284.3h0M1908.8 279.5h0M1911.7 285.2h0M1912.6 274.8h0M1908.0 271.9h0M1917.1 283.5h0M1912.1 280.4h0M1902.7 274.0h0M1913.8 281.2h0M1905.5 282.7h0M1914.9 276.0h0M1910.2 280.8h0M1907.5 275.4h0M1908.0 287.7h0M1911.3 282.8h0M1900.5 278.9h0M1907.3 285.1h0M1907.4 277.6h0M1224.8 494.3h0M1218.7 500.5h0M1228.7 490.2h0M1221.4 499.7h0M1225.2 499.1h0M1215.9 488.4h0M1220.5 490.0h0M1220.1 503.2h0M1228.8 494.2h0M1224.7 487.9h0M1229.6 498.3h0M1215.7 502.7h0M1224.6 502.5h0M1227.4 499.6h0M1216.4 490.8h0M1228.5 500.7h0M1214.9 494.8h0M1218.9 487.5h0M1228.5 492.3h0M1226.5 492.1h0M1217.6 498.4h0M1213.7 497.0h0M1227.2 488.3h0M1224.4 492.5h0M1217.7 496.4h0M1217.5 502.9h0M1223.0 502.3h0M1230.0 495.3h0M1221.4 491.2h0M1215.9 493.5h0M1216.2 499.1h0M1213.0 493.3h0M1220.0 494.5h0M1217.5 488.2h0M1213.0 494.8h0M1218.1 490.0h0M1223.1 499.3h0M1228.0 497.3h0M1221.7 497.3h0M1225.3 495.7h0M1220.2 497.6h0M1221.1 504.5h0M1213.8 491.0h0M1221.1 486.6h0M1223.9 504.2h0M1221.7 493.1h0M1227.8 495.3h0M1222.2 489.1h0M1215.4 501.2h0M1218.5 493.1h0M1223.5 497.1h0M1230.3 496.8h0M1222.5 495.0h0M1226.7 490.3h0M1214.0 499.5h0M1215.2 491.7h0M1215.1 489.8h0M1214.6 569.6h0M1230.0 565.5h0M1221.5 565.7h0M1219.9 570.4h0M1228.5 573.7h0M1229.4 569.1h0M1216.6 567.9h0M1227.3 559.4h0M1223.6 566.1h0M1224.7 565.0h0M1219.1 565.7h0M1226.8 566.4h0M1217.5 560.0h0M1222.8 571.0h0M1215.4 566.7h0M1219.7 574.4h0M1228.0 572.0h0M1221.9 568.8h0M1224.8 562.2h0M1214.7 561.8h0M1228.6 566.5h0M1226.0 564.2h0M1215.1 572.6h0M1225.6 560.9h0M1219.7 568.0h0M1224.9 558.3h0M1218.0 574.3h0M1216.5 564.0h0M1223.0 559.5h0M1221.8 562.0h0M1227.3 562.5h0M1229.7 571.6h0M1213.0 566.9h0M1216.2 573.9h0M1223.6 574.6h0M1224.1 560.8h0M1220.5 575.7h0M1220.6 558.8h0M1227.0 569.5h0M1228.8 561.3h0M1228.5 570.3h0M1219.9 560.8h0M1225.6 567.7h0M1230.4 567.6h0M1226.3 571.5h0M1213.7 564.9h0M1219.2 562.4h0M1225.6 574.7h0M1229.0 563.4h0M1220.7 563.4h0M1230.8 570.2h0M1221.3 573.9h0M1230.6 564.0h0M1222.0 575.4h0M1220.1 572.1h0M1222.3 572.6h0M1215.0 564.0h0M1228.1 602.6h0M1219.5 608.1h0M1226.6 597.7h0M1214.9 603.6h0M1219.8 610.1h0M1229.4 600.1h0M1218.5 600.4h0M1221.9 604.1h0M1228.5 598.2h0M1223.3 602.0h0M1217.5 608.0h0M1229.9 606.6h0M1229.3 604.8h0M1220.7 599.2h0M1225.6 602.2h0M1216.0 601.7h0M1227.5 610.4h0M1223.6 605.4h0M1226.6 612.5h0M1220.9 596.5h0M1224.3 603.2h0M1222.6 596.0h0M1220.1 604.7h0M1217.6 599.1h0M1215.8 608.2h0M1217.2 597.5h0M1227.0 607.5h0M1229.2 609.6h0M1232.0 605.8h0M1223.6 611.6h0M1231.3 601.3h0M1214.4 606.4h0M1221.2 607.6h0M1220.3 601.9h0M1225.4 600.1h0M1221.8 611.7h0M1223.2 598.9h0M1219.7 598.0h0M1217.5 610.2h0M1230.8 609.0h0M1218.5 606.3h0M1224.5 613.3h0M1231.5 607.5h0M1226.8 596.2h0M1216.1 599.7h0M1223.6 607.3h0M1218.1 603.6h0M1221.7 606.1h0M1221.5 600.8h0M1228.7 607.7h0M1224.6 598.5h0M1219.4 612.3h0M1232.0 604.0h0M1216.1 606.2h0M1230.3 603.4h0M1223.9 610.2h0M1214.3 601.5h0M1906.6 484.6h0M1905.8 487.7h0M1901.5 489.6h0M1903.2 493.3h0M1913.2 491.1h0M1904.3 499.1h0M1918.1 492.9h0M1915.3 492.9h0M1909.0 484.2h0M1903.5 494.8h0M1916.2 497.2h0M1902.8 498.2h0M1909.4 500.8h0M1908.4 485.9h0M1907.6 493.7h0M1905.1 489.5h0M1905.7 486.1h0M1902.6 487.4h0M1909.5 491.1h0M1909.0 493.6h0M1907.6 490.4h0M1911.9 496.6h0M1914.5 487.8h0M1906.6 500.8h0M1910.8 500.4h0M1917.6 495.2h0M1905.3 492.6h0M1902.3 495.8h0M1916.5 488.5h0M1903.5 491.0h0M1913.9 486.0h0M1910.1 497.7h0M1914.4 494.7h0M1913.0 498.6h0M1911.6 485.5h0M1901.4 497.3h0M1903.5 489.5h0M1900.4 492.2h0M1906.0 495.3h0M1911.1 493.9h0M1908.2 498.4h0M1901.2 494.1h0M1911.7 491.7h0M1913.2 489.4h0M1908.3 488.7h0M1912.1 501.0h0M1911.3 489.0h0M1914.1 497.5h0M1909.0 495.3h0M1904.2 485.5h0M1908.0 496.4h0M1916.1 495.3h0M1905.3 535.8h0M1901.2 526.4h0M1912.7 529.3h0M1905.2 532.8h0M1904.9 527.3h0M1912.9 531.6h0M1913.3 522.5h0M1903.5 534.7h0M1917.2 534.4h0M1907.0 528.6h0M1908.7 523.0h0M1910.3 526.2h0M1911.3 528.7h0M1912.0 534.5h0M1910.8 539.3h0M1901.7 533.8h0M1908.4 536.1h0M1911.9 522.3h0M1902.0 530.6h0M1914.8 528.5h0M1907.8 534.4h0M1916.6 527.5h0M1911.2 524.3h0M1909.4 538.3h0M1909.2 528.2h0M1903.1 525.3h0M1915.9 533.1h0M1901.0 532.1h0M1917.2 532.4h0M1916.4 525.9h0M1913.9 526.7h0M1900.4 529.2h0M1904.5 524.0h0M1913.9 535.1h0M1904.0 537.2h0M1909.6 533.8h0M1912.2 537.5h0M1914.9 524.2h0M1906.4 524.5h0M1908.3 526.9h0M1915.3 530.4h0M1915.3 536.9h0M1906.8 537.2h0M1913.3 533.1h0M1912.1 536.0h0M1912.6 525.5h0M1915.6 535.1h0M1911.2 531.4h0M1908.3 521.5h0M1906.6 526.2h0M1908.7 532.2h0M1917.2 530.1h0M1906.4 539.1h0M1902.7 526.8h0M1908.1 539.1h0M1903.1 575.8h0M1899.3 572.7h0M1906.7 569.5h0M1904.8 559.3h0M1900.6 574.2h0M1907.1 572.9h0M1907.4 559.4h0M1905.8 562.3h0M1909.9 572.4h0M1897.6 568.3h0M1904.9 569.6h0M1902.5 560.8h0M1908.0 574.9h0M1906.0 574.4h0M1896.2 569.0h0M1912.6 566.0h0M1902.1 570.6h0M1906.3 575.9h0M1897.4 570.2h0M1910.5 562.9h0M1897.8 565.1h0M1900.3 565.9h0M1903.1 572.4h0M1911.9 571.1h0M1901.0 562.8h0M1906.1 567.1h0M1898.5 563.5h0M1902.7 573.9h0M1899.7 561.6h0M1904.0 564.8h0M1908.8 569.6h0M1908.4 566.9h0M1905.8 571.1h0M1901.8 566.7h0M1910.9 564.6h0M1899.9 564.4h0M1909.7 574.1h0M1913.4 567.6h0M1910.3 566.9h0M1908.6 565.2h0M1907.1 561.4h0M1907.2 565.9h0M1902.3 563.9h0M1905.8 564.4h0M1912.5 563.9h0M1900.2 569.9h0M1903.7 571.0h0M1912.0 568.7h0M1904.9 572.7h0M1896.3 566.8h0M1909.7 561.1h0M1911.8 597.2h0M1912.5 601.1h0M1903.4 597.2h0M1903.5 599.9h0M1905.5 598.8h0M1911.9 605.1h0M1898.2 600.7h0M1909.1 604.4h0M1913.8 603.4h0M1899.6 595.5h0M1906.5 604.9h0M1904.4 605.2h0M1906.3 592.6h0M1898.8 605.5h0M1897.8 603.1h0M1899.0 597.3h0M1900.7 603.4h0M1905.0 596.8h0M1906.8 594.8h0M1902.8 593.5h0M1904.9 593.6h0M1901.8 607.4h0M1910.3 602.9h0M1909.2 596.2h0M1907.6 596.1h0M1910.3 597.3h0M1907.7 600.6h0M1908.0 609.1h0M1902.1 602.2h0M1905.0 600.4h0M1898.3 599.2h0M1903.4 609.3h0M1914.0 600.9h0M1903.7 602.3h0M1914.1 598.6h0M1905.0 607.0h0M1910.3 593.9h0M1906.0 608.8h0M1907.8 598.5h0M1900.1 598.6h0M1909.9 601.5h0M1908.7 602.3h0M1909.6 607.2h0M1902.3 598.9h0M1907.6 607.6h0M1901.2 605.4h0M1908.3 594.8h0M1911.1 598.5h0M1905.8 602.0h0M1900.6 600.5h0M1900.9 593.7h0M1897.0 598.3h0" stroke="#b0b1b4" stroke-width="1.7"/>
<path d="M1272.8 320.7h0M1257.2 316.9h0M1265.1 306.7h0M1260.5 308.2h0M1259.3 323.7h0M1271.2 315.8h0M1261.2 313.1h0M1259.0 309.6h0M1255.8 319.5h0M1262.9 317.4h0M1267.8 324.1h0M1256.8 318.4h0M1273.7 313.8h0M1267.8 307.5h0M1263.2 324.1h0M1255.3 317.6h0M1269.1 314.0h0M1261.4 322.5h0M1271.7 309.7h0M1266.8 311.5h0M1257.3 312.5h0M1259.2 319.9h0M1265.8 316.7h0M1263.3 318.8h0M1271.4 311.2h0M1270.1 317.7h0M1267.0 325.6h0M1261.9 325.4h0M1262.6 309.8h0M1263.9 320.8h0M1267.7 316.7h0M1264.5 314.3h0M1263.7 308.4h0M1265.8 320.6h0M1257.0 314.3h0M1271.0 321.9h0M1270.7 308.6h0M1262.6 313.8h0M1274.5 315.9h0M1261.7 316.2h0M1266.2 323.8h0M1255.2 315.8h0M1271.6 318.7h0M1274.6 318.3h0M1271.7 323.4h0M1261.7 320.5h0M1259.5 321.9h0M1257.7 321.1h0M1269.3 308.1h0M1258.2 311.0h0M1267.2 315.2h0M1273.1 311.0h0M1271.1 313.7h0M1264.2 325.4h0M1272.5 312.4h0M1262.0 307.2h0M1268.0 309.4h0M1273.0 317.4h0M1269.8 316.1h0M1269.4 311.7h0M1258.7 316.3h0M1260.6 315.0h0M1264.0 316.0h0M1266.3 308.2h0M1260.7 319.3h0" stroke="#c6c7ca" stroke-width="1.7"/>
<path d="M1259.4 386.9h0M1266.4 384.9h0M1265.0 385.5h0M1260.6 396.0h0M1268.9 387.0h0M1264.4 393.1h0M1256.6 388.9h0M1257.8 387.9h0M1270.0 388.0h0M1268.1 399.0h0M1266.9 390.0h0M1272.6 390.0h0M1260.9 383.9h0M1257.6 393.0h0M1266.4 394.2h0M1259.2 397.7h0M1270.9 394.5h0M1269.7 391.4h0M1272.5 387.9h0M1269.3 397.0h0M1261.9 388.4h0M1271.3 391.2h0M1268.4 389.4h0M1261.1 398.0h0M1262.2 394.3h0M1268.5 385.8h0M1266.5 383.2h0M1268.6 394.4h0M1263.5 385.8h0M1262.8 398.6h0M1264.7 391.4h0M1263.9 388.5h0M1264.4 382.8h0M1264.3 398.6h0M1267.7 396.9h0M1266.2 398.0h0M1270.1 384.6h0M1259.8 390.9h0M1270.6 396.1h0M1259.9 393.5h0M1261.2 392.7h0M1262.0 397.0h0M1268.1 383.8h0M1271.0 387.0h0M1259.2 392.6h0M1261.1 390.4h0M1263.3 384.5h0M1267.0 391.5h0M1267.8 393.0h0M1257.9 390.3h0M1266.2 387.0h0M1271.0 389.6h0M1270.6 392.5h0M1261.2 387.1h0M1264.2 390.0h0M1263.1 396.8h0M1265.5 395.5h0M1258.8 389.2h0M1260.0 384.9h0M1269.6 393.7h0M1265.6 389.5h0M1256.7 390.7h0M1474.1 392.9h0M1466.6 387.7h0M1475.9 386.4h0M1471.6 392.8h0M1470.0 392.1h0M1478.1 391.9h0M1468.3 401.4h0M1473.3 389.3h0M1467.5 399.7h0M1472.9 396.5h0M1468.2 396.3h0M1462.8 395.9h0M1466.2 391.1h0M1463.7 391.0h0M1478.7 393.2h0M1478.6 396.7h0M1467.6 394.2h0M1466.0 394.1h0M1464.9 387.8h0M1470.0 395.7h0M1468.9 397.7h0M1475.2 394.1h0M1473.5 394.9h0M1475.5 399.6h0M1467.5 390.1h0M1463.7 398.5h0M1468.1 387.3h0M1470.2 401.3h0M1469.3 387.8h0M1465.1 395.7h0M1463.4 394.8h0M1472.9 393.7h0M1464.8 393.9h0M1462.1 394.4h0M1477.0 392.9h0M1464.8 389.1h0M1468.2 398.8h0M1468.4 385.4h0M1470.1 398.0h0M1472.9 400.2h0M1472.1 386.0h0M1474.2 401.1h0M1470.6 393.9h0M1474.4 388.8h0M1474.0 386.1h0M1469.0 393.3h0M1473.6 391.3h0M1473.5 397.5h0M1477.1 398.9h0M1475.5 388.7h0M1476.1 391.2h0M1471.4 397.1h0M1477.6 395.3h0M1470.5 388.0h0M1466.7 385.8h0M1476.5 396.2h0M1466.0 392.5h0M1466.4 400.5h0M1468.3 388.9h0M1472.2 390.2h0M1477.1 390.5h0M1477.3 388.2h0M1472.3 398.1h0M1469.1 394.5h0M1468.9 399.9h0" stroke="#a6a7aa" stroke-width="1.2"/>
<path d="M1511.7 399.2h0M1512.8 398.3h0M1501.5 396.2h0M1513.6 396.7h0M1509.2 395.7h0M1509.0 400.4h0M1506.3 390.9h0M1511.4 396.1h0M1503.4 390.2h0M1514.6 398.0h0M1500.3 392.9h0M1513.8 392.7h0M1512.8 394.5h0M1508.6 393.9h0M1505.7 402.5h0M1505.6 400.5h0M1501.4 399.8h0M1508.3 390.9h0M1509.1 392.4h0M1505.8 398.7h0M1508.8 388.1h0M1513.5 390.3h0M1501.7 392.9h0M1511.1 388.1h0M1504.4 395.9h0M1507.1 389.1h0M1510.8 392.4h0M1508.6 389.3h0M1500.7 398.4h0M1502.5 394.6h0M1502.1 398.1h0M1512.1 391.9h0M1506.0 394.0h0M1503.0 401.1h0" stroke="#9d9ea1" stroke-width="1.2"/>
<path d="M1666.5 391.8h0M1662.8 395.7h0M1662.3 392.7h0M1658.8 395.2h0M1654.3 392.7h0M1660.5 385.3h0M1662.4 388.6h0M1660.6 399.0h0M1656.6 396.6h0M1663.1 386.3h0M1655.7 395.2h0M1666.3 389.5h0M1665.2 393.6h0M1659.5 390.1h0M1879.2 386.7h0M1879.3 393.3h0M1873.9 392.5h0M1875.2 389.3h0M1877.6 394.9h0M1885.3 391.2h0M1883.0 387.0h0M1877.1 399.3h0M1882.5 398.5h0M1873.3 397.7h0M1874.9 394.8h0M1871.6 392.2h0M1875.4 391.9h0M1875.7 385.8h0" stroke="#828386" stroke-width="1.3"/>
<path d="M1662.3 387.8h0M1666.8 393.2h0M1663.9 389.9h0M1661.9 392.7h0M1663.9 385.9h0M1661.4 385.8h0M1664.4 388.4h0M1655.2 391.8h0M1659.4 390.7h0M1666.9 390.6h0M1880.3 395.3h0M1873.6 387.6h0M1884.5 394.1h0M1874.8 396.6h0M1879.1 392.1h0M1873.9 394.6h0M1871.6 390.6h0M1883.6 391.6h0M1882.9 388.1h0M1875.7 388.7h0" stroke="#a3a4a7" stroke-width="1.2"/>
<path d="M1660.1 391.4h0M1878.8 392.7h0" stroke="#848588" stroke-width="5.2"/>
<path d="M1660.7 391.1h0M1878.3 393.1h0" stroke="#a5a6a9" stroke-width="2.4"/>
</g>
<text x="0.0" y="275.0" font-size="41.7" text-anchor="start" font-weight="bold">b</text>
<line x1="111.0" y1="271.9" x2="111.0" y2="661.7" stroke="#231f20" stroke-width="4.1" stroke-linecap="butt"/>
<line x1="111.0" y1="653.4" x2="688.3" y2="653.4" stroke="#231f20" stroke-width="4.1" stroke-linecap="butt"/>
<line x1="103.0" y1="653.4" x2="111.0" y2="653.4" stroke="#231f20" stroke-width="4.1" stroke-linecap="butt"/>
<text x="90.6" y="663.1" font-size="29.4" text-anchor="end" >0</text>
<line x1="103.0" y1="577.5" x2="111.0" y2="577.5" stroke="#231f20" stroke-width="4.1" stroke-linecap="butt"/>
<text x="90.6" y="587.2" font-size="29.4" text-anchor="end" >0.3</text>
<line x1="103.0" y1="501.6" x2="111.0" y2="501.6" stroke="#231f20" stroke-width="4.1" stroke-linecap="butt"/>
<text x="90.6" y="511.3" font-size="29.4" text-anchor="end" >0.6</text>
<line x1="103.0" y1="425.8" x2="111.0" y2="425.8" stroke="#231f20" stroke-width="4.1" stroke-linecap="butt"/>
<text x="90.6" y="435.5" font-size="29.4" text-anchor="end" >0.9</text>
<line x1="103.0" y1="349.9" x2="111.0" y2="349.9" stroke="#231f20" stroke-width="4.1" stroke-linecap="butt"/>
<text x="90.6" y="359.6" font-size="29.4" text-anchor="end" >1.2</text>
<line x1="103.0" y1="274.0" x2="111.0" y2="274.0" stroke="#231f20" stroke-width="4.1" stroke-linecap="butt"/>
<text x="90.6" y="283.7" font-size="29.4" text-anchor="end" >1.5</text>
<text x="111.0" y="694.3" font-size="29.4" text-anchor="middle" >0</text>
<line x1="226.0" y1="653.4" x2="226.0" y2="661.7" stroke="#231f20" stroke-width="4.1" stroke-linecap="butt"/>
<text x="226.0" y="694.3" font-size="29.4" text-anchor="middle" >5</text>
<line x1="341.0" y1="653.4" x2="341.0" y2="661.7" stroke="#231f20" stroke-width="4.1" stroke-linecap="butt"/>
<text x="341.0" y="694.3" font-size="29.4" text-anchor="middle" >10</text>
<line x1="456.0" y1="653.4" x2="456.0" y2="661.7" stroke="#231f20" stroke-width="4.1" stroke-linecap="butt"/>
<text x="456.0" y="694.3" font-size="29.4" text-anchor="middle" >15</text>
<line x1="571.0" y1="653.4" x2="571.0" y2="661.7" stroke="#231f20" stroke-width="4.1" stroke-linecap="butt"/>
<text x="571.0" y="694.3" font-size="29.4" text-anchor="middle" >20</text>
<line x1="686.0" y1="653.4" x2="686.0" y2="661.7" stroke="#231f20" stroke-width="4.1" stroke-linecap="butt"/>
<text x="686.0" y="694.3" font-size="29.4" text-anchor="middle" >25</text>
<text x="395.0" y="736.0" font-size="29.4" text-anchor="middle" >Time (h)</text>
<text transform="translate(22.8 467.5) rotate(-90)" font-size="29.8" text-anchor="middle">Growth (OD<tspan font-size="19" dy="8">600</tspan><tspan dy="-8">)</tspan></text>
<path d="M227.3 646.6h0M214.4 647.6h0M201.5 648.4h0M240.1 645.3h0M252.7 643.3h0M265.2 640.3h0M277.5 636.3h0M289.3 631.3h0M300.6 625.3h0M311.3 617.7h0M321.4 609.5h0M330.6 600.4h0M339.1 590.4h0M347.2 580.7h0M355.0 570.3h0M362.0 559.4h0M368.6 548.4h0M375.0 537.3h0M381.1 525.8h0M387.2 514.3h0M393.1 502.7h0M398.9 491.1h0M404.8 479.7h0M410.7 468.1h0M416.9 456.7h0M423.1 445.3h0M429.6 434.3h0M436.3 423.1h0M443.3 412.1h0M450.2 401.2h0M457.5 390.5h0M464.9 379.9h0M472.6 369.5h0M480.7 359.4h0M489.3 349.7h0M498.2 340.5h0M507.6 331.4h0M517.6 322.9h0M528.0 315.1h0M538.9 308.1h0M550.3 301.8h0M562.0 296.6h0M574.2 292.5h0M586.8 289.7h0M599.6 288.0h0M612.6 288.0h0M625.5 288.0h0M638.5 288.0h0M651.5 288.0h0M664.4 288.0h0M677.4 288.0h0" fill="none" stroke="#231f20" stroke-width="6.3" stroke-linecap="round"/>
<path d="M111.0 652.6 113.5 652.6 116.0 652.5 118.5 652.5 121.0 652.4 123.5 652.4 126.0 652.4 128.5 652.3 131.0 652.3 133.5 652.3 136.0 652.2 138.5 652.2 141.0 652.1 143.5 652.1 146.0 652.0 148.5 652.0 151.0 651.9 153.5 651.8 156.0 651.7 158.5 651.6 161.0 651.5 163.5 651.4 166.0 651.3 168.5 651.1 171.0 651.0 173.5 650.9 176.0 650.8 178.5 650.6 181.0 650.5 183.5 650.3 186.0 650.1 188.5 649.8 191.0 649.6 193.5 649.4 196.0 649.2 198.5 649.0 201.0 648.8 203.5 648.6 206.0 648.4 208.5 648.3 211.0 648.1 213.5 648.0 216.0 647.8 218.5 647.7 221.0 647.5 223.5 647.4 226.0 647.2 228.5 646.9 231.0 646.7 233.5 646.5 236.0 646.2 238.5 645.9 241.0 645.6 243.5 645.3 246.0 644.9 248.5 644.5 251.0 644.1 253.5 643.6 256.0 643.1 258.5 642.5 261.0 641.9 263.5 641.2 266.0 640.5 268.5 639.7 271.0 638.9 273.5 638.1 276.0 637.2 278.5 636.3 281.0 635.4 283.5 634.5 286.0 633.4 288.5 632.4 291.0 631.3 293.5 630.1 296.0 628.9 298.5 627.6 301.0 626.2 303.5 624.8 306.0 623.3 308.5 621.7 311.0 620.1 313.5 618.4 316.0 616.7 318.5 614.9 321.0 612.9 323.5 610.9 326.0 608.9 328.5 606.7 331.0 604.5 333.5 602.2 336.0 599.8 338.5 597.4 341.0 595.0 343.5 592.5 346.0 590.0 348.5 587.3 351.0 584.5 353.5 581.5 356.0 578.4 358.5 575.3 361.0 572.0 363.5 568.6 366.0 565.2 368.5 561.7 371.0 558.1 373.5 554.3 376.0 550.5 378.5 546.5 381.0 542.3 383.5 538.0 386.0 533.5 388.5 528.9 391.0 524.2 393.5 519.4 396.0 514.6 398.5 509.6 401.0 504.7 403.5 499.7 406.0 494.8 408.5 489.9 411.0 485.0 413.5 480.2 416.0 475.4 418.5 470.6 421.0 466.0 423.5 461.4 426.0 456.8 428.5 452.3 431.0 447.9 433.5 443.4 436.0 439.0 438.5 434.6 441.0 430.1 443.5 425.6 446.0 421.1 448.5 416.5 451.0 412.0 453.5 407.6 456.0 403.3 458.5 399.3 461.0 395.4 463.5 391.6 466.0 388.0 468.5 384.5 471.0 381.1 473.5 377.8 476.0 374.6 478.5 371.4 481.0 368.4 483.5 365.4 486.0 362.6 488.5 359.7 491.0 357.0 493.5 354.2 496.0 351.6 498.5 349.0 501.0 346.5 503.5 344.0 506.0 341.6 508.5 339.3 511.0 337.1 513.5 334.9 516.0 332.8 518.5 330.7 521.0 328.7 523.5 326.7 526.0 324.9 528.5 323.1 531.0 321.4 533.5 319.7 536.0 318.1 538.5 316.4 541.0 314.8 543.5 313.1 546.0 311.5 548.5 310.0 551.0 308.6 553.5 307.2 556.0 306.0 558.5 304.8 561.0 303.7 563.5 302.7 566.0 301.7 568.5 300.7 571.0 299.8 573.5 298.9 576.0 298.2 578.5 297.5 581.0 296.8 583.5 296.3 586.0 295.8 588.5 295.4 591.0 295.0 593.5 294.7 596.0 294.5 598.5 294.3 601.0 294.2 603.5 294.1 606.0 294.0 608.5 294.0 611.0 293.9 613.5 293.9 616.0 293.9 618.5 294.0 621.0 294.0 623.5 294.0 626.0 294.0 628.5 294.0 631.0 294.0 633.5 294.1 636.0 294.1 638.5 294.1 641.0 294.1 643.5 294.2 646.0 294.2 648.5 294.2 651.0 294.2 653.5 294.2 656.0 294.2 658.5 294.2 661.0 294.2 663.5 294.2 666.0 294.2 668.5 294.2 671.0 294.2 673.5 294.2 676.0 294.2 678.5 294.2 681.0 294.2 683.5 294.2 688.3 294.2" fill="none" stroke="#231f20" stroke-width="7" stroke-linecap="butt" stroke-linejoin="round"/>
<path d="M266.2 648.3h0M279.0 646.8h0M291.8 645.0h0M304.6 642.5h0M317.4 639.5h0M329.9 635.6h0M341.7 631.1h0M353.3 625.6h0M365.0 619.4h0M375.7 612.5h0M386.4 605.2h0M396.4 597.2h0M405.9 588.1h0M415.3 579.0h0M424.2 569.8h0M432.8 560.1h0M441.0 550.0h0M449.0 540.0h0M457.1 529.7h0M465.1 519.5h0M473.1 509.5h0M481.3 499.2h0M489.4 488.9h0M497.4 478.8h0M505.4 468.7h0M513.6 458.7h0M522.0 448.5h0M530.8 439.3h0M539.8 430.4h0M549.5 421.6h0M559.8 413.8h0M570.8 406.9h0M582.4 400.5h0M594.3 396.0h0M606.5 392.0h0M618.8 388.4h0M631.6 385.3h0M644.6 382.9h0M657.2 381.0h0M670.0 379.5h0M683.0 378.4h0" fill="none" stroke="#b1b3b6" stroke-width="6.3" stroke-linecap="round"/>
<path d="M110.6 652.4C125.5 652.3 168.4 652.0 200.0 651.8C231.6 651.6 266.7 651.6 300.0 651.3C333.3 651.0 376.7 650.6 400.0 650.2C423.3 649.9 426.7 649.7 440.0 649.2C453.3 648.7 469.6 648.0 480.0 647.4C490.4 646.8 494.8 646.2 502.1 645.7C509.5 645.2 516.8 644.8 524.1 644.3C531.5 643.8 538.8 643.2 546.2 642.7C553.6 642.2 560.9 641.6 568.3 641.0C575.6 640.4 582.9 639.6 590.3 638.8C597.6 638.0 605.0 637.0 612.4 636.1C619.8 635.2 627.1 634.4 634.5 633.4C641.9 632.4 649.1 631.3 656.5 630.3C663.9 629.3 673.4 628.0 678.6 627.3C683.9 626.6 686.4 626.1 688.0 625.9" fill="none" stroke="#b1b3b6" stroke-width="6.2" stroke-linecap="butt"/>
<path d="M114.8 279.1H181" fill="none" stroke="#231f20" stroke-width="6.6" stroke-linecap="round" stroke-dasharray="0 12.93"/>
<line x1="113.0" y1="313.4" x2="185.6" y2="313.4" stroke="#231f20" stroke-width="6.4" stroke-linecap="round"/>
<path d="M114.8 348H181" fill="none" stroke="#b1b3b6" stroke-width="6.6" stroke-linecap="round" stroke-dasharray="0 12.93"/>
<line x1="114.2" y1="382.2" x2="185.6" y2="382.2" stroke="#b1b3b6" stroke-width="6.4" stroke-linecap="round"/>
<text x="202.5" y="287.5" font-size="25" text-anchor="start" >WT–ADE</text>
<text x="202.5" y="318.3" font-size="25" text-anchor="start" >WT+ADE</text>
<text x="202.5" y="353.3" font-size="25" text-anchor="start" ><tspan font-size="28.6"><tspan font-style="italic">aah1</tspan><tspan class="dl">Δ</tspan><tspan font-style="italic">apt1</tspan><tspan class="dl">Δ</tspan></tspan>–ADE</text>
<text x="202.5" y="390.5" font-size="25" text-anchor="start" ><tspan font-size="28.6"><tspan font-style="italic">aah1</tspan><tspan class="dl">Δ</tspan><tspan font-style="italic">apt1</tspan><tspan class="dl">Δ</tspan></tspan>+ADE</text>
<text x="0.3" y="819.4" font-size="41.7" text-anchor="start" font-weight="bold">d</text>
<line x1="111.0" y1="824.1" x2="111.0" y2="1269.5" stroke="#231f20" stroke-width="4.1" stroke-linecap="butt"/>
<line x1="111.0" y1="1261.1" x2="688.6" y2="1261.1" stroke="#231f20" stroke-width="4.1" stroke-linecap="butt"/>
<line x1="102.9" y1="1261.1" x2="111.0" y2="1261.1" stroke="#231f20" stroke-width="4.1" stroke-linecap="butt"/>
<text x="90.4" y="1270.9" font-size="29.4" text-anchor="end" >0</text>
<line x1="102.9" y1="1173.7" x2="111.0" y2="1173.7" stroke="#231f20" stroke-width="4.1" stroke-linecap="butt"/>
<text x="90.4" y="1183.5" font-size="29.4" text-anchor="end" >0.3</text>
<line x1="102.9" y1="1086.3" x2="111.0" y2="1086.3" stroke="#231f20" stroke-width="4.1" stroke-linecap="butt"/>
<text x="90.4" y="1096.1" font-size="29.4" text-anchor="end" >0.6</text>
<line x1="102.9" y1="998.9" x2="111.0" y2="998.9" stroke="#231f20" stroke-width="4.1" stroke-linecap="butt"/>
<text x="90.4" y="1008.7" font-size="29.4" text-anchor="end" >0.9</text>
<line x1="102.9" y1="911.5" x2="111.0" y2="911.5" stroke="#231f20" stroke-width="4.1" stroke-linecap="butt"/>
<text x="90.4" y="921.3" font-size="29.4" text-anchor="end" >1.2</text>
<line x1="102.9" y1="824.1" x2="111.0" y2="824.1" stroke="#231f20" stroke-width="4.1" stroke-linecap="butt"/>
<text x="90.4" y="833.9" font-size="29.4" text-anchor="end" >1.5</text>
<text x="111.5" y="1302.0" font-size="29.4" text-anchor="middle" >0.01</text>
<line x1="276.2" y1="1261.1" x2="276.2" y2="1269.5" stroke="#231f20" stroke-width="4.1" stroke-linecap="butt"/>
<text x="275.2" y="1302.0" font-size="29.4" text-anchor="middle" >1</text>
<line x1="441.4" y1="1261.1" x2="441.4" y2="1269.5" stroke="#231f20" stroke-width="4.1" stroke-linecap="butt"/>
<text x="440.4" y="1302.0" font-size="29.4" text-anchor="middle" >100</text>
<line x1="606.6" y1="1261.1" x2="606.6" y2="1269.5" stroke="#231f20" stroke-width="4.1" stroke-linecap="butt"/>
<text x="605.6" y="1302.0" font-size="29.4" text-anchor="middle" >10,000</text>
<text x="395.5" y="1343.5" font-size="29.4" text-anchor="middle" >Adenine (log<tspan font-size="19" dy="8">10</tspan><tspan dy="-8">, <tspan class="mu">μ</tspan>g/L)</tspan></text>
<text transform="translate(22.8 1045.0) rotate(-90)" font-size="29.8" text-anchor="middle">Growth (OD<tspan font-size="19" dy="8">600</tspan><tspan dy="-8">)</tspan></text>
<path d="M157.0 879.8 160.0 879.8 163.0 879.8 166.0 879.8 169.0 879.8 172.0 879.8 175.0 879.8 178.0 879.8 181.0 879.8 184.0 879.8 187.0 879.8 190.0 879.8 193.0 879.9 196.0 879.9 199.0 879.9 202.0 879.9 205.0 879.9 208.0 879.9 211.0 879.9 214.0 879.9 217.0 880.0 220.0 880.0 223.0 880.0 226.0 880.0 229.0 880.1 232.0 880.1 235.0 880.1 238.0 880.2 241.0 880.2 244.0 880.3 247.0 880.4 250.0 880.5 253.0 880.5 256.0 880.6 259.0 880.8 262.0 880.9 265.0 881.1 268.0 881.2 271.0 881.4 274.0 881.7 277.0 881.9 280.0 882.2 283.0 882.6 286.0 882.9 289.0 883.4 292.0 883.9 295.0 884.4 298.0 885.1 301.0 885.8 304.0 886.6 307.0 887.6 310.0 888.6 313.0 889.8 316.0 891.2 319.0 892.8 322.0 894.5 325.0 896.5 328.0 898.7 331.0 901.2 334.0 904.1 337.0 907.2 340.0 910.8 343.0 914.7 346.0 919.1 349.0 924.0 352.0 929.4 355.0 935.4 358.0 942.0 361.0 949.1 364.0 956.9 367.0 965.3 370.0 974.4 373.0 984.1 376.0 994.4 379.0 1005.2 382.0 1016.6 385.0 1028.4 388.0 1040.6 391.0 1053.0 394.0 1065.6 397.0 1078.3 400.0 1090.9 403.0 1103.3 406.0 1115.5 409.0 1127.3 412.0 1138.7 415.0 1149.6 418.0 1159.9 421.0 1169.7 424.0 1178.8 427.0 1187.2 430.0 1195.1 433.0 1202.3 436.0 1208.9 439.0 1214.9 442.0 1220.3 445.0 1225.3 448.0 1229.7 451.0 1233.7 454.0 1237.2 457.0 1240.4 460.0 1243.3 463.0 1245.8 466.0 1248.1 469.0 1250.1 472.0 1251.8 475.0 1253.4 478.0 1254.8 481.0 1256.0 484.0 1257.1 487.0 1258.0 490.0 1258.8 493.0 1259.6 496.0 1260.2 499.0 1260.8 502.0 1261.3 505.0 1261.7 508.0 1262.1 511.0 1262.5 514.0 1262.8 517.0 1263.0 520.0 1263.3 523.0 1263.5 526.0 1263.6 529.0 1263.8 532.0 1263.9 535.0 1264.0 538.0 1264.2 541.0 1264.2 544.0 1264.3 547.0 1264.4 550.0 1264.5 553.0 1264.5 556.0 1264.6 559.0 1264.6 562.0 1264.6 565.0 1264.7 568.0 1264.7 571.0 1264.7 574.0 1264.7 577.0 1264.8 580.0 1264.8 583.0 1264.8 586.0 1264.8 589.0 1264.8 592.0 1264.8 595.0 1264.8 598.0 1264.8 601.0 1264.9 604.0 1264.9 607.0 1264.9 610.0 1264.9 613.0 1264.9 616.0 1264.9 619.0 1264.9 622.0 1264.9 625.0 1264.9 628.0 1264.9 631.0 1264.9 634.0 1264.9 637.0 1264.9 640.0 1264.9 643.0 1264.9 646.0 1264.9 649.0 1264.9 652.0 1264.9 655.0 1264.9 658.0 1264.9 661.0 1264.9 664.0 1264.9" fill="none" stroke="#231f20" stroke-width="3.8" stroke-linejoin="round"/>
<rect x="151.3" y="863.3" width="15.8" height="15.8" fill="#231f20"/>
<rect x="176.2" y="869.0" width="15.8" height="15.8" fill="#231f20"/>
<rect x="201.0" y="874.9" width="15.8" height="15.8" fill="#231f20"/>
<rect x="225.9" y="854.5" width="15.8" height="15.8" fill="#231f20"/>
<rect x="250.7" y="857.4" width="15.8" height="15.8" fill="#231f20"/>
<rect x="275.6" y="892.6" width="15.8" height="15.8" fill="#231f20"/>
<rect x="300.5" y="892.7" width="15.8" height="15.8" fill="#231f20"/>
<rect x="325.3" y="927.9" width="15.8" height="15.8" fill="#231f20"/>
<rect x="350.2" y="916.3" width="15.8" height="15.8" fill="#231f20"/>
<rect x="375.0" y="1015.8" width="15.8" height="15.8" fill="#231f20"/>
<rect x="399.9" y="1109.5" width="15.8" height="15.8" fill="#231f20"/>
<rect x="424.8" y="1197.3" width="15.8" height="15.8" fill="#231f20"/>
<rect x="449.6" y="1226.9" width="15.8" height="15.8" fill="#231f20"/>
<rect x="474.5" y="1255.8" width="15.8" height="15.8" fill="#231f20"/>
<rect x="499.3" y="1255.8" width="15.8" height="15.8" fill="#231f20"/>
<rect x="524.2" y="1255.8" width="15.8" height="15.8" fill="#231f20"/>
<rect x="549.1" y="1255.8" width="15.8" height="15.8" fill="#231f20"/>
<rect x="573.9" y="1255.8" width="15.8" height="15.8" fill="#231f20"/>
<rect x="598.8" y="1255.8" width="15.8" height="15.8" fill="#231f20"/>
<rect x="623.6" y="1255.8" width="15.8" height="15.8" fill="#231f20"/>
<rect x="648.5" y="1255.8" width="15.8" height="15.8" fill="#231f20"/>
<text x="159.0" y="1104.2" font-size="28.6" text-anchor="start" ><tspan font-style="italic">aah1</tspan><tspan class="dl">Δ</tspan><tspan font-style="italic">apt1</tspan><tspan class="dl">Δ</tspan></text>
<line x1="443.1" y1="819.5" x2="443.1" y2="970.1" stroke="#231f20" stroke-width="4.1" stroke-linecap="butt"/>
<line x1="443.1" y1="962.3" x2="633.2" y2="962.3" stroke="#231f20" stroke-width="4.1" stroke-linecap="butt"/>
<line x1="435.1" y1="962.3" x2="443.1" y2="962.3" stroke="#231f20" stroke-width="3.9" stroke-linecap="butt"/>
<text x="422.5" y="972.1" font-size="29.4" text-anchor="end" >0</text>
<line x1="435.1" y1="914.7" x2="443.1" y2="914.7" stroke="#231f20" stroke-width="3.9" stroke-linecap="butt"/>
<text x="422.5" y="924.5" font-size="29.4" text-anchor="end" >0.5</text>
<line x1="435.1" y1="867.1" x2="443.1" y2="867.1" stroke="#231f20" stroke-width="3.9" stroke-linecap="butt"/>
<text x="422.5" y="876.9" font-size="29.4" text-anchor="end" >1</text>
<line x1="435.1" y1="819.5" x2="443.1" y2="819.5" stroke="#231f20" stroke-width="3.9" stroke-linecap="butt"/>
<text x="422.5" y="829.3" font-size="29.4" text-anchor="end" >1.5</text>
<text x="441.1" y="1004.1" font-size="29.4" text-anchor="middle" >0.01</text>
<line x1="524.7" y1="962.3" x2="524.7" y2="970.1" stroke="#231f20" stroke-width="3.9" stroke-linecap="butt"/>
<text x="527.2" y="1004.1" font-size="29.4" text-anchor="middle" >10</text>
<line x1="606.3" y1="962.3" x2="606.3" y2="970.1" stroke="#231f20" stroke-width="3.9" stroke-linecap="butt"/>
<text x="605.8" y="1004.1" font-size="29.4" text-anchor="middle" >10,000</text>
<path d="M459.0 845.9h0M467.2 843.1h0M475.3 841.0h0M483.5 839.0h0M491.7 833.3h0M499.9 835.0h0M508.0 835.0h0M516.2 833.3h0M524.4 837.4h0M532.5 833.3h0M540.7 835.0h0M548.9 837.4h0M557.0 833.3h0M565.2 835.1h0M573.4 831.4h0M581.5 833.3h0M589.7 833.3h0M597.9 842.5h0M606.1 838.1h0M614.2 848.0h0M622.4 843.2h0" stroke="#231f20" stroke-width="5.3" stroke-linecap="round" fill="none"/>
<text x="541.5" y="903.3" font-size="29.4" text-anchor="middle" >WT</text>
<text x="748.0" y="819.4" font-size="41.7" text-anchor="start" font-weight="bold">e</text>
<line x1="872.2" y1="831.3" x2="872.2" y2="1271.7" stroke="#231f20" stroke-width="4.1" stroke-linecap="butt"/>
<line x1="872.2" y1="1263.7" x2="1193.4" y2="1263.7" stroke="#231f20" stroke-width="4.1" stroke-linecap="butt"/>
<line x1="863.8" y1="1263.7" x2="872.2" y2="1263.7" stroke="#231f20" stroke-width="4.1" stroke-linecap="butt"/>
<text x="852.0" y="1273.5" font-size="29.4" text-anchor="end" >0</text>
<line x1="863.8" y1="1177.2" x2="872.2" y2="1177.2" stroke="#231f20" stroke-width="4.1" stroke-linecap="butt"/>
<text x="852.0" y="1187.0" font-size="29.4" text-anchor="end" >100</text>
<line x1="863.8" y1="1090.7" x2="872.2" y2="1090.7" stroke="#231f20" stroke-width="4.1" stroke-linecap="butt"/>
<text x="852.0" y="1100.5" font-size="29.4" text-anchor="end" >200</text>
<line x1="863.8" y1="1004.3" x2="872.2" y2="1004.3" stroke="#231f20" stroke-width="4.1" stroke-linecap="butt"/>
<text x="852.0" y="1014.1" font-size="29.4" text-anchor="end" >300</text>
<line x1="863.8" y1="917.8" x2="872.2" y2="917.8" stroke="#231f20" stroke-width="4.1" stroke-linecap="butt"/>
<text x="852.0" y="927.6" font-size="29.4" text-anchor="end" >400</text>
<line x1="863.8" y1="831.3" x2="872.2" y2="831.3" stroke="#231f20" stroke-width="4.1" stroke-linecap="butt"/>
<text x="852.0" y="841.1" font-size="29.4" text-anchor="end" >500</text>
<line x1="1191.3" y1="1263.7" x2="1191.3" y2="1271.7" stroke="#231f20" stroke-width="4.1" stroke-linecap="butt"/>
<rect x="908.6" y="1258" width="48.6" height="5.7" fill="#231f20"/>
<rect x="958.3" y="1227.9" width="49.2" height="35.8" fill="#fff" stroke="#231f20" stroke-width="4.1"/>
<rect x="1055.2" y="1257.3" width="49" height="6.4" fill="#231f20"/>
<rect x="1105.5" y="991.1" width="49.1" height="272.6" fill="#fff" stroke="#231f20" stroke-width="4.1"/>
<line x1="982.4" y1="1227.9" x2="982.4" y2="1222.4" stroke="#231f20" stroke-width="2.6" stroke-linecap="butt"/>
<line x1="976.3" y1="1222.4" x2="989.1" y2="1222.4" stroke="#231f20" stroke-width="2.8" stroke-linecap="butt"/>
<line x1="1129.9" y1="991.0" x2="1129.9" y2="942.1" stroke="#231f20" stroke-width="2.6" stroke-linecap="butt"/>
<line x1="1123.8" y1="942.1" x2="1136.6" y2="942.1" stroke="#231f20" stroke-width="3" stroke-linecap="butt"/>
<line x1="927.0" y1="1257.4" x2="938.5" y2="1257.4" stroke="#231f20" stroke-width="1.6" stroke-linecap="butt"/>
<line x1="1074.0" y1="1256.8" x2="1086.0" y2="1256.8" stroke="#231f20" stroke-width="1.6" stroke-linecap="butt"/>
<path d="M981.6 1211.3V877.7H1129.1V925.1" fill="none" stroke="#231f20" stroke-width="3.1"/>
<path d="M1078.3 1247.1V909.2H1129.1" fill="none" stroke="#231f20" stroke-width="3.1"/>
<text x="1057.3" y="879.5" font-size="32" text-anchor="middle" >*</text>
<text x="1103.3" y="911.0" font-size="32" text-anchor="middle" >*</text>
<rect x="883.4" y="826.2" width="15.8" height="15.7" fill="#231f20"/>
<text x="907.3" y="843.3" font-size="25" text-anchor="start" >WT</text>
<rect x="962" y="827.2" width="14.1" height="14.2" rx="0.8" fill="#fff" stroke="#231f20" stroke-width="3.8"/>
<text x="986.5" y="843.3" font-size="28.6" text-anchor="start" ><tspan font-style="italic">aah1</tspan><tspan class="dl">Δ</tspan><tspan font-style="italic">apt1</tspan><tspan class="dl">Δ</tspan></text>
<text x="957.8" y="1298.6" font-size="29.4" text-anchor="middle" >–ADE</text>
<text x="1104.3" y="1298.6" font-size="29.4" text-anchor="middle" >+ADE</text>
<text transform="translate(777.5 1047.0) rotate(-90)" font-size="29.8" text-anchor="middle">Adenine (ng/10<tspan font-size="19" dy="-11">8</tspan><tspan dy="11"> cells)</tspan></text>
</svg>
</body></html>
